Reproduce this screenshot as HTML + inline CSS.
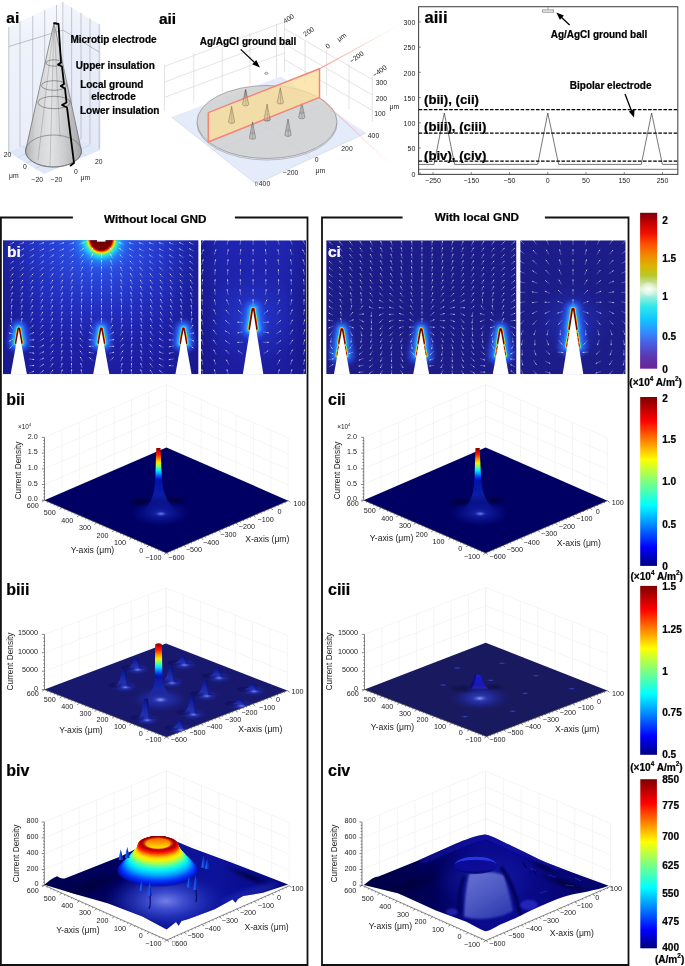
<!DOCTYPE html>
<html><head><meta charset="utf-8"><title>Figure</title>
<style>
html,body{margin:0;padding:0;background:#fff;}
body{width:685px;height:966px;overflow:hidden;font-family:"Liberation Sans",sans-serif;}
svg{display:block;font-family:"Liberation Sans",sans-serif;}
</style></head><body>
<svg width="685" height="966" viewBox="0 0 685 966">
<defs>
<linearGradient id="wallL" x1="0" y1="0" x2="0" y2="1" gradientUnits="objectBoundingBox"><stop offset="0" stop-color="#f7f9fe"/><stop offset="0.25" stop-color="#eef2fb"/><stop offset="1" stop-color="#e9eef9"/></linearGradient>
<linearGradient id="wallR" x1="0" y1="0" x2="0" y2="1" gradientUnits="objectBoundingBox"><stop offset="0" stop-color="#f4f6fd"/><stop offset="0.25" stop-color="#e9eef9"/><stop offset="1" stop-color="#e3e9f6"/></linearGradient>
<linearGradient id="coneg" x1="0" y1="0" x2="1" y2="0" gradientUnits="objectBoundingBox"><stop offset="0" stop-color="#a8a8a8"/><stop offset="0.18" stop-color="#cfcfcf"/><stop offset="0.45" stop-color="#e2e2e2"/><stop offset="0.7" stop-color="#c9c9c9"/><stop offset="1" stop-color="#9c9c9c"/></linearGradient>
<linearGradient id="pinkfade1" x1="319.5" y1="68.7" x2="405" y2="22" gradientUnits="userSpaceOnUse"><stop offset="0" stop-color="#f5897a" stop-opacity="0.85"/><stop offset="0.4" stop-color="#f5897a" stop-opacity="0.4"/><stop offset="0.75" stop-color="#f5897a" stop-opacity="0.1"/><stop offset="1" stop-color="#f5897a" stop-opacity="0"/></linearGradient>
<linearGradient id="pinkfade2" x1="319.5" y1="97.4" x2="392" y2="166" gradientUnits="userSpaceOnUse"><stop offset="0" stop-color="#f5897a" stop-opacity="0.55"/><stop offset="1" stop-color="#f5897a" stop-opacity="0"/></linearGradient>
<linearGradient id="cb1" x1="0" y1="0" x2="0" y2="1" gradientUnits="objectBoundingBox"><stop offset="0" stop-color="#7a0008"/><stop offset="0.06" stop-color="#c00000"/><stop offset="0.13" stop-color="#f01000"/><stop offset="0.2" stop-color="#ff5000"/><stop offset="0.27" stop-color="#f08800"/><stop offset="0.34" stop-color="#dcb400"/><stop offset="0.4" stop-color="#b8c828"/><stop offset="0.445" stop-color="#c4dc8c"/><stop offset="0.49" stop-color="#dcf4d4"/><stop offset="0.53" stop-color="#a8f0dc"/><stop offset="0.6" stop-color="#30e8e8"/><stop offset="0.68" stop-color="#10c8ff"/><stop offset="0.76" stop-color="#3090ff"/><stop offset="0.84" stop-color="#4a5ce0"/><stop offset="0.92" stop-color="#5c38b0"/><stop offset="1" stop-color="#6a2496"/></linearGradient>
<linearGradient id="jet" x1="0" y1="1" x2="0" y2="0" gradientUnits="objectBoundingBox"><stop offset="0" stop-color="#00007f"/><stop offset="0.11" stop-color="#0000ff"/><stop offset="0.36" stop-color="#00ffff"/><stop offset="0.5" stop-color="#7fff7f"/><stop offset="0.63" stop-color="#ffff00"/><stop offset="0.86" stop-color="#ff0000"/><stop offset="1" stop-color="#7f0000"/></linearGradient>
<radialGradient id="cb1g" cx="648.6" cy="289" r="9" gradientUnits="userSpaceOnUse" ><stop offset="0" stop-color="#ffffff" stop-opacity="0.9"/><stop offset="1" stop-color="#ffffff" stop-opacity="0"/></radialGradient>
<filter id="blur2" filterUnits="userSpaceOnUse" x="0" y="0" width="685" height="966"><feGaussianBlur stdDeviation="2.2"/></filter>
<filter id="blur1" filterUnits="userSpaceOnUse" x="0" y="0" width="685" height="966"><feGaussianBlur stdDeviation="0.9"/></filter>
<filter id="blur05" filterUnits="userSpaceOnUse" x="0" y="0" width="685" height="966"><feGaussianBlur stdDeviation="0.45"/></filter>
<clipPath id="cbiL"><rect x="3" y="240.3" width="195.5" height="133.89999999999998"/></clipPath>
<linearGradient id="bibg" x1="0" y1="0" x2="0" y2="1" gradientUnits="objectBoundingBox"><stop offset="0" stop-color="#222cbe"/><stop offset="0.5" stop-color="#2026b2"/><stop offset="1" stop-color="#1c1c9e"/></linearGradient>
<linearGradient id="biside" x1="0" y1="0" x2="1" y2="0" gradientUnits="objectBoundingBox"><stop offset="0" stop-color="#15157c" stop-opacity="0.55"/><stop offset="0.2" stop-color="#15157c" stop-opacity="0"/><stop offset="0.8" stop-color="#15157c" stop-opacity="0"/><stop offset="1" stop-color="#15157c" stop-opacity="0.55"/></linearGradient>
<radialGradient id="bignd2" cx="101.3" cy="240" r="105" gradientUnits="userSpaceOnUse" ><stop offset="0" stop-color="#3070ff" stop-opacity="0.95"/><stop offset="0.35" stop-color="#2e5cf0" stop-opacity="0.6"/><stop offset="0.7" stop-color="#2a48dc" stop-opacity="0.25"/><stop offset="1" stop-color="#2438c8" stop-opacity="0"/></radialGradient>
<radialGradient id="bignd" cx="101.3" cy="239.5" r="40" gradientUnits="userSpaceOnUse" ><stop offset="0" stop-color="#6a0000"/><stop offset="0.255" stop-color="#780000"/><stop offset="0.285" stop-color="#d81000"/><stop offset="0.31" stop-color="#ff8000"/><stop offset="0.335" stop-color="#f0f000"/><stop offset="0.37" stop-color="#60f090"/><stop offset="0.43" stop-color="#20d8f0" stop-opacity="0.95"/><stop offset="0.55" stop-color="#2488f8" stop-opacity="0.8"/><stop offset="0.75" stop-color="#2858e8" stop-opacity="0.4"/><stop offset="1" stop-color="#2838d0" stop-opacity="0"/></radialGradient>
<clipPath id="cbiR"><rect x="201" y="240.3" width="105" height="133.89999999999998"/></clipPath>
<linearGradient id="bibg2" x1="0" y1="0" x2="0" y2="1" gradientUnits="objectBoundingBox"><stop offset="0" stop-color="#1f25b0"/><stop offset="1" stop-color="#1c1c9e"/></linearGradient>
<radialGradient id="birglow" cx="253" cy="318" r="50" gradientUnits="userSpaceOnUse" ><stop offset="0" stop-color="#2c50f0" stop-opacity="0.6"/><stop offset="1" stop-color="#2438c8" stop-opacity="0"/></radialGradient>
<clipPath id="cciL"><rect x="326.2" y="240.3" width="190.3" height="133.89999999999998"/></clipPath>
<clipPath id="cciR"><rect x="520.2" y="240.3" width="105.39999999999998" height="133.89999999999998"/></clipPath>
<radialGradient id="cirglow" cx="573" cy="322" r="38" gradientUnits="userSpaceOnUse" ><stop offset="0" stop-color="#2a40e0" stop-opacity="0.6"/><stop offset="1" stop-color="#2030b0" stop-opacity="0"/></radialGradient>
<linearGradient id="jetcol" x1="0" y1="0" x2="0" y2="1" gradientUnits="objectBoundingBox"><stop offset="0" stop-color="#7f0000"/><stop offset="0.07" stop-color="#c00000"/><stop offset="0.2" stop-color="#ff2000"/><stop offset="0.34" stop-color="#ffa000"/><stop offset="0.45" stop-color="#f0f000"/><stop offset="0.56" stop-color="#70ff80"/><stop offset="0.68" stop-color="#00e8ff"/><stop offset="0.8" stop-color="#0070ff"/><stop offset="0.92" stop-color="#0018d0"/><stop offset="1" stop-color="#0010a8"/></linearGradient>
<radialGradient id="biish" cx="0.5" cy="0.5" r="0.5" gradientUnits="objectBoundingBox" ><stop offset="0" stop-color="#00002c" stop-opacity="0.75"/><stop offset="1" stop-color="#00002c" stop-opacity="0"/></radialGradient>
<radialGradient id="biibg" cx="0.5" cy="0.5" r="0.5" gradientUnits="objectBoundingBox" ><stop offset="0" stop-color="#2030c0" stop-opacity="0.85"/><stop offset="0.5" stop-color="#1020a8" stop-opacity="0.5"/><stop offset="1" stop-color="#0818a0" stop-opacity="0"/></radialGradient>
<linearGradient id="biifl" x1="0" y1="0" x2="0" y2="1" gradientUnits="objectBoundingBox"><stop offset="0" stop-color="#0010a8"/><stop offset="0.5" stop-color="#0c1ca4"/><stop offset="1" stop-color="#1424b0" stop-opacity="0.0"/></linearGradient>
<radialGradient id="biiws" cx="0.5" cy="0.5" r="0.5" gradientUnits="objectBoundingBox" ><stop offset="0" stop-color="#8090e8" stop-opacity="0.9"/><stop offset="1" stop-color="#4050d0" stop-opacity="0"/></radialGradient>
<radialGradient id="ciish" cx="0.5" cy="0.5" r="0.5" gradientUnits="objectBoundingBox" ><stop offset="0" stop-color="#00002c" stop-opacity="0.75"/><stop offset="1" stop-color="#00002c" stop-opacity="0"/></radialGradient>
<radialGradient id="ciibg" cx="0.5" cy="0.5" r="0.5" gradientUnits="objectBoundingBox" ><stop offset="0" stop-color="#2030c0" stop-opacity="0.85"/><stop offset="0.5" stop-color="#1020a8" stop-opacity="0.5"/><stop offset="1" stop-color="#0818a0" stop-opacity="0"/></radialGradient>
<linearGradient id="ciifl" x1="0" y1="0" x2="0" y2="1" gradientUnits="objectBoundingBox"><stop offset="0" stop-color="#0010a8"/><stop offset="0.5" stop-color="#0c1ca4"/><stop offset="1" stop-color="#1424b0" stop-opacity="0.0"/></linearGradient>
<radialGradient id="ciiws" cx="0.5" cy="0.5" r="0.5" gradientUnits="objectBoundingBox" ><stop offset="0" stop-color="#8090e8" stop-opacity="0.9"/><stop offset="1" stop-color="#4050d0" stop-opacity="0"/></radialGradient>
<clipPath id="clipb3"><polygon points="44.5,689.6 44.5,600 287.3,600 287.3,690.6 166.5,737"/></clipPath>
<radialGradient id="b3a0" cx="0.5" cy="0.5" r="0.5" gradientUnits="objectBoundingBox" ><stop offset="0" stop-color="#3444d0" stop-opacity="0.95"/><stop offset="0.45" stop-color="#2232b8" stop-opacity="0.7"/><stop offset="1" stop-color="#1a1a70" stop-opacity="0"/></radialGradient>
<linearGradient id="b3a0b" x1="0" y1="0" x2="0" y2="1" gradientUnits="objectBoundingBox"><stop offset="0" stop-color="#0c1288"/><stop offset="0.5" stop-color="#1826a8"/><stop offset="0.8" stop-color="#2434bc" stop-opacity="0.8"/><stop offset="1" stop-color="#2838c0" stop-opacity="0.0"/></linearGradient>
<radialGradient id="b3a0h" cx="0.5" cy="0.5" r="0.5" gradientUnits="objectBoundingBox" ><stop offset="0" stop-color="#8894e8" stop-opacity="0.85"/><stop offset="1" stop-color="#4050d0" stop-opacity="0"/></radialGradient>
<radialGradient id="b3a1" cx="0.5" cy="0.5" r="0.5" gradientUnits="objectBoundingBox" ><stop offset="0" stop-color="#3444d0" stop-opacity="0.95"/><stop offset="0.45" stop-color="#2232b8" stop-opacity="0.7"/><stop offset="1" stop-color="#1a1a70" stop-opacity="0"/></radialGradient>
<linearGradient id="b3a1b" x1="0" y1="0" x2="0" y2="1" gradientUnits="objectBoundingBox"><stop offset="0" stop-color="#0c1288"/><stop offset="0.5" stop-color="#1826a8"/><stop offset="0.8" stop-color="#2434bc" stop-opacity="0.8"/><stop offset="1" stop-color="#2838c0" stop-opacity="0.0"/></linearGradient>
<radialGradient id="b3a1h" cx="0.5" cy="0.5" r="0.5" gradientUnits="objectBoundingBox" ><stop offset="0" stop-color="#8894e8" stop-opacity="0.85"/><stop offset="1" stop-color="#4050d0" stop-opacity="0"/></radialGradient>
<radialGradient id="b3bg" cx="0.5" cy="0.5" r="0.5" gradientUnits="objectBoundingBox" ><stop offset="0" stop-color="#3040c8" stop-opacity="0.9"/><stop offset="0.5" stop-color="#2030b0" stop-opacity="0.55"/><stop offset="1" stop-color="#1a1a78" stop-opacity="0"/></radialGradient>
<radialGradient id="b3b0" cx="0.5" cy="0.5" r="0.5" gradientUnits="objectBoundingBox" ><stop offset="0" stop-color="#3444d0" stop-opacity="0.95"/><stop offset="0.45" stop-color="#2232b8" stop-opacity="0.7"/><stop offset="1" stop-color="#1a1a70" stop-opacity="0"/></radialGradient>
<linearGradient id="b3b0b" x1="0" y1="0" x2="0" y2="1" gradientUnits="objectBoundingBox"><stop offset="0" stop-color="#0c1288"/><stop offset="0.5" stop-color="#1826a8"/><stop offset="0.8" stop-color="#2434bc" stop-opacity="0.8"/><stop offset="1" stop-color="#2838c0" stop-opacity="0.0"/></linearGradient>
<radialGradient id="b3b0h" cx="0.5" cy="0.5" r="0.5" gradientUnits="objectBoundingBox" ><stop offset="0" stop-color="#8894e8" stop-opacity="0.85"/><stop offset="1" stop-color="#4050d0" stop-opacity="0"/></radialGradient>
<radialGradient id="b3b1" cx="0.5" cy="0.5" r="0.5" gradientUnits="objectBoundingBox" ><stop offset="0" stop-color="#3444d0" stop-opacity="0.95"/><stop offset="0.45" stop-color="#2232b8" stop-opacity="0.7"/><stop offset="1" stop-color="#1a1a70" stop-opacity="0"/></radialGradient>
<linearGradient id="b3b1b" x1="0" y1="0" x2="0" y2="1" gradientUnits="objectBoundingBox"><stop offset="0" stop-color="#0c1288"/><stop offset="0.5" stop-color="#1826a8"/><stop offset="0.8" stop-color="#2434bc" stop-opacity="0.8"/><stop offset="1" stop-color="#2838c0" stop-opacity="0.0"/></linearGradient>
<radialGradient id="b3b1h" cx="0.5" cy="0.5" r="0.5" gradientUnits="objectBoundingBox" ><stop offset="0" stop-color="#8894e8" stop-opacity="0.85"/><stop offset="1" stop-color="#4050d0" stop-opacity="0"/></radialGradient>
<radialGradient id="b3b2" cx="0.5" cy="0.5" r="0.5" gradientUnits="objectBoundingBox" ><stop offset="0" stop-color="#3444d0" stop-opacity="0.95"/><stop offset="0.45" stop-color="#2232b8" stop-opacity="0.7"/><stop offset="1" stop-color="#1a1a70" stop-opacity="0"/></radialGradient>
<linearGradient id="b3b2b" x1="0" y1="0" x2="0" y2="1" gradientUnits="objectBoundingBox"><stop offset="0" stop-color="#0c1288"/><stop offset="0.5" stop-color="#1826a8"/><stop offset="0.8" stop-color="#2434bc" stop-opacity="0.8"/><stop offset="1" stop-color="#2838c0" stop-opacity="0.0"/></linearGradient>
<radialGradient id="b3b2h" cx="0.5" cy="0.5" r="0.5" gradientUnits="objectBoundingBox" ><stop offset="0" stop-color="#8894e8" stop-opacity="0.85"/><stop offset="1" stop-color="#4050d0" stop-opacity="0"/></radialGradient>
<radialGradient id="b3b3" cx="0.5" cy="0.5" r="0.5" gradientUnits="objectBoundingBox" ><stop offset="0" stop-color="#3444d0" stop-opacity="0.95"/><stop offset="0.45" stop-color="#2232b8" stop-opacity="0.7"/><stop offset="1" stop-color="#1a1a70" stop-opacity="0"/></radialGradient>
<linearGradient id="b3b3b" x1="0" y1="0" x2="0" y2="1" gradientUnits="objectBoundingBox"><stop offset="0" stop-color="#0c1288"/><stop offset="0.5" stop-color="#1826a8"/><stop offset="0.8" stop-color="#2434bc" stop-opacity="0.8"/><stop offset="1" stop-color="#2838c0" stop-opacity="0.0"/></linearGradient>
<radialGradient id="b3b3h" cx="0.5" cy="0.5" r="0.5" gradientUnits="objectBoundingBox" ><stop offset="0" stop-color="#8894e8" stop-opacity="0.85"/><stop offset="1" stop-color="#4050d0" stop-opacity="0"/></radialGradient>
<radialGradient id="b3b4" cx="0.5" cy="0.5" r="0.5" gradientUnits="objectBoundingBox" ><stop offset="0" stop-color="#3444d0" stop-opacity="0.95"/><stop offset="0.45" stop-color="#2232b8" stop-opacity="0.7"/><stop offset="1" stop-color="#1a1a70" stop-opacity="0"/></radialGradient>
<linearGradient id="b3b4b" x1="0" y1="0" x2="0" y2="1" gradientUnits="objectBoundingBox"><stop offset="0" stop-color="#0c1288"/><stop offset="0.5" stop-color="#1826a8"/><stop offset="0.8" stop-color="#2434bc" stop-opacity="0.8"/><stop offset="1" stop-color="#2838c0" stop-opacity="0.0"/></linearGradient>
<radialGradient id="b3b4h" cx="0.5" cy="0.5" r="0.5" gradientUnits="objectBoundingBox" ><stop offset="0" stop-color="#8894e8" stop-opacity="0.85"/><stop offset="1" stop-color="#4050d0" stop-opacity="0"/></radialGradient>
<linearGradient id="b3fl" x1="0" y1="0" x2="0" y2="1" gradientUnits="objectBoundingBox"><stop offset="0" stop-color="#0a18a0"/><stop offset="0.6" stop-color="#1828a8"/><stop offset="1" stop-color="#2030b0" stop-opacity="0"/></linearGradient>
<radialGradient id="b3ws" cx="0.5" cy="0.5" r="0.5" gradientUnits="objectBoundingBox" ><stop offset="0" stop-color="#98a4f0" stop-opacity="0.95"/><stop offset="1" stop-color="#4050d0" stop-opacity="0"/></radialGradient>
<radialGradient id="b3c0" cx="0.5" cy="0.5" r="0.5" gradientUnits="objectBoundingBox" ><stop offset="0" stop-color="#3444d0" stop-opacity="0.95"/><stop offset="0.45" stop-color="#2232b8" stop-opacity="0.7"/><stop offset="1" stop-color="#1a1a70" stop-opacity="0"/></radialGradient>
<linearGradient id="b3c0b" x1="0" y1="0" x2="0" y2="1" gradientUnits="objectBoundingBox"><stop offset="0" stop-color="#0c1288"/><stop offset="0.5" stop-color="#1826a8"/><stop offset="0.8" stop-color="#2434bc" stop-opacity="0.8"/><stop offset="1" stop-color="#2838c0" stop-opacity="0.0"/></linearGradient>
<radialGradient id="b3c0h" cx="0.5" cy="0.5" r="0.5" gradientUnits="objectBoundingBox" ><stop offset="0" stop-color="#8894e8" stop-opacity="0.85"/><stop offset="1" stop-color="#4050d0" stop-opacity="0"/></radialGradient>
<radialGradient id="b3c1" cx="0.5" cy="0.5" r="0.5" gradientUnits="objectBoundingBox" ><stop offset="0" stop-color="#3444d0" stop-opacity="0.95"/><stop offset="0.45" stop-color="#2232b8" stop-opacity="0.7"/><stop offset="1" stop-color="#1a1a70" stop-opacity="0"/></radialGradient>
<linearGradient id="b3c1b" x1="0" y1="0" x2="0" y2="1" gradientUnits="objectBoundingBox"><stop offset="0" stop-color="#0c1288"/><stop offset="0.5" stop-color="#1826a8"/><stop offset="0.8" stop-color="#2434bc" stop-opacity="0.8"/><stop offset="1" stop-color="#2838c0" stop-opacity="0.0"/></linearGradient>
<radialGradient id="b3c1h" cx="0.5" cy="0.5" r="0.5" gradientUnits="objectBoundingBox" ><stop offset="0" stop-color="#8894e8" stop-opacity="0.85"/><stop offset="1" stop-color="#4050d0" stop-opacity="0"/></radialGradient>
<radialGradient id="b3c2" cx="0.5" cy="0.5" r="0.5" gradientUnits="objectBoundingBox" ><stop offset="0" stop-color="#3444d0" stop-opacity="0.95"/><stop offset="0.45" stop-color="#2232b8" stop-opacity="0.7"/><stop offset="1" stop-color="#1a1a70" stop-opacity="0"/></radialGradient>
<linearGradient id="b3c2b" x1="0" y1="0" x2="0" y2="1" gradientUnits="objectBoundingBox"><stop offset="0" stop-color="#0c1288"/><stop offset="0.5" stop-color="#1826a8"/><stop offset="0.8" stop-color="#2434bc" stop-opacity="0.8"/><stop offset="1" stop-color="#2838c0" stop-opacity="0.0"/></linearGradient>
<radialGradient id="b3c2h" cx="0.5" cy="0.5" r="0.5" gradientUnits="objectBoundingBox" ><stop offset="0" stop-color="#8894e8" stop-opacity="0.85"/><stop offset="1" stop-color="#4050d0" stop-opacity="0"/></radialGradient>
<radialGradient id="b3c3" cx="0.5" cy="0.5" r="0.5" gradientUnits="objectBoundingBox" ><stop offset="0" stop-color="#3444d0" stop-opacity="0.95"/><stop offset="0.45" stop-color="#2232b8" stop-opacity="0.7"/><stop offset="1" stop-color="#1a1a70" stop-opacity="0"/></radialGradient>
<linearGradient id="b3c3b" x1="0" y1="0" x2="0" y2="1" gradientUnits="objectBoundingBox"><stop offset="0" stop-color="#0c1288"/><stop offset="0.5" stop-color="#1826a8"/><stop offset="0.8" stop-color="#2434bc" stop-opacity="0.8"/><stop offset="1" stop-color="#2838c0" stop-opacity="0.0"/></linearGradient>
<radialGradient id="b3c3h" cx="0.5" cy="0.5" r="0.5" gradientUnits="objectBoundingBox" ><stop offset="0" stop-color="#8894e8" stop-opacity="0.85"/><stop offset="1" stop-color="#4050d0" stop-opacity="0"/></radialGradient>
<radialGradient id="c3bg" cx="0.5" cy="0.5" r="0.5" gradientUnits="objectBoundingBox" ><stop offset="0" stop-color="#3444c8" stop-opacity="0.95"/><stop offset="0.4" stop-color="#2430a8" stop-opacity="0.75"/><stop offset="0.75" stop-color="#1c2080" stop-opacity="0.35"/><stop offset="1" stop-color="#19195f" stop-opacity="0"/></radialGradient>
<radialGradient id="c3sh" cx="0.5" cy="0.5" r="0.5" gradientUnits="objectBoundingBox" ><stop offset="0" stop-color="#0c0c40" stop-opacity="0.7"/><stop offset="1" stop-color="#0c0c40" stop-opacity="0"/></radialGradient>
<linearGradient id="c3bell" x1="0" y1="0" x2="0" y2="1" gradientUnits="objectBoundingBox"><stop offset="0" stop-color="#1c1cf0"/><stop offset="0.25" stop-color="#1818d0"/><stop offset="0.7" stop-color="#1818b4"/><stop offset="1" stop-color="#2024b0"/></linearGradient>
<radialGradient id="c3ws" cx="0.5" cy="0.5" r="0.5" gradientUnits="objectBoundingBox" ><stop offset="0" stop-color="#98a4ee" stop-opacity="0.9"/><stop offset="1" stop-color="#4050d0" stop-opacity="0"/></radialGradient>
<radialGradient id="c3dot" cx="0.5" cy="0.5" r="0.5" gradientUnits="objectBoundingBox" ><stop offset="0" stop-color="#3850e0" stop-opacity="0.85"/><stop offset="1" stop-color="#3040d0" stop-opacity="0"/></radialGradient>
<clipPath id="clipb4"><path d="M44.3 884.8 C48 882 52 878 57 876.3 C60 878 62 879.5 66 878 L121.6 856 L150 842 L166 837 L192 848 L230 862 L288.1 884.5 L262.9 892.8 L243.2 896.1 L238 899 L235.5 902.7 L232.5 899.5 L214.7 909.3 L188.5 919.1 L181.5 921 L178.6 925.7 L176 922 L166.6 929.6 L142.5 916.5 L108.3 903.6 L75 894 Z"/></clipPath>
<linearGradient id="b4s" x1="0" y1="0" x2="1" y2="0" gradientUnits="objectBoundingBox"><stop offset="0" stop-color="#00004e"/><stop offset="0.3" stop-color="#00005e"/><stop offset="0.5" stop-color="#0c1496"/><stop offset="0.72" stop-color="#0c129a"/><stop offset="1" stop-color="#04047c"/></linearGradient>
<radialGradient id="b4lt" cx="0.5" cy="0.5" r="0.5" gradientUnits="objectBoundingBox" ><stop offset="0" stop-color="#7884e8" stop-opacity="0.95"/><stop offset="0.3" stop-color="#4050d4" stop-opacity="0.9"/><stop offset="0.65" stop-color="#2030b8" stop-opacity="0.6"/><stop offset="1" stop-color="#1018a0" stop-opacity="0"/></radialGradient>
<radialGradient id="b4dk" cx="0.5" cy="0.5" r="0.5" gradientUnits="objectBoundingBox" ><stop offset="0" stop-color="#000038" stop-opacity="0.85"/><stop offset="1" stop-color="#000040" stop-opacity="0"/></radialGradient>
<linearGradient id="b4top" x1="0" y1="0" x2="0" y2="1" gradientUnits="objectBoundingBox"><stop offset="0" stop-color="#780000"/><stop offset="0.4" stop-color="#a00000"/><stop offset="0.75" stop-color="#d01000"/><stop offset="1" stop-color="#ee2000"/></linearGradient>
<linearGradient id="b4cr" x1="0" y1="0" x2="0" y2="1" gradientUnits="objectBoundingBox"><stop offset="0" stop-color="#ff6a00"/><stop offset="0.4" stop-color="#ffa000"/><stop offset="0.8" stop-color="#ffd000"/><stop offset="1" stop-color="#ffe000"/></linearGradient>
<clipPath id="clipc4"><path d="M363.8 885 C367 882.5 371 878.5 375.5 877 C378 876.5 379 876.5 381 875.5 L416.9 861 L454.9 844 C465 839.5 476 835.5 485.2 834.4 C495 836.5 503 842 511.8 845.9 C521 850 530 854.5 538.4 859 C550 864.5 561 868 572.5 872.4 L608.6 885.7 C601 888.5 594 890 587.7 891.4 C577 893.5 567 895 557.4 899 C545 904 534 909 523.2 914.2 C515 918.5 508 921.5 500.4 924.4 C495 927 490 931 485.2 931.3 C478 928.5 472 924.5 466.3 921.8 L435.9 910.4 L398 893.3 Z"/></clipPath>
<linearGradient id="c4s" x1="0" y1="0" x2="1" y2="0" gradientUnits="objectBoundingBox"><stop offset="0" stop-color="#000044"/><stop offset="0.28" stop-color="#000058"/><stop offset="0.44" stop-color="#090988"/><stop offset="0.6" stop-color="#0b0b92"/><stop offset="0.8" stop-color="#060678"/><stop offset="1" stop-color="#040466"/></linearGradient>
<radialGradient id="c4lt" cx="0.5" cy="0.5" r="0.5" gradientUnits="objectBoundingBox" ><stop offset="0" stop-color="#1a22b4" stop-opacity="0.75"/><stop offset="1" stop-color="#1018a0" stop-opacity="0"/></radialGradient>
<radialGradient id="c4dk" cx="0.5" cy="0.5" r="0.5" gradientUnits="objectBoundingBox" ><stop offset="0" stop-color="#000038" stop-opacity="0.85"/><stop offset="1" stop-color="#000040" stop-opacity="0"/></radialGradient>
<linearGradient id="c4tr" x1="0.2" y1="0" x2="0.8" y2="1" gradientUnits="objectBoundingBox"><stop offset="0" stop-color="#6470d0"/><stop offset="0.5" stop-color="#4c58c2"/><stop offset="1" stop-color="#2c38ae"/></linearGradient>
</defs>
<rect x="0" y="0" width="685" height="966" fill="#ffffff"/>
<g opacity="0.9999">
<polygon points="8,27 62.5,2 62.5,128 8,152" fill="url(#wallL)"/>
<polygon points="62.5,2 100.5,25 100.5,150 62.5,128" fill="url(#wallR)"/>
<polygon points="8,152 62.5,128 100.5,150 44,174" fill="#dfe8f9"/>
<line x1="8.8" y1="27" x2="8.8" y2="152" stroke="#9a9aa2" stroke-width="0.5"/>
<line x1="20" y1="21.5" x2="20" y2="147" stroke="#9a9aa2" stroke-width="0.5"/>
<line x1="32.7" y1="15.8" x2="32.7" y2="141.5" stroke="#9a9aa2" stroke-width="0.5"/>
<line x1="44.7" y1="10.3" x2="44.7" y2="136" stroke="#9a9aa2" stroke-width="0.5"/>
<line x1="56.5" y1="5" x2="56.5" y2="131" stroke="#9a9aa2" stroke-width="0.5"/>
<line x1="62.8" y1="2" x2="62.8" y2="128" stroke="#9a9aa2" stroke-width="0.5"/>
<line x1="71.6" y1="7.5" x2="71.6" y2="133.5" stroke="#9a9aa2" stroke-width="0.5"/>
<line x1="81" y1="13" x2="81" y2="139" stroke="#9a9aa2" stroke-width="0.5"/>
<line x1="90" y1="18.5" x2="90" y2="144" stroke="#9a9aa2" stroke-width="0.5"/>
<line x1="99.2" y1="24" x2="99.2" y2="149.5" stroke="#9a9aa2" stroke-width="0.5"/>
<path d="M8.8 46.5 L62.8 30 L99.2 52" fill="none" stroke="#8a8a92" stroke-width="0.5"/>
<line x1="21.6" y1="146.0" x2="58.1" y2="168.0" stroke="#b8bcc8" stroke-width="0.4"/>
<line x1="17.0" y1="157.5" x2="72.0" y2="133.5" stroke="#b8bcc8" stroke-width="0.4"/>
<line x1="35.2" y1="140.0" x2="72.2" y2="162.0" stroke="#b8bcc8" stroke-width="0.4"/>
<line x1="26.0" y1="163.0" x2="81.5" y2="139.0" stroke="#b8bcc8" stroke-width="0.4"/>
<line x1="48.9" y1="134.0" x2="86.4" y2="156.0" stroke="#b8bcc8" stroke-width="0.4"/>
<line x1="35.0" y1="168.5" x2="91.0" y2="144.5" stroke="#b8bcc8" stroke-width="0.4"/>
<path d="M54 23 L25.5 151 A28 16 0 0 0 81.5 151 Z" fill="url(#coneg)" fill-opacity="0.88" stroke="#555" stroke-width="0.6"/>
<ellipse cx="53.5" cy="151" rx="28" ry="16" fill="none" stroke="#666" stroke-width="0.6"/>
<path d="M54 23 L38 160 M54 23 L50 166 M54 23 L60 137" fill="none" stroke="#777" stroke-width="0.35"/>
<ellipse cx="54" cy="63" rx="8" ry="3.2" fill="none" stroke="#555" stroke-width="0.55"/>
<ellipse cx="54" cy="85.5" rx="12.6" ry="4.8" fill="none" stroke="#555" stroke-width="0.55"/>
<ellipse cx="54" cy="102.5" rx="16.2" ry="6.2" fill="none" stroke="#555" stroke-width="0.55"/>
<path d="M53.5 23 L58.5 24 L61 62.5 L58 64.5 L62 66.5 L64 84 L60.8 86 L65 88.5 L66.5 102.5 L62 105 L67 107.5 L74 163 L70 166" fill="none" stroke="#000" stroke-width="1.8" stroke-linejoin="round"/>
<text x="12.8" y="22.6" font-size="15.5" text-anchor="middle" font-weight="bold" fill="#000" stroke="#000" stroke-width="0.22">ai</text>
<text x="113.5" y="43.2" font-size="10" text-anchor="middle" font-weight="bold" fill="#000" stroke="#000" stroke-width="0.22">Microtip electrode</text>
<text x="115.3" y="69.2" font-size="10" text-anchor="middle" font-weight="bold" fill="#000" stroke="#000" stroke-width="0.22">Upper insulation</text>
<text x="111.8" y="87.6" font-size="10" text-anchor="middle" font-weight="bold" fill="#000" stroke="#000" stroke-width="0.22">Local ground</text>
<text x="113.5" y="99.6" font-size="10" text-anchor="middle" font-weight="bold" fill="#000" stroke="#000" stroke-width="0.22">electrode</text>
<text x="119.7" y="114.2" font-size="10" text-anchor="middle" font-weight="bold" fill="#000" stroke="#000" stroke-width="0.22">Lower insulation</text>
<text x="7.5" y="156.5" font-size="6.8" text-anchor="middle" font-weight="normal" fill="#222">20</text>
<text x="25" y="169" font-size="6.8" text-anchor="middle" font-weight="normal" fill="#222">0</text>
<text x="13.8" y="177.5" font-size="6.8" text-anchor="middle" font-weight="normal" fill="#222">μm</text>
<text x="37.2" y="182" font-size="6.8" text-anchor="middle" font-weight="normal" fill="#222">−20</text>
<text x="56.5" y="181.7" font-size="6.8" text-anchor="middle" font-weight="normal" fill="#222">−20</text>
<text x="76" y="173.5" font-size="6.8" text-anchor="middle" font-weight="normal" fill="#222">0</text>
<text x="85.4" y="179.6" font-size="6.8" text-anchor="middle" font-weight="normal" fill="#222">μm</text>
<text x="98.7" y="164" font-size="6.8" text-anchor="middle" font-weight="normal" fill="#222">20</text>
<line x1="164.5" y1="64.7" x2="164.5" y2="111" stroke="#d2d2d2" stroke-width="0.6"/>
<line x1="193.7" y1="53.5" x2="193.7" y2="102" stroke="#d2d2d2" stroke-width="0.6"/>
<line x1="222.3" y1="43" x2="222.3" y2="93" stroke="#d2d2d2" stroke-width="0.6"/>
<line x1="250" y1="33" x2="250" y2="85" stroke="#d2d2d2" stroke-width="0.6"/>
<line x1="276.5" y1="24" x2="276.5" y2="78" stroke="#d2d2d2" stroke-width="0.6"/>
<line x1="164.5" y1="66.4" x2="284.5" y2="21.900000000000006" stroke="#d2d2d2" stroke-width="0.6"/>
<line x1="164.5" y1="82" x2="284.5" y2="37.5" stroke="#d2d2d2" stroke-width="0.6"/>
<line x1="164.5" y1="97.4" x2="284.5" y2="52.900000000000006" stroke="#d2d2d2" stroke-width="0.6"/>
<line x1="284.5" y1="22" x2="284.5" y2="72" stroke="#d2d2d2" stroke-width="0.6"/>
<line x1="305" y1="41" x2="305" y2="84" stroke="#d2d2d2" stroke-width="0.6"/>
<line x1="326.6" y1="50" x2="326.6" y2="96" stroke="#d2d2d2" stroke-width="0.6"/>
<line x1="349" y1="63.4" x2="349" y2="109" stroke="#d2d2d2" stroke-width="0.6"/>
<line x1="372.4" y1="76.6" x2="372.4" y2="122" stroke="#d2d2d2" stroke-width="0.6"/>
<line x1="284.5" y1="28.6" x2="372.4" y2="79.6" stroke="#d2d2d2" stroke-width="0.6"/>
<line x1="284.5" y1="44" x2="372.4" y2="95" stroke="#d2d2d2" stroke-width="0.6"/>
<line x1="284.5" y1="59.5" x2="372.4" y2="110.5" stroke="#d2d2d2" stroke-width="0.6"/>
<polygon points="171.5,117 281,76.5 366,133 256,184" fill="#e4ebfa"/>
<path d="M171.5 117 L256 184 L366 133" fill="none" stroke="#c5cad6" stroke-width="0.5"/>
<path d="M213.7 150.5 L323.5 104.7 M226 96.7 L311 158.5" fill="none" stroke="#c8cfdf" stroke-width="0.5"/>
<ellipse cx="267" cy="122" rx="70" ry="36.5" fill="#cfcfcf" fill-opacity="0.82" stroke="#8c8c8c" stroke-width="0.7"/>
<path d="M197 123.5 A70 36.5 0 0 0 337 123.5" fill="none" stroke="#9a9a9a" stroke-width="0.6"/>
<line x1="319.5" y1="68.7" x2="405" y2="22" stroke="url(#pinkfade1)" stroke-width="1.2"/>
<line x1="319.5" y1="97.4" x2="392" y2="166" stroke="url(#pinkfade2)" stroke-width="1.2"/>
<path d="M245.6 89.6 L242.5 104.5 A3.1 1.4 0 0 0 248.7 104.5 Z" fill="#bdbdbd" fill-opacity="0.9" stroke="#555" stroke-width="0.45"/>
<line x1="245.6" y1="89.6" x2="245.9" y2="105.5" stroke="#666" stroke-width="0.3"/>
<ellipse cx="245.6" cy="100.0" rx="1.9840000000000002" ry="0.9" fill="none" stroke="#666" stroke-width="0.3"/>
<path d="M280.3 87.8 L277.2 102.6 A3.1 1.4 0 0 0 283.40000000000003 102.6 Z" fill="#bdbdbd" fill-opacity="0.9" stroke="#555" stroke-width="0.45"/>
<line x1="280.3" y1="87.8" x2="280.6" y2="103.6" stroke="#666" stroke-width="0.3"/>
<ellipse cx="280.3" cy="98.1" rx="1.9840000000000002" ry="0.9" fill="none" stroke="#666" stroke-width="0.3"/>
<path d="M231.6 106.5 L228.5 122 A3.1 1.4 0 0 0 234.7 122 Z" fill="#bdbdbd" fill-opacity="0.9" stroke="#555" stroke-width="0.45"/>
<line x1="231.6" y1="106.5" x2="231.9" y2="123" stroke="#666" stroke-width="0.3"/>
<ellipse cx="231.6" cy="117.5" rx="1.9840000000000002" ry="0.9" fill="none" stroke="#666" stroke-width="0.3"/>
<path d="M267.1 104.2 L264.0 119.6 A3.1 1.4 0 0 0 270.20000000000005 119.6 Z" fill="#bdbdbd" fill-opacity="0.9" stroke="#555" stroke-width="0.45"/>
<line x1="267.1" y1="104.2" x2="267.40000000000003" y2="120.6" stroke="#666" stroke-width="0.3"/>
<ellipse cx="267.1" cy="115.1" rx="1.9840000000000002" ry="0.9" fill="none" stroke="#666" stroke-width="0.3"/>
<path d="M301.8 102.6 L298.7 117.4 A3.1 1.4 0 0 0 304.90000000000003 117.4 Z" fill="#bdbdbd" fill-opacity="0.9" stroke="#555" stroke-width="0.45"/>
<line x1="301.8" y1="102.6" x2="302.1" y2="118.4" stroke="#666" stroke-width="0.3"/>
<ellipse cx="301.8" cy="112.9" rx="1.9840000000000002" ry="0.9" fill="none" stroke="#666" stroke-width="0.3"/>
<polygon points="208.3,112.6 319.5,68.7 319.5,97.4 208.3,142" fill="#fbdf9c" fill-opacity="0.78" stroke="#f28577" stroke-width="1.5" stroke-linejoin="round"/>
<path d="M245.6 89.6 L242.5 104.5 A3.1 1.4 0 0 0 248.7 104.5 Z" fill="#c8b890" fill-opacity="0.35" stroke="#5a5040" stroke-width="0.45" stroke-opacity="0.7"/>
<line x1="245.6" y1="89.6" x2="245.9" y2="105.5" stroke="#5a5040" stroke-width="0.3" stroke-opacity="0.7"/>
<path d="M280.3 87.8 L277.2 102.6 A3.1 1.4 0 0 0 283.40000000000003 102.6 Z" fill="#c8b890" fill-opacity="0.35" stroke="#5a5040" stroke-width="0.45" stroke-opacity="0.7"/>
<line x1="280.3" y1="87.8" x2="280.6" y2="103.6" stroke="#5a5040" stroke-width="0.3" stroke-opacity="0.7"/>
<path d="M231.6 106.5 L228.5 122 A3.1 1.4 0 0 0 234.7 122 Z" fill="#c8b890" fill-opacity="0.35" stroke="#5a5040" stroke-width="0.45" stroke-opacity="0.7"/>
<line x1="231.6" y1="106.5" x2="231.9" y2="123" stroke="#5a5040" stroke-width="0.3" stroke-opacity="0.7"/>
<path d="M267.1 104.2 L264.0 119.6 A3.1 1.4 0 0 0 270.20000000000005 119.6 Z" fill="#c8b890" fill-opacity="0.35" stroke="#5a5040" stroke-width="0.45" stroke-opacity="0.7"/>
<line x1="267.1" y1="104.2" x2="267.40000000000003" y2="120.6" stroke="#5a5040" stroke-width="0.3" stroke-opacity="0.7"/>
<path d="M252.5 121.9 L249.4 137.8 A3.1 1.4 0 0 0 255.6 137.8 Z" fill="#bdbdbd" fill-opacity="0.9" stroke="#555" stroke-width="0.45"/>
<line x1="252.5" y1="121.9" x2="252.8" y2="138.8" stroke="#666" stroke-width="0.3"/>
<ellipse cx="252.5" cy="133.3" rx="1.9840000000000002" ry="0.9" fill="none" stroke="#666" stroke-width="0.3"/>
<path d="M288 119 L284.9 135 A3.1 1.4 0 0 0 291.1 135 Z" fill="#bdbdbd" fill-opacity="0.9" stroke="#555" stroke-width="0.45"/>
<line x1="288" y1="119" x2="288.3" y2="136" stroke="#666" stroke-width="0.3"/>
<ellipse cx="288" cy="130.5" rx="1.9840000000000002" ry="0.9" fill="none" stroke="#666" stroke-width="0.3"/>
<ellipse cx="266.3" cy="73.3" rx="1.7" ry="1.1" fill="#ddd" stroke="#666" stroke-width="0.5"/>
<line x1="240.7" y1="49.4" x2="256.5" y2="64.3" stroke="#000" stroke-width="1.3"/>
<polygon points="259.9,67.6 252.2,64.3 256.3,60.1" fill="#000"/>
<text x="167.5" y="23.5" font-size="15.5" text-anchor="middle" font-weight="bold" fill="#000" stroke="#000" stroke-width="0.22">aii</text>
<text x="248" y="44.7" font-size="10" text-anchor="middle" font-weight="bold" fill="#000" stroke="#000" stroke-width="0.22">Ag/AgCl ground ball</text>
<text x="290" y="20.5" font-size="6.8" text-anchor="middle" font-weight="normal" fill="#222" transform="rotate(-35 290 20.5)">400</text>
<text x="310" y="33.5" font-size="6.8" text-anchor="middle" font-weight="normal" fill="#222" transform="rotate(-35 310 33.5)">200</text>
<text x="329" y="48" font-size="6.8" text-anchor="middle" font-weight="normal" fill="#222" transform="rotate(-35 329 48)">0</text>
<text x="343" y="39" font-size="6.8" text-anchor="middle" font-weight="normal" fill="#222" transform="rotate(-35 343 39)">μm</text>
<text x="358" y="59" font-size="6.8" text-anchor="middle" font-weight="normal" fill="#222" transform="rotate(-35 358 59)">−200</text>
<text x="381" y="73" font-size="6.8" text-anchor="middle" font-weight="normal" fill="#222" transform="rotate(-35 381 73)">−400</text>
<text x="381.4" y="85.2" font-size="6.8" text-anchor="middle" font-weight="normal" fill="#222">300</text>
<text x="381.4" y="100.8" font-size="6.8" text-anchor="middle" font-weight="normal" fill="#222">200</text>
<text x="379.8" y="115.5" font-size="6.8" text-anchor="middle" font-weight="normal" fill="#222">100</text>
<text x="394.4" y="108.7" font-size="6.8" text-anchor="middle" font-weight="normal" fill="#222">μm</text>
<text x="373.5" y="138.2" font-size="6.8" text-anchor="middle" font-weight="normal" fill="#222">400</text>
<text x="347" y="151" font-size="6.8" text-anchor="middle" font-weight="normal" fill="#222">200</text>
<text x="316.7" y="161.5" font-size="6.8" text-anchor="middle" font-weight="normal" fill="#222">0</text>
<text x="320.3" y="173.4" font-size="6.8" text-anchor="middle" font-weight="normal" fill="#222">μm</text>
<text x="290.7" y="174.5" font-size="6.8" text-anchor="middle" font-weight="normal" fill="#222">−200</text>
<text x="264.5" y="186.4" font-size="6.8" text-anchor="middle" font-weight="normal" fill="#222">400</text>
<rect x="255.2" y="182" width="2.6" height="3.6" fill="none" stroke="#444" stroke-width="0.4"/>
<rect x="418.6" y="6.7" width="259.2" height="167.7" fill="#fff" stroke="#4a4a4a" stroke-width="1.1"/>
<line x1="418.6" y1="173.2" x2="421" y2="173.2" stroke="#444" stroke-width="0.6"/>
<text x="415.3" y="176.9" font-size="7.0" text-anchor="end" font-weight="normal" fill="#222">0</text>
<line x1="418.6" y1="148.0" x2="421" y2="148.0" stroke="#444" stroke-width="0.6"/>
<text x="415.3" y="151.285" font-size="7.0" text-anchor="end" font-weight="normal" fill="#222">50</text>
<line x1="418.6" y1="122.8" x2="421" y2="122.8" stroke="#444" stroke-width="0.6"/>
<text x="415.3" y="126.06999999999998" font-size="7.0" text-anchor="end" font-weight="normal" fill="#222">100</text>
<line x1="418.6" y1="97.6" x2="421" y2="97.6" stroke="#444" stroke-width="0.6"/>
<text x="415.3" y="100.85499999999999" font-size="7.0" text-anchor="end" font-weight="normal" fill="#222">150</text>
<line x1="418.6" y1="72.3" x2="421" y2="72.3" stroke="#444" stroke-width="0.6"/>
<text x="415.3" y="75.63999999999999" font-size="7.0" text-anchor="end" font-weight="normal" fill="#222">200</text>
<line x1="418.6" y1="47.1" x2="421" y2="47.1" stroke="#444" stroke-width="0.6"/>
<text x="415.3" y="50.425" font-size="7.0" text-anchor="end" font-weight="normal" fill="#222">250</text>
<line x1="418.6" y1="21.9" x2="421" y2="21.9" stroke="#444" stroke-width="0.6"/>
<text x="415.3" y="25.209999999999997" font-size="7.0" text-anchor="end" font-weight="normal" fill="#222">300</text>
<line x1="433" y1="174.4" x2="433" y2="172" stroke="#444" stroke-width="0.6"/>
<text x="433" y="183.1" font-size="7.0" text-anchor="middle" font-weight="normal" fill="#222">−250</text>
<line x1="471.3" y1="174.4" x2="471.3" y2="172" stroke="#444" stroke-width="0.6"/>
<text x="471.3" y="183.1" font-size="7.0" text-anchor="middle" font-weight="normal" fill="#222">−150</text>
<line x1="509.5" y1="174.4" x2="509.5" y2="172" stroke="#444" stroke-width="0.6"/>
<text x="509.5" y="183.1" font-size="7.0" text-anchor="middle" font-weight="normal" fill="#222">−50</text>
<line x1="547.8" y1="174.4" x2="547.8" y2="172" stroke="#444" stroke-width="0.6"/>
<text x="547.8" y="183.1" font-size="7.0" text-anchor="middle" font-weight="normal" fill="#222">0</text>
<line x1="586" y1="174.4" x2="586" y2="172" stroke="#444" stroke-width="0.6"/>
<text x="586" y="183.1" font-size="7.0" text-anchor="middle" font-weight="normal" fill="#222">50</text>
<line x1="624.3" y1="174.4" x2="624.3" y2="172" stroke="#444" stroke-width="0.6"/>
<text x="624.3" y="183.1" font-size="7.0" text-anchor="middle" font-weight="normal" fill="#222">150</text>
<line x1="662.5" y1="174.4" x2="662.5" y2="172" stroke="#444" stroke-width="0.6"/>
<text x="662.5" y="183.1" font-size="7.0" text-anchor="middle" font-weight="normal" fill="#222">250</text>
<path d="M418.6 164.4 H434 L444.3 113 L454.6 164.4 H537.7 L547.8 113 L558.6 164.4 H641.3 L651.6 113 L662.4 164.4 H677.8" fill="none" stroke="#3c3c3c" stroke-width="0.7"/>
<line x1="418.6" y1="169.3" x2="677.8" y2="169.3" stroke="#3c3c3c" stroke-width="0.7"/>
<line x1="418.6" y1="109.7" x2="677.8" y2="109.7" stroke="#000" stroke-width="1.3" stroke-dasharray="3.6 1.5"/>
<line x1="418.6" y1="133.1" x2="677.8" y2="133.1" stroke="#000" stroke-width="1.3" stroke-dasharray="3.6 1.5"/>
<line x1="418.6" y1="161.2" x2="677.8" y2="161.2" stroke="#000" stroke-width="1.3" stroke-dasharray="3.6 1.5"/>
<text x="436" y="23.3" font-size="16.5" text-anchor="middle" font-weight="bold" fill="#000" stroke="#000" stroke-width="0.22">aiii</text>
<text x="424" y="104.2" font-size="13.2" text-anchor="start" font-weight="bold" fill="#000" stroke="#000" stroke-width="0.22">(bii), (cii)</text>
<text x="424" y="131.2" font-size="13.2" text-anchor="start" font-weight="bold" fill="#000" stroke="#000" stroke-width="0.22">(biii), (ciii)</text>
<text x="424" y="159.6" font-size="13.2" text-anchor="start" font-weight="bold" fill="#000" stroke="#000" stroke-width="0.22">(biv), (civ)</text>
<rect x="542.7" y="9.9" width="11" height="2.3" fill="#e8e8e8" stroke="#707070" stroke-width="0.6"/>
<line x1="548" y1="6.7" x2="548" y2="9.9" stroke="#707070" stroke-width="0.6"/>
<line x1="569.6" y1="25" x2="559.5" y2="15.5" stroke="#000" stroke-width="1.3"/>
<polygon points="556.3,12.5 563.9,15.5 559.9,19.8" fill="#000"/>
<text x="599" y="37.8" font-size="10" text-anchor="middle" font-weight="bold" fill="#000" stroke="#000" stroke-width="0.22">Ag/AgCl ground ball</text>
<text x="610.7" y="88.9" font-size="10" text-anchor="middle" font-weight="bold" fill="#000" stroke="#000" stroke-width="0.22">Bipolar electrode</text>
<line x1="625" y1="94" x2="632.3" y2="113" stroke="#000" stroke-width="1.3"/>
<polygon points="634,117.5 628.8,111.5 634.6,109.3" fill="#000"/>
<path d="M72.9 217.5 H0.9 V965 H307.5 V217.5 H234.9" fill="none" stroke="#111111" stroke-width="1.8"/>
<path d="M402.6 217.5 H322 V965 H628.5 V217.5 H544.9" fill="none" stroke="#111111" stroke-width="1.8"/>
<text x="155.2" y="223.3" font-size="11.7" text-anchor="middle" font-weight="bold" fill="#000" stroke="#000" stroke-width="0.22">Without local GND</text>
<text x="476.9" y="220.9" font-size="11.7" text-anchor="middle" font-weight="bold" fill="#000" stroke="#000" stroke-width="0.22">With local GND</text>
<rect x="640.1" y="212.8" width="17.1" height="155.9" fill="url(#cb1)"/>
<ellipse cx="648.6" cy="289" rx="9" ry="7" fill="url(#cb1g)"/>
<rect x="640.2" y="397" width="16.8" height="168.9" fill="url(#jet)"/>
<rect x="640.2" y="585.9" width="16.8" height="168.9" fill="url(#jet)"/>
<rect x="640.3" y="779.2" width="16.6" height="169.1" fill="url(#jet)"/>
<text x="662.2" y="223.7" font-size="10.1" text-anchor="start" font-weight="bold" fill="#000" stroke="#000" stroke-width="0.22">2</text>
<text x="662.2" y="262.20000000000005" font-size="10.1" text-anchor="start" font-weight="bold" fill="#000" stroke="#000" stroke-width="0.22">1.5</text>
<text x="662.2" y="300.3" font-size="10.1" text-anchor="start" font-weight="bold" fill="#000" stroke="#000" stroke-width="0.22">1</text>
<text x="662.2" y="339.6" font-size="10.1" text-anchor="start" font-weight="bold" fill="#000" stroke="#000" stroke-width="0.22">0.5</text>
<text x="662.2" y="372.8" font-size="10.1" text-anchor="start" font-weight="bold" fill="#000" stroke="#000" stroke-width="0.22">0</text>
<text x="662.2" y="402.1" font-size="10.1" text-anchor="start" font-weight="bold" fill="#000" stroke="#000" stroke-width="0.22">2</text>
<text x="662.2" y="443.40000000000003" font-size="10.1" text-anchor="start" font-weight="bold" fill="#000" stroke="#000" stroke-width="0.22">1.5</text>
<text x="662.2" y="485.3" font-size="10.1" text-anchor="start" font-weight="bold" fill="#000" stroke="#000" stroke-width="0.22">1.0</text>
<text x="662.2" y="527.7" font-size="10.1" text-anchor="start" font-weight="bold" fill="#000" stroke="#000" stroke-width="0.22">0.5</text>
<text x="662.2" y="569.9" font-size="10.1" text-anchor="start" font-weight="bold" fill="#000" stroke="#000" stroke-width="0.22">0</text>
<text x="662.2" y="589.9" font-size="10.1" text-anchor="start" font-weight="bold" fill="#000" stroke="#000" stroke-width="0.22">1.5</text>
<text x="662.2" y="632.7" font-size="10.1" text-anchor="start" font-weight="bold" fill="#000" stroke="#000" stroke-width="0.22">1.25</text>
<text x="662.2" y="674.7" font-size="10.1" text-anchor="start" font-weight="bold" fill="#000" stroke="#000" stroke-width="0.22">1</text>
<text x="662.2" y="716.4" font-size="10.1" text-anchor="start" font-weight="bold" fill="#000" stroke="#000" stroke-width="0.22">0.75</text>
<text x="662.2" y="757.9" font-size="10.1" text-anchor="start" font-weight="bold" fill="#000" stroke="#000" stroke-width="0.22">0.5</text>
<text x="662.2" y="783.4" font-size="10.1" text-anchor="start" font-weight="bold" fill="#000" stroke="#000" stroke-width="0.22">850</text>
<text x="662.2" y="809.4" font-size="10.1" text-anchor="start" font-weight="bold" fill="#000" stroke="#000" stroke-width="0.22">775</text>
<text x="662.2" y="840.4" font-size="10.1" text-anchor="start" font-weight="bold" fill="#000" stroke="#000" stroke-width="0.22">700</text>
<text x="662.2" y="868.7" font-size="10.1" text-anchor="start" font-weight="bold" fill="#000" stroke="#000" stroke-width="0.22">625</text>
<text x="662.2" y="896.9" font-size="10.1" text-anchor="start" font-weight="bold" fill="#000" stroke="#000" stroke-width="0.22">550</text>
<text x="662.2" y="924.6" font-size="10.1" text-anchor="start" font-weight="bold" fill="#000" stroke="#000" stroke-width="0.22">475</text>
<text x="662.2" y="951.2" font-size="10.1" text-anchor="start" font-weight="bold" fill="#000" stroke="#000" stroke-width="0.22">400</text>
<text x="655.6" y="385.8" font-size="10.1" text-anchor="middle" font-weight="bold" fill="#000" stroke="#000" stroke-width="0.22">(×10<tspan dy="-4.7" font-size="6.4">4</tspan><tspan dy="4.7"> A/m</tspan><tspan dy="-4.7" font-size="6.4">2</tspan><tspan dy="4.7">)</tspan></text>
<text x="656.7" y="579.6" font-size="10.1" text-anchor="middle" font-weight="bold" fill="#000" stroke="#000" stroke-width="0.22">(×10<tspan dy="-4.7" font-size="6.4">4</tspan><tspan dy="4.7"> A/m</tspan><tspan dy="-4.7" font-size="6.4">2</tspan><tspan dy="4.7">)</tspan></text>
<text x="656.5" y="771.0" font-size="10.1" text-anchor="middle" font-weight="bold" fill="#000" stroke="#000" stroke-width="0.22">(×10<tspan dy="-4.7" font-size="6.4">4</tspan><tspan dy="4.7"> A/m</tspan><tspan dy="-4.7" font-size="6.4">2</tspan><tspan dy="4.7">)</tspan></text>
<text x="669.6" y="962.6" font-size="10.1" text-anchor="middle" font-weight="bold" fill="#000" stroke="#000" stroke-width="0.22">(A/m<tspan dy="-4.7" font-size="6.4">2</tspan><tspan dy="4.7">)</tspan></text>
<g clip-path="url(#cbiL)">
<rect x="3" y="240.3" width="195.5" height="133.89999999999998" fill="url(#bibg)"/>
<rect x="3" y="240.3" width="195.5" height="133.89999999999998" fill="url(#biside)"/>
<circle cx="101.3" cy="240" r="105" fill="url(#bignd2)"/>
<ellipse cx="101.3" cy="239.5" rx="43" ry="37" fill="url(#bignd)"/>
<path d="M16.41 342.80 L18.8 329.00 L21.19 342.80 " fill="none" stroke-linecap="round" stroke-linejoin="round" stroke="#2c60f8" stroke-width="16.0" stroke-opacity="0.95" filter="url(#blur2)"/>
<path d="M16.41 342.80 L18.8 329.00 L21.19 342.80" fill="none" stroke-linecap="round" stroke-linejoin="round" stroke="#28b0ff" stroke-width="8.6" stroke-opacity="0.95" filter="url(#blur1)"/>
<path d="M16.41 342.80 L18.8 329.00 L21.19 342.80" fill="none" stroke-linecap="round" stroke-linejoin="round" stroke="#40f0d0" stroke-width="4.9" filter="url(#blur05)"/>
<path d="M16.41 342.80 L18.8 329.00 L21.19 342.80" fill="none" stroke-linecap="round" stroke-linejoin="round" stroke="#f0e800" stroke-width="4.0"/>
<path d="M16.41 342.80 L18.8 329.00 L21.19 342.80" fill="none" stroke-linecap="round" stroke-linejoin="round" stroke="#e83000" stroke-width="3.3"/>
<path d="M16.41 342.80 L18.8 329.00 L21.19 342.80" fill="none" stroke-linecap="round" stroke-linejoin="round" stroke="#6a0000" stroke-width="2.4"/>
<path d="M98.91 342.80 L101.3 329.00 L103.69 342.80 " fill="none" stroke-linecap="round" stroke-linejoin="round" stroke="#2c60f8" stroke-width="16.0" stroke-opacity="0.95" filter="url(#blur2)"/>
<path d="M98.91 342.80 L101.3 329.00 L103.69 342.80" fill="none" stroke-linecap="round" stroke-linejoin="round" stroke="#28b0ff" stroke-width="8.6" stroke-opacity="0.95" filter="url(#blur1)"/>
<path d="M98.91 342.80 L101.3 329.00 L103.69 342.80" fill="none" stroke-linecap="round" stroke-linejoin="round" stroke="#40f0d0" stroke-width="4.9" filter="url(#blur05)"/>
<path d="M98.91 342.80 L101.3 329.00 L103.69 342.80" fill="none" stroke-linecap="round" stroke-linejoin="round" stroke="#f0e800" stroke-width="4.0"/>
<path d="M98.91 342.80 L101.3 329.00 L103.69 342.80" fill="none" stroke-linecap="round" stroke-linejoin="round" stroke="#e83000" stroke-width="3.3"/>
<path d="M98.91 342.80 L101.3 329.00 L103.69 342.80" fill="none" stroke-linecap="round" stroke-linejoin="round" stroke="#6a0000" stroke-width="2.4"/>
<path d="M181.11 342.80 L183.5 329.00 L185.89 342.80 " fill="none" stroke-linecap="round" stroke-linejoin="round" stroke="#2c60f8" stroke-width="16.0" stroke-opacity="0.95" filter="url(#blur2)"/>
<path d="M181.11 342.80 L183.5 329.00 L185.89 342.80" fill="none" stroke-linecap="round" stroke-linejoin="round" stroke="#28b0ff" stroke-width="8.6" stroke-opacity="0.95" filter="url(#blur1)"/>
<path d="M181.11 342.80 L183.5 329.00 L185.89 342.80" fill="none" stroke-linecap="round" stroke-linejoin="round" stroke="#40f0d0" stroke-width="4.9" filter="url(#blur05)"/>
<path d="M181.11 342.80 L183.5 329.00 L185.89 342.80" fill="none" stroke-linecap="round" stroke-linejoin="round" stroke="#f0e800" stroke-width="4.0"/>
<path d="M181.11 342.80 L183.5 329.00 L185.89 342.80" fill="none" stroke-linecap="round" stroke-linejoin="round" stroke="#e83000" stroke-width="3.3"/>
<path d="M181.11 342.80 L183.5 329.00 L185.89 342.80" fill="none" stroke-linecap="round" stroke-linejoin="round" stroke="#6a0000" stroke-width="2.4"/>
<path d="M9.4 244.5L13.6 242.5M19.4 244.4L23.6 242.6M29.4 244.4L33.6 242.6M39.3 244.3L43.7 242.7M49.3 244.2L53.7 242.8M59.3 244.2L63.7 242.8M69.3 244.2L73.7 242.8M79.3 244.3L83.7 242.7M123.7 244.3L119.3 242.7M133.7 244.2L129.3 242.8M143.7 244.2L139.3 242.8M153.7 244.2L149.3 242.8M163.7 244.3L159.3 242.7M173.6 244.4L169.4 242.6M183.6 244.4L179.4 242.6M193.6 244.5L189.4 242.5M9.5 251.1L13.5 248.8M19.5 251.1L23.5 248.8M29.5 251.0L33.5 248.9M39.4 251.0L43.6 248.9M49.4 251.0L53.6 248.9M59.5 251.0L63.5 248.9M69.5 251.1L73.5 248.8M79.6 251.3L83.4 248.6M90.1 251.8L92.9 248.1M112.9 251.7L110.1 248.1M123.4 251.3L119.6 248.6M133.5 251.1L129.5 248.8M143.5 251.0L139.5 248.9M153.6 251.0L149.4 248.9M163.6 251.0L159.4 248.9M173.5 251.0L169.5 248.9M183.5 251.1L179.5 248.8M193.5 251.1L189.5 248.8M9.6 257.7L13.4 255.0M19.6 257.7L23.4 255.0M29.6 257.6L33.4 255.1M39.6 257.6L43.4 255.1M49.6 257.6L53.4 255.1M59.6 257.7L63.4 255.0M69.7 257.8L73.3 254.9M80.0 258.1L83.0 254.6M90.5 258.4L92.5 254.3M101.5 258.7L101.5 254.1M112.5 258.4L110.5 254.3M123.0 258.1L120.0 254.7M133.3 257.8L129.7 254.9M143.4 257.7L139.6 255.0M153.4 257.6L149.6 255.1M163.4 257.6L159.6 255.1M173.4 257.6L169.6 255.1M183.4 257.7L179.6 255.0M193.4 257.7L189.6 255.0M9.8 264.3L13.2 261.3M19.7 264.3L23.3 261.3M29.7 264.3L33.3 261.3M39.7 264.3L43.3 261.3M49.8 264.3L53.2 261.3M59.8 264.4L63.2 261.2M70.0 264.5L73.0 261.1M80.3 264.7L82.7 260.9M90.8 265.0L92.2 260.6M101.5 265.1L101.5 260.5M112.3 265.0L110.7 260.6M122.8 264.7L120.2 260.9M133.0 264.5L130.0 261.1M143.2 264.4L139.8 261.2M153.3 264.3L149.7 261.3M163.3 264.3L159.7 261.3M173.3 264.3L169.7 261.3M183.3 264.3L179.7 261.3M193.2 264.3L189.8 261.3M9.9 270.9L13.1 267.5M19.9 270.9L23.1 267.6M29.9 270.8L33.1 267.6M39.9 270.8L43.1 267.6M49.9 270.9L53.1 267.6M60.0 271.0L63.0 267.5M70.2 271.1L72.8 267.3M80.5 271.3L82.5 267.2M90.9 271.4L92.1 267.0M101.5 271.5L101.5 266.9M112.1 271.4L110.9 267.0M122.5 271.3L120.5 267.2M132.8 271.1L130.2 267.3M143.0 271.0L140.0 267.5M153.1 270.9L149.9 267.6M163.1 270.8L159.9 267.6M173.1 270.8L169.9 267.6M183.1 270.9L179.9 267.6M193.1 270.9L189.9 267.5M10.1 277.5L12.9 273.8M20.0 277.4L23.0 273.9M30.0 277.4L33.0 273.9M40.0 277.4L43.0 273.9M50.1 277.5L52.9 273.8M60.2 277.5L62.8 273.8M70.4 277.7L72.6 273.6M80.7 277.8L82.3 273.5M91.0 277.9L92.0 273.4M101.5 277.9L101.5 273.4M112.0 277.9L111.0 273.4M122.4 277.8L120.6 273.5M132.6 277.7L130.4 273.6M142.8 277.5L140.2 273.8M152.9 277.5L150.1 273.8M163.0 277.4L160.0 273.9M173.0 277.4L170.0 273.9M183.0 277.4L180.0 273.9M192.9 277.5L190.1 273.8M10.3 284.0L12.7 280.1M20.2 284.0L22.8 280.2M30.2 284.0L32.8 280.2M40.2 284.0L42.8 280.2M50.2 284.0L52.8 280.2M60.4 284.1L62.6 280.1M70.6 284.2L72.4 280.0M80.8 284.3L82.2 279.9M91.1 284.4L91.9 279.8M101.5 284.4L101.5 279.8M111.9 284.3L111.1 279.8M122.2 284.3L120.8 279.9M132.5 284.2L130.5 280.0M142.6 284.1L140.4 280.1M152.8 284.0L150.2 280.2M162.8 284.0L160.2 280.2M172.8 284.0L170.2 280.2M182.8 284.0L180.2 280.2M192.7 284.0L190.3 280.1M10.4 290.6L12.6 286.5M20.4 290.5L22.6 286.5M30.3 290.5L32.7 286.5M40.3 290.5L42.7 286.6M50.4 290.5L52.6 286.5M60.5 290.6L62.5 286.4M70.7 290.7L72.3 286.4M80.9 290.7L82.1 286.3M91.2 290.8L91.8 286.2M101.5 290.8L101.5 286.2M111.8 290.8L111.2 286.2M122.1 290.7L120.9 286.3M132.3 290.7L130.7 286.4M142.5 290.6L140.5 286.4M152.6 290.5L150.4 286.5M162.7 290.5L160.3 286.5M172.7 290.5L170.3 286.5M182.6 290.5L180.4 286.5M192.6 290.6L190.4 286.5M10.6 297.1L12.4 292.8M20.5 297.0L22.5 292.9M30.4 297.0L32.6 292.9M40.4 297.0L42.6 292.9M50.5 297.0L52.5 292.9M60.6 297.1L62.4 292.8M70.8 297.1L72.2 292.7M81.1 297.2L81.9 292.7M91.3 297.2L91.7 292.6M101.5 297.2L101.5 292.6M111.7 297.2L111.3 292.6M121.9 297.2L121.1 292.7M132.2 297.1L130.8 292.7M142.4 297.1L140.6 292.8M152.5 297.0L150.5 292.9M162.6 297.0L160.4 292.9M172.6 297.0L170.4 292.9M182.5 297.0L180.5 292.9M192.3 297.1L190.7 292.8M10.9 303.6L12.1 299.2M20.7 303.5L22.3 299.2M30.5 303.4L32.5 299.3M40.5 303.4L42.5 299.3M50.6 303.5L52.4 299.3M60.7 303.5L62.3 299.2M71.0 303.6L72.0 299.1M81.2 303.7L81.8 299.1M91.4 303.7L91.6 299.1M101.5 303.7L101.5 299.1M111.6 303.7L111.4 299.1M121.8 303.7L121.2 299.1M132.0 303.6L131.0 299.1M142.3 303.5L140.7 299.2M152.5 303.5L150.5 299.3M162.5 303.4L160.5 299.3M172.5 303.4L170.5 299.3M182.3 303.5L180.7 299.2M192.1 303.6L190.9 299.2M11.1 310.1L11.9 305.5M20.8 310.0L22.2 305.6M30.5 309.9L32.5 305.7M40.5 309.9L42.5 305.7M50.6 309.9L52.4 305.7M60.8 310.0L62.2 305.6M71.1 310.1L71.9 305.5M81.4 310.1L81.6 305.5M91.5 310.1L91.5 305.5M101.5 310.1L101.5 305.5M111.5 310.1L111.5 305.5M121.6 310.1L121.4 305.5M131.9 310.1L131.1 305.5M142.2 310.0L140.8 305.6M152.4 309.9L150.6 305.7M162.5 309.9L160.5 305.7M172.5 309.9L170.5 305.7M182.2 310.0L180.8 305.6M191.9 310.1L191.1 305.5M11.5 316.5L11.5 311.9M20.9 316.4L22.1 312.0M30.5 316.3L32.5 312.2M40.4 316.3L42.6 312.2M50.6 316.3L52.4 312.1M60.9 316.5L62.1 312.0M71.3 316.5L71.7 311.9M81.6 316.5L81.4 311.9M91.7 316.5L91.3 311.9M101.5 316.5L101.5 311.9M111.3 316.5L111.7 311.9M121.4 316.5L121.6 311.9M131.7 316.5L131.3 311.9M142.1 316.4L140.9 312.0M152.4 316.3L150.6 312.1M162.6 316.3L160.4 312.2M172.5 316.3L170.5 312.2M182.1 316.5L180.9 312.0M191.5 316.5L191.5 311.9M11.9 322.9L11.1 318.4M20.9 322.9L22.1 318.4M30.3 322.6L32.7 318.7M40.3 322.6L42.7 318.7M50.5 322.8L52.5 318.6M61.0 322.9L62.0 318.4M71.4 323.0L71.6 318.4M81.9 322.9L81.1 318.4M92.0 322.9L91.0 318.4M101.5 323.0L101.5 318.4M111.0 322.9L112.0 318.4M121.1 322.9L121.9 318.4M131.6 323.0L131.4 318.4M142.1 322.9L140.9 318.4M152.5 322.7L150.5 318.6M162.7 322.6L160.3 318.7M172.7 322.6L170.3 318.7M182.0 322.9L181.0 318.4M191.0 322.9L192.0 318.4M12.8 329.0L10.2 325.2M29.8 328.7L33.2 325.5M40.0 328.9L43.0 325.3M50.5 329.1L52.5 325.0M61.0 329.3L62.0 324.8M71.6 329.4L71.4 324.8M82.3 329.3L80.7 324.9M92.7 329.1L90.3 325.1M110.3 329.1L112.7 325.1M120.8 329.3L122.2 324.9M131.4 329.4L131.6 324.8M142.0 329.3L141.0 324.9M152.6 329.1L150.4 325.1M163.0 328.9L160.0 325.3M173.1 328.7L169.9 325.5M190.2 329.0L192.8 325.2M13.8 334.0L9.2 333.1M29.4 334.4L33.6 332.6M39.8 335.1L43.2 332.0M50.3 335.5L52.7 331.5M61.0 335.8L62.0 331.3M71.8 335.8L71.2 331.2M82.7 335.5L80.3 331.5M93.5 334.7L89.5 332.3M109.5 334.7L113.5 332.3M120.4 335.5L122.6 331.5M131.2 335.8L131.8 331.2M142.0 335.8L141.0 331.3M152.7 335.5L150.3 331.6M163.2 335.0L159.8 332.0M173.6 334.4L169.4 332.7M189.3 334.0L193.7 333.0M13.5 338.8L9.5 341.1M29.2 340.1L33.8 339.8M39.6 341.2L43.4 338.7M50.2 341.9L52.8 338.0M61.0 342.2L62.0 337.7M71.9 342.2L71.1 337.7M83.0 341.7L80.0 338.2M93.8 340.2L89.2 339.7M109.2 340.3L113.8 339.6M120.1 341.8L122.9 338.1M131.1 342.2L131.9 337.7M142.0 342.2L141.0 337.7M152.8 341.8L150.2 338.1M163.5 341.2L159.5 338.7M173.8 340.0L169.2 339.9M189.4 338.9L193.6 341.0M13.0 344.6L10.0 348.2M29.2 346.1L33.8 346.7M39.5 347.5L43.5 345.3M50.1 348.2L52.9 344.5M61.0 348.6L62.0 344.1M71.9 348.6L71.1 344.1M83.0 348.1L80.0 344.7M93.8 346.3L89.2 346.4M109.2 346.4L113.8 346.3M120.0 348.1L123.0 344.6M131.1 348.6L131.9 344.1M142.1 348.6L140.9 344.2M152.9 348.2L150.1 344.6M163.6 347.4L159.4 345.4M173.8 346.0L169.2 346.8M189.9 344.7L193.1 348.0M29.2 352.4L33.8 353.2M39.4 353.8L43.6 351.8M50.1 354.6L52.9 351.0M60.9 355.0L62.1 350.6M71.9 355.1L71.1 350.5M82.9 354.6L80.1 351.0M93.8 353.2L89.2 352.4M109.3 353.3L113.7 352.3M120.2 354.7L122.8 350.9M131.2 355.1L131.8 350.5M142.1 355.0L140.9 350.6M152.9 354.6L150.1 351.0M163.6 353.7L159.4 351.9M173.7 352.3L169.3 353.3M29.2 359.0L33.8 359.5M39.5 360.3L43.5 358.2M50.1 361.1L52.9 357.4M60.9 361.5L62.1 357.0M71.7 361.5L71.3 356.9M82.6 361.3L80.4 357.2M93.3 360.7L89.7 357.8M109.8 360.7L113.2 357.7M120.5 361.3L122.5 357.2M131.3 361.5L131.7 356.9M142.2 361.4L140.8 357.0M152.9 361.0L150.1 357.4M163.6 360.2L159.4 358.2M173.8 358.9L169.2 359.6M29.2 365.8L33.8 365.5M39.6 366.9L43.4 364.4M50.2 367.5L52.8 363.8M60.8 367.9L62.2 363.5M71.5 368.0L71.5 363.4M82.2 367.9L80.8 363.5M120.9 367.9L122.1 363.5M131.5 368.0L131.5 363.4M142.2 367.9L140.8 363.5M152.9 367.5L150.1 363.8M163.5 366.9L159.5 364.5M173.8 365.8L169.2 365.6M29.3 372.9L33.7 371.3M39.7 373.6L43.3 370.6M50.3 374.0L52.7 370.2M60.8 374.3L62.2 369.9M71.4 374.4L71.6 369.8M81.8 374.4L81.2 369.8M121.2 374.4L121.8 369.8M131.7 374.4L131.3 369.8M142.2 374.3L140.8 369.9M152.8 374.0L150.2 370.2M163.3 373.5L159.7 370.7" stroke="#e8ecff" stroke-width="0.5" stroke-opacity="0.68" fill="none"/>
<path d="M12.8 242.9L13.6 242.5M22.8 242.9L23.6 242.6M32.8 243.0L33.6 242.6M42.8 243.0L43.7 242.7M52.8 243.0L53.7 242.8M62.8 243.1L63.7 242.8M72.8 243.1L73.7 242.8M82.8 243.0L83.7 242.7M120.2 243.0L119.3 242.7M130.2 243.1L129.3 242.8M140.2 243.1L139.3 242.8M150.2 243.0L149.3 242.8M160.2 243.0L159.3 242.7M170.2 243.0L169.4 242.6M180.2 242.9L179.4 242.6M190.2 242.9L189.4 242.5M12.7 249.2L13.5 248.8M22.7 249.2L23.5 248.8M32.7 249.3L33.5 248.9M42.7 249.3L43.6 248.9M52.8 249.3L53.6 248.9M62.7 249.3L63.5 248.9M72.7 249.2L73.5 248.8M82.6 249.1L83.4 248.6M92.3 248.8L92.9 248.1M110.6 248.8L110.1 248.1M120.4 249.1L119.6 248.6M130.3 249.2L129.5 248.8M140.3 249.3L139.5 248.9M150.2 249.3L149.4 248.9M160.3 249.3L159.4 248.9M170.3 249.3L169.5 248.9M180.3 249.2L179.5 248.8M190.3 249.2L189.5 248.8M12.6 255.5L13.4 255.0M22.6 255.6L23.4 255.0M32.7 255.6L33.4 255.1M42.7 255.6L43.4 255.1M52.7 255.6L53.4 255.1M62.6 255.5L63.4 255.0M72.6 255.5L73.3 254.9M82.4 255.3L83.0 254.6M92.1 255.1L92.5 254.3M101.5 255.0L101.5 254.1M110.9 255.1L110.5 254.3M120.6 255.3L120.0 254.7M130.4 255.5L129.7 254.9M140.4 255.5L139.6 255.0M150.3 255.6L149.6 255.1M160.3 255.6L159.6 255.1M170.3 255.6L169.6 255.1M180.4 255.6L179.6 255.0M190.4 255.5L189.6 255.0M12.6 261.9L13.2 261.3M22.6 261.9L23.3 261.3M32.6 261.9L33.3 261.3M42.6 261.9L43.3 261.3M52.6 261.9L53.2 261.3M62.5 261.8L63.2 261.2M72.4 261.7L73.0 261.1M82.3 261.6L82.7 260.9M91.9 261.5L92.2 260.6M101.5 261.4L101.5 260.5M111.0 261.5L110.7 260.6M120.7 261.6L120.2 260.9M130.6 261.7L130.0 261.1M140.5 261.8L139.8 261.2M150.4 261.9L149.7 261.3M160.4 261.9L159.7 261.3M170.4 261.9L169.7 261.3M180.4 261.9L179.7 261.3M190.4 261.9L189.8 261.3M12.5 268.2L13.1 267.5M22.5 268.2L23.1 267.6M32.5 268.2L33.1 267.6M42.5 268.2L43.1 267.6M52.5 268.2L53.1 267.6M62.4 268.2L63.0 267.5M72.3 268.1L72.8 267.3M82.1 268.0L82.5 267.2M91.8 267.9L92.1 267.0M101.5 267.8L101.5 266.9M111.1 267.9L110.9 267.0M120.9 268.0L120.5 267.2M130.7 268.1L130.2 267.3M140.6 268.2L140.0 267.5M150.5 268.2L149.9 267.6M160.5 268.2L159.9 267.6M170.5 268.2L169.9 267.6M180.5 268.2L179.9 267.6M190.5 268.2L189.9 267.5M12.4 274.5L12.9 273.8M22.4 274.6L23.0 273.9M32.4 274.6L33.0 273.9M42.4 274.6L43.0 273.9M52.4 274.5L52.9 273.8M62.3 274.5L62.8 273.8M72.2 274.4L72.6 273.6M82.0 274.3L82.3 273.5M91.8 274.3L92.0 273.4M101.5 274.3L101.5 273.4M111.2 274.3L111.0 273.4M121.0 274.3L120.6 273.5M130.8 274.4L130.4 273.6M140.7 274.5L140.2 273.8M150.6 274.5L150.1 273.8M160.6 274.6L160.0 273.9M170.6 274.6L170.0 273.9M180.6 274.6L180.0 273.9M190.6 274.5L190.1 273.8M12.3 280.9L12.7 280.1M22.3 280.9L22.8 280.2M32.3 280.9L32.8 280.2M42.3 280.9L42.8 280.2M52.3 280.9L52.8 280.2M62.2 280.9L62.6 280.1M72.1 280.8L72.4 280.0M81.9 280.7L82.2 279.9M91.7 280.7L91.9 279.8M101.5 280.7L101.5 279.8M111.3 280.7L111.1 279.8M121.1 280.7L120.8 279.9M130.9 280.8L130.5 280.0M140.8 280.9L140.4 280.1M150.7 280.9L150.2 280.2M160.7 280.9L160.2 280.2M170.7 280.9L170.2 280.2M180.7 280.9L180.2 280.2M190.7 280.9L190.3 280.1M12.1 287.3L12.6 286.5M22.2 287.3L22.6 286.5M32.2 287.3L32.7 286.5M42.2 287.3L42.7 286.6M52.2 287.3L52.6 286.5M62.1 287.2L62.5 286.4M72.0 287.2L72.3 286.4M81.8 287.2L82.1 286.3M91.7 287.1L91.8 286.2M101.5 287.1L101.5 286.2M111.3 287.1L111.2 286.2M121.2 287.2L120.9 286.3M131.0 287.2L130.7 286.4M140.9 287.3L140.5 286.4M150.8 287.3L150.4 286.5M160.8 287.3L160.3 286.5M170.8 287.3L170.3 286.5M180.8 287.3L180.4 286.5M190.9 287.3L190.4 286.5M12.0 293.6L12.4 292.8M22.1 293.7L22.5 292.9M32.2 293.7L32.6 292.9M42.2 293.7L42.6 292.9M52.1 293.7L52.5 292.9M62.0 293.6L62.4 292.8M71.9 293.6L72.2 292.7M81.8 293.6L81.9 292.7M91.6 293.5L91.7 292.6M101.5 293.5L101.5 292.6M111.4 293.5L111.3 292.6M121.2 293.6L121.1 292.7M131.1 293.6L130.8 292.7M141.0 293.6L140.6 292.8M150.9 293.7L150.5 292.9M160.8 293.7L160.4 292.9M170.8 293.7L170.4 292.9M180.9 293.7L180.5 292.9M191.0 293.6L190.7 292.8M11.9 300.0L12.1 299.2M22.0 300.1L22.3 299.2M32.1 300.1L32.5 299.3M42.1 300.1L42.5 299.3M52.1 300.1L52.4 299.3M62.0 300.0L62.3 299.2M71.8 300.0L72.0 299.1M81.7 300.0L81.8 299.1M91.6 300.0L91.6 299.1M101.5 300.0L101.5 299.1M111.4 300.0L111.4 299.1M121.3 300.0L121.2 299.1M131.2 300.0L131.0 299.1M141.0 300.1L140.7 299.2M150.9 300.1L150.5 299.3M160.9 300.1L160.5 299.3M170.9 300.1L170.5 299.3M181.0 300.1L180.7 299.2M191.1 300.0L190.9 299.2M11.7 306.4L11.9 305.5M21.9 306.5L22.2 305.6M32.1 306.5L32.5 305.7M42.1 306.5L42.5 305.7M52.1 306.5L52.4 305.7M61.9 306.5L62.2 305.6M71.7 306.4L71.9 305.5M81.6 306.4L81.6 305.5M91.5 306.4L91.5 305.5M101.5 306.4L101.5 305.5M111.5 306.4L111.5 305.5M121.4 306.4L121.4 305.5M131.3 306.4L131.1 305.5M141.1 306.5L140.8 305.6M150.9 306.5L150.6 305.7M160.9 306.5L160.5 305.7M170.9 306.5L170.5 305.7M181.1 306.5L180.8 305.6M191.3 306.4L191.1 305.5M11.5 312.8L11.5 311.9M21.9 312.9L22.1 312.0M32.1 313.0L32.5 312.2M42.2 313.0L42.6 312.2M52.1 312.9L52.4 312.1M61.9 312.9L62.1 312.0M71.6 312.8L71.7 311.9M81.4 312.8L81.4 311.9M91.4 312.8L91.3 311.9M101.5 312.8L101.5 311.9M111.6 312.8L111.7 311.9M121.5 312.8L121.6 311.9M131.3 312.8L131.3 311.9M141.1 312.9L140.9 312.0M150.9 312.9L150.6 312.1M160.8 313.0L160.4 312.2M170.9 313.0L170.5 312.2M181.1 312.9L180.9 312.0M191.5 312.8L191.5 311.9M11.2 319.3L11.1 318.4M21.9 319.3L22.1 318.4M32.3 319.5L32.7 318.7M42.2 319.5L42.7 318.7M52.1 319.4L52.5 318.6M61.8 319.3L62.0 318.4M71.5 319.3L71.6 318.4M81.3 319.3L81.1 318.4M91.2 319.3L91.0 318.4M101.5 319.3L101.5 318.4M111.8 319.3L112.0 318.4M121.7 319.3L121.9 318.4M131.5 319.3L131.4 318.4M141.2 319.3L140.9 318.4M150.9 319.4L150.5 318.6M160.7 319.5L160.3 318.7M170.8 319.5L170.3 318.7M181.2 319.3L181.0 318.4M191.8 319.3L192.0 318.4M10.7 325.9L10.2 325.2M32.5 326.1L33.2 325.5M42.4 326.0L43.0 325.3M52.1 325.8L52.5 325.0M61.8 325.7L62.0 324.8M71.4 325.7L71.4 324.8M81.0 325.8L80.7 324.9M90.8 325.9L90.3 325.1M112.2 325.9L112.7 325.1M122.0 325.8L122.2 324.9M131.6 325.7L131.6 324.8M141.2 325.7L141.0 324.9M150.9 325.8L150.4 325.1M160.6 326.0L160.0 325.3M170.5 326.1L169.9 325.5M192.3 325.9L192.8 325.2M10.1 333.3L9.2 333.1M32.8 333.0L33.6 332.6M42.5 332.6L43.2 332.0M52.2 332.3L52.7 331.5M61.8 332.2L62.0 331.3M71.3 332.1L71.2 331.2M80.8 332.3L80.3 331.5M90.3 332.8L89.5 332.3M112.7 332.8L113.5 332.3M122.2 332.3L122.6 331.5M131.7 332.1L131.8 331.2M141.2 332.2L141.0 331.3M150.8 332.3L150.3 331.6M160.4 332.6L159.8 332.0M170.2 333.0L169.4 332.7M192.9 333.2L193.7 333.0M10.3 340.7L9.5 341.1M32.9 339.9L33.8 339.8M42.7 339.2L43.4 338.7M52.3 338.8L52.8 338.0M61.8 338.6L62.0 337.7M71.2 338.6L71.1 337.7M80.6 338.9L80.0 338.2M90.1 339.8L89.2 339.7M112.9 339.8L113.8 339.6M122.4 338.8L122.9 338.1M131.7 338.6L131.9 337.7M141.2 338.6L141.0 337.7M150.7 338.8L150.2 338.1M160.3 339.2L159.5 338.7M170.1 339.9L169.2 339.9M192.8 340.6L193.6 341.0M10.6 347.5L10.0 348.2M32.9 346.6L33.8 346.7M42.7 345.7L43.5 345.3M52.3 345.2L52.9 344.5M61.8 345.0L62.0 344.1M71.2 345.0L71.1 344.1M80.6 345.3L80.0 344.7M90.1 346.4L89.2 346.4M112.9 346.3L113.8 346.3M122.4 345.3L123.0 344.6M131.7 345.0L131.9 344.1M141.2 345.0L140.9 344.2M150.7 345.3L150.1 344.6M160.2 345.8L159.4 345.4M170.1 346.6L169.2 346.8M192.5 347.4L193.1 348.0M32.9 353.0L33.8 353.2M42.8 352.2L43.6 351.8M52.3 351.7L52.9 351.0M61.8 351.5L62.1 350.6M71.3 351.4L71.1 350.5M80.7 351.7L80.1 351.0M90.1 352.5L89.2 352.4M112.9 352.5L113.7 352.3M122.3 351.7L122.8 350.9M131.7 351.4L131.8 350.5M141.1 351.5L140.9 350.6M150.6 351.7L150.1 351.0M160.2 352.2L159.4 351.9M170.1 353.1L169.3 353.3M32.9 359.4L33.8 359.5M42.7 358.6L43.5 358.2M52.3 358.1L52.9 357.4M61.9 357.9L62.1 357.0M71.4 357.8L71.3 356.9M80.9 358.0L80.4 357.2M90.4 358.3L89.7 357.8M112.6 358.3L113.2 357.7M122.1 358.0L122.5 357.2M131.6 357.8L131.7 356.9M141.1 357.9L140.8 357.0M150.6 358.1L150.1 357.4M160.2 358.6L159.4 358.2M170.1 359.4L169.2 359.6M32.9 365.6L33.8 365.5M42.7 364.9L43.4 364.4M52.3 364.5L52.8 363.8M61.9 364.3L62.2 363.5M71.5 364.3L71.5 363.4M81.1 364.3L80.8 363.5M121.9 364.3L122.1 363.5M131.5 364.3L131.5 363.4M141.1 364.3L140.8 363.5M150.7 364.5L150.1 363.8M160.3 365.0L159.5 364.5M170.1 365.6L169.2 365.6M32.8 371.6L33.7 371.3M42.6 371.2L43.3 370.6M52.3 370.9L52.7 370.2M61.9 370.8L62.2 369.9M71.6 370.7L71.6 369.8M81.3 370.7L81.2 369.8M121.7 370.7L121.8 369.8M131.4 370.7L131.3 369.8M141.1 370.8L140.8 369.9M150.7 370.9L150.2 370.2M160.4 371.2L159.7 370.7" stroke="#ffffff" stroke-width="1.0" stroke-opacity="0.68" stroke-linecap="round" fill="none"/>
<path d="M18.8 329.6 L26.950000000000003 374.59999999999997 L10.65 374.59999999999997 Z" fill="#ffffff"/>
<path d="M101.3 329.6 L109.45 374.59999999999997 L93.14999999999999 374.59999999999997 Z" fill="#ffffff"/>
<path d="M183.5 329.6 L191.65 374.59999999999997 L175.35 374.59999999999997 Z" fill="#ffffff"/>
</g>
<rect x="97" y="239" width="8.5" height="2.6" fill="#fff"/>
<g clip-path="url(#cbiR)">
<rect x="201" y="240.3" width="105" height="133.89999999999998" fill="url(#bibg2)"/>
<circle cx="253" cy="318" r="50" fill="url(#birglow)"/>
<rect x="201" y="240.3" width="105" height="133.89999999999998" fill="url(#biside)"/>
<path d="M250.10 328.70 L253.1 309.40 L256.10 328.70 " fill="none" stroke-linecap="round" stroke-linejoin="round" stroke="#2c60f8" stroke-width="17.3" stroke-opacity="0.95" filter="url(#blur2)"/>
<path d="M250.10 328.70 L253.1 309.40 L256.10 328.70" fill="none" stroke-linecap="round" stroke-linejoin="round" stroke="#28b0ff" stroke-width="9.3" stroke-opacity="0.95" filter="url(#blur1)"/>
<path d="M250.10 328.70 L253.1 309.40 L256.10 328.70" fill="none" stroke-linecap="round" stroke-linejoin="round" stroke="#40f0d0" stroke-width="5.3" filter="url(#blur05)"/>
<path d="M250.10 328.70 L253.1 309.40 L256.10 328.70" fill="none" stroke-linecap="round" stroke-linejoin="round" stroke="#f0e800" stroke-width="4.3"/>
<path d="M250.10 328.70 L253.1 309.40 L256.10 328.70" fill="none" stroke-linecap="round" stroke-linejoin="round" stroke="#e83000" stroke-width="3.6"/>
<path d="M250.10 328.70 L253.1 309.40 L256.10 328.70" fill="none" stroke-linecap="round" stroke-linejoin="round" stroke="#6a0000" stroke-width="2.6"/>
<path d="M201.0 244.6L203.6 240.0M214.0 244.7L216.0 239.9M227.0 244.8L228.4 239.8M240.0 244.9L240.8 239.7M253.1 244.9L253.1 239.7M266.2 244.9L265.4 239.7M279.2 244.8L277.8 239.8M292.2 244.7L290.2 239.9M305.2 244.6L302.6 240.0M201.2 254.7L203.4 249.9M214.2 254.8L215.8 249.8M227.2 254.8L228.2 249.8M240.1 254.9L240.7 249.7M253.1 254.9L253.1 249.7M266.1 254.9L265.5 249.7M279.0 254.8L278.0 249.8M292.0 254.8L290.4 249.8M305.0 254.7L302.8 249.9M201.5 264.8L203.1 259.8M214.4 264.8L215.6 259.8M227.3 264.9L228.1 259.7M240.2 264.9L240.6 259.7M253.1 264.9L253.1 259.7M266.0 264.9L265.6 259.7M278.9 264.9L278.1 259.7M291.8 264.8L290.6 259.8M304.7 264.8L303.1 259.8M201.7 274.8L202.9 269.8M214.7 274.9L215.3 269.7M227.5 274.9L227.9 269.7M240.4 274.9L240.4 269.7M253.1 274.9L253.1 269.7M265.8 274.9L265.8 269.7M278.6 274.9L278.4 269.7M291.5 274.9L290.9 269.7M304.5 274.8L303.3 269.8M202.0 284.9L202.6 279.7M214.9 284.9L215.1 279.7M227.8 284.9L227.6 279.7M240.5 284.9L240.3 279.7M253.1 284.9L253.1 279.7M265.7 284.9L265.9 279.7M278.4 284.9L278.6 279.7M291.3 284.9L291.1 279.7M304.2 284.9L303.6 279.7M202.3 294.9L202.3 289.7M215.3 294.9L214.7 289.7M228.2 294.9L227.2 289.7M240.8 294.9L240.0 289.7M253.1 294.9L253.1 289.7M265.4 294.9L266.2 289.7M278.0 294.9L279.0 289.7M290.9 294.9L291.5 289.7M303.9 294.9L303.9 289.7M202.6 304.9L202.0 299.7M215.6 304.8L214.4 299.8M228.7 304.7L226.7 299.9M241.4 304.7L239.4 299.9M253.1 304.9L253.1 299.7M264.8 304.7L266.8 299.9M277.5 304.7L279.5 299.9M290.6 304.8L291.8 299.8M303.7 304.9L304.1 299.7M202.8 314.8L201.8 309.8M216.0 314.7L214.0 309.9M229.3 314.4L226.1 310.2M242.4 314.0L238.4 310.6M263.8 314.0L267.8 310.6M277.0 314.4L280.0 310.2M290.2 314.7L292.2 309.9M303.4 314.9L304.4 309.7M203.0 324.8L201.6 319.8M216.3 324.5L213.7 320.1M229.7 323.9L225.7 320.7M243.0 322.4L237.8 322.2M263.2 322.5L268.4 322.1M276.5 323.9L280.5 320.7M289.9 324.5L292.5 320.1M303.2 324.8L304.6 319.8M203.1 334.8L201.5 329.8M216.5 334.5L213.5 330.1M229.9 333.7L225.5 330.9M242.9 331.8L237.9 332.8M263.2 331.8L268.4 332.8M276.3 333.7L280.7 330.9M289.8 334.5L292.6 330.1M303.1 334.8L304.7 329.8M203.1 344.8L201.5 339.8M216.4 344.5L213.6 340.1M229.8 343.8L225.6 340.8M243.0 342.2L237.8 342.4M263.2 342.3L268.4 342.3M276.4 343.9L280.6 340.7M289.8 344.5L292.6 340.1M303.1 344.8L304.7 339.8M203.0 354.8L201.6 349.8M216.2 354.6L213.8 350.0M229.4 354.2L226.0 350.4M242.6 353.8L238.2 350.8M263.7 353.8L267.9 350.8M276.8 354.3L280.2 350.3M290.0 354.6L292.4 350.0M303.2 354.8L304.6 349.8M202.9 364.8L201.7 359.8M215.9 364.7L214.1 359.9M228.9 364.6L226.5 360.0M277.3 364.6L279.7 360.0M290.3 364.7L292.1 359.9M303.3 364.8L304.5 359.8M202.7 374.9L201.9 369.7M215.6 374.8L214.4 369.8M228.4 374.8L227.0 369.8M277.7 374.8L279.3 369.8M290.6 374.8L291.8 369.8M303.5 374.9L304.3 369.7" stroke="#e8ecff" stroke-width="0.5" stroke-opacity="0.68" fill="none"/>
<path d="M203.1 240.8L203.6 240.0M215.7 240.7L216.0 239.9M228.2 240.7L228.4 239.8M240.7 240.6L240.8 239.7M253.1 240.6L253.1 239.7M265.6 240.6L265.4 239.7M278.0 240.7L277.8 239.8M290.5 240.7L290.2 239.9M303.1 240.8L302.6 240.0M203.0 250.7L203.4 249.9M215.5 250.7L215.8 249.8M228.1 250.6L228.2 249.8M240.6 250.6L240.7 249.7M253.1 250.6L253.1 249.7M265.6 250.6L265.5 249.7M278.1 250.6L278.0 249.8M290.7 250.7L290.4 249.8M303.2 250.7L302.8 249.9M202.8 260.7L203.1 259.8M215.4 260.6L215.6 259.8M227.9 260.6L228.1 259.7M240.5 260.6L240.6 259.7M253.1 260.6L253.1 259.7M265.7 260.6L265.6 259.7M278.3 260.6L278.1 259.7M290.8 260.6L290.6 259.8M303.4 260.7L303.1 259.8M202.7 270.6L202.9 269.8M215.2 270.6L215.3 269.7M227.8 270.6L227.9 269.7M240.4 270.6L240.4 269.7M253.1 270.6L253.1 269.7M265.8 270.6L265.8 269.7M278.4 270.6L278.4 269.7M291.0 270.6L290.9 269.7M303.5 270.6L303.3 269.8M202.5 280.6L202.6 279.7M215.0 280.6L215.1 279.7M227.6 280.6L227.6 279.7M240.3 280.6L240.3 279.7M253.1 280.6L253.1 279.7M265.9 280.6L265.9 279.7M278.6 280.6L278.6 279.7M291.2 280.6L291.1 279.7M303.7 280.6L303.6 279.7M202.3 290.6L202.3 289.7M214.8 290.6L214.7 289.7M227.4 290.6L227.2 289.7M240.1 290.6L240.0 289.7M253.1 290.6L253.1 289.7M266.1 290.6L266.2 289.7M278.8 290.6L279.0 289.7M291.4 290.6L291.5 289.7M303.9 290.6L303.9 289.7M202.1 300.6L202.0 299.7M214.6 300.7L214.4 299.8M227.1 300.7L226.7 299.9M239.8 300.7L239.4 299.9M253.1 300.6L253.1 299.7M266.4 300.7L266.8 299.9M279.1 300.7L279.5 299.9M291.6 300.7L291.8 299.8M304.1 300.6L304.1 299.7M202.0 310.6L201.8 309.8M214.3 310.7L214.0 309.9M226.7 310.9L226.1 310.2M239.1 311.2L238.4 310.6M267.1 311.2L267.8 310.6M279.5 310.9L280.0 310.2M291.9 310.7L292.2 309.9M304.2 310.6L304.4 309.7M201.8 320.7L201.6 319.8M214.1 320.8L213.7 320.1M226.4 321.2L225.7 320.7M238.7 322.2L237.8 322.2M267.5 322.2L268.4 322.1M279.8 321.2L280.5 320.7M292.1 320.8L292.5 320.1M304.4 320.7L304.6 319.8M201.8 330.7L201.5 329.8M214.0 330.9L213.5 330.1M226.3 331.4L225.5 330.9M238.7 332.7L237.9 332.8M267.5 332.6L268.4 332.8M279.9 331.4L280.7 330.9M292.1 330.9L292.6 330.1M304.4 330.7L304.7 329.8M201.8 340.7L201.5 339.8M214.1 340.9L213.6 340.1M226.3 341.3L225.6 340.8M238.7 342.3L237.8 342.4M267.5 342.3L268.4 342.3M279.9 341.3L280.6 340.7M292.1 340.9L292.6 340.1M304.4 340.7L304.7 339.8M201.8 350.7L201.6 349.8M214.2 350.8L213.8 350.0M226.6 351.0L226.0 350.4M239.0 351.3L238.2 350.8M267.2 351.3L267.9 350.8M279.6 351.0L280.2 350.3M292.0 350.8L292.4 350.0M304.4 350.7L304.6 349.8M201.9 360.6L201.7 359.8M214.4 360.7L214.1 359.9M226.9 360.8L226.5 360.0M279.3 360.8L279.7 360.0M291.8 360.7L292.1 359.9M304.3 360.6L304.5 359.8M202.0 370.6L201.9 369.7M214.6 370.7L214.4 369.8M227.2 370.7L227.0 369.8M279.0 370.7L279.3 369.8M291.6 370.7L291.8 369.8M304.2 370.6L304.3 369.7" stroke="#ffffff" stroke-width="1.0" stroke-opacity="0.68" stroke-linecap="round" fill="none"/>
<path d="M253.1 310 L263.4 374.59999999999997 L242.79999999999998 374.59999999999997 Z" fill="#ffffff"/>
</g>
<g clip-path="url(#cciL)">
<rect x="326.2" y="240.3" width="190.3" height="133.89999999999998" fill="#1d1d8a"/>
<path d="M339.58 343.00 L341.9 329.60 L344.22 343.00 M338.86 347.00 L337.32 355.50 M344.94 347.00 L346.48 355.50" fill="none" stroke-linecap="round" stroke-linejoin="round" stroke="#2c60f8" stroke-width="16.0" stroke-opacity="0.8075" filter="url(#blur2)"/>
<path d="M339.58 343.00 L341.9 329.60 L344.22 343.00" fill="none" stroke-linecap="round" stroke-linejoin="round" stroke="#28b0ff" stroke-width="8.6" stroke-opacity="0.8075" filter="url(#blur1)"/>
<path d="M338.86 347.00 L337.32 355.50 M344.94 347.00 L346.48 355.50" fill="none" stroke-linecap="round" stroke-linejoin="round" stroke="#28b0ff" stroke-width="6.6" stroke-opacity="0.765" filter="url(#blur1)"/>
<path d="M339.58 343.00 L341.9 329.60 L344.22 343.00" fill="none" stroke-linecap="round" stroke-linejoin="round" stroke="#40f0d0" stroke-width="4.9" filter="url(#blur05)"/>
<path d="M338.86 347.00 L337.32 355.50 M344.94 347.00 L346.48 355.50" fill="none" stroke-linecap="round" stroke-linejoin="round" stroke="#40f0d0" stroke-width="3.9" filter="url(#blur05)"/>
<path d="M339.58 343.00 L341.9 329.60 L344.22 343.00" fill="none" stroke-linecap="round" stroke-linejoin="round" stroke="#f0e800" stroke-width="4.0"/>
<path d="M339.58 343.00 L341.9 329.60 L344.22 343.00" fill="none" stroke-linecap="round" stroke-linejoin="round" stroke="#e83000" stroke-width="3.3"/>
<path d="M339.58 343.00 L341.9 329.60 L344.22 343.00" fill="none" stroke-linecap="round" stroke-linejoin="round" stroke="#6a0000" stroke-width="2.4"/>
<path d="M338.86 347.00 L337.32 355.50 M344.94 347.00 L346.48 355.50" fill="none" stroke-linecap="round" stroke-linejoin="round" stroke="#c8e820" stroke-width="3.0"/>
<path d="M338.86 347.00 L337.32 355.50 M344.94 347.00 L346.48 355.50" fill="none" stroke-linecap="round" stroke-linejoin="round" stroke="#f07000" stroke-width="2.2" stroke-dasharray="3.5 1.8"/>
<path d="M338.86 347.00 L337.32 355.50 M344.94 347.00 L346.48 355.50" fill="none" stroke-linecap="round" stroke-linejoin="round" stroke="#900800" stroke-width="1.5" stroke-dasharray="2.2 3.1"/>
<path d="M418.88 343.00 L421.2 329.60 L423.52 343.00 M418.16 347.00 L416.62 355.50 M424.24 347.00 L425.78 355.50" fill="none" stroke-linecap="round" stroke-linejoin="round" stroke="#2c60f8" stroke-width="16.0" stroke-opacity="0.8075" filter="url(#blur2)"/>
<path d="M418.88 343.00 L421.2 329.60 L423.52 343.00" fill="none" stroke-linecap="round" stroke-linejoin="round" stroke="#28b0ff" stroke-width="8.6" stroke-opacity="0.8075" filter="url(#blur1)"/>
<path d="M418.16 347.00 L416.62 355.50 M424.24 347.00 L425.78 355.50" fill="none" stroke-linecap="round" stroke-linejoin="round" stroke="#28b0ff" stroke-width="6.6" stroke-opacity="0.765" filter="url(#blur1)"/>
<path d="M418.88 343.00 L421.2 329.60 L423.52 343.00" fill="none" stroke-linecap="round" stroke-linejoin="round" stroke="#40f0d0" stroke-width="4.9" filter="url(#blur05)"/>
<path d="M418.16 347.00 L416.62 355.50 M424.24 347.00 L425.78 355.50" fill="none" stroke-linecap="round" stroke-linejoin="round" stroke="#40f0d0" stroke-width="3.9" filter="url(#blur05)"/>
<path d="M418.88 343.00 L421.2 329.60 L423.52 343.00" fill="none" stroke-linecap="round" stroke-linejoin="round" stroke="#f0e800" stroke-width="4.0"/>
<path d="M418.88 343.00 L421.2 329.60 L423.52 343.00" fill="none" stroke-linecap="round" stroke-linejoin="round" stroke="#e83000" stroke-width="3.3"/>
<path d="M418.88 343.00 L421.2 329.60 L423.52 343.00" fill="none" stroke-linecap="round" stroke-linejoin="round" stroke="#6a0000" stroke-width="2.4"/>
<path d="M418.16 347.00 L416.62 355.50 M424.24 347.00 L425.78 355.50" fill="none" stroke-linecap="round" stroke-linejoin="round" stroke="#c8e820" stroke-width="3.0"/>
<path d="M418.16 347.00 L416.62 355.50 M424.24 347.00 L425.78 355.50" fill="none" stroke-linecap="round" stroke-linejoin="round" stroke="#f07000" stroke-width="2.2" stroke-dasharray="3.5 1.8"/>
<path d="M418.16 347.00 L416.62 355.50 M424.24 347.00 L425.78 355.50" fill="none" stroke-linecap="round" stroke-linejoin="round" stroke="#900800" stroke-width="1.5" stroke-dasharray="2.2 3.1"/>
<path d="M498.38 343.00 L500.7 329.60 L503.02 343.00 M497.66 347.00 L496.12 355.50 M503.74 347.00 L505.28 355.50" fill="none" stroke-linecap="round" stroke-linejoin="round" stroke="#2c60f8" stroke-width="16.0" stroke-opacity="0.8075" filter="url(#blur2)"/>
<path d="M498.38 343.00 L500.7 329.60 L503.02 343.00" fill="none" stroke-linecap="round" stroke-linejoin="round" stroke="#28b0ff" stroke-width="8.6" stroke-opacity="0.8075" filter="url(#blur1)"/>
<path d="M497.66 347.00 L496.12 355.50 M503.74 347.00 L505.28 355.50" fill="none" stroke-linecap="round" stroke-linejoin="round" stroke="#28b0ff" stroke-width="6.6" stroke-opacity="0.765" filter="url(#blur1)"/>
<path d="M498.38 343.00 L500.7 329.60 L503.02 343.00" fill="none" stroke-linecap="round" stroke-linejoin="round" stroke="#40f0d0" stroke-width="4.9" filter="url(#blur05)"/>
<path d="M497.66 347.00 L496.12 355.50 M503.74 347.00 L505.28 355.50" fill="none" stroke-linecap="round" stroke-linejoin="round" stroke="#40f0d0" stroke-width="3.9" filter="url(#blur05)"/>
<path d="M498.38 343.00 L500.7 329.60 L503.02 343.00" fill="none" stroke-linecap="round" stroke-linejoin="round" stroke="#f0e800" stroke-width="4.0"/>
<path d="M498.38 343.00 L500.7 329.60 L503.02 343.00" fill="none" stroke-linecap="round" stroke-linejoin="round" stroke="#e83000" stroke-width="3.3"/>
<path d="M498.38 343.00 L500.7 329.60 L503.02 343.00" fill="none" stroke-linecap="round" stroke-linejoin="round" stroke="#6a0000" stroke-width="2.4"/>
<path d="M497.66 347.00 L496.12 355.50 M503.74 347.00 L505.28 355.50" fill="none" stroke-linecap="round" stroke-linejoin="round" stroke="#c8e820" stroke-width="3.0"/>
<path d="M497.66 347.00 L496.12 355.50 M503.74 347.00 L505.28 355.50" fill="none" stroke-linecap="round" stroke-linejoin="round" stroke="#f07000" stroke-width="2.2" stroke-dasharray="3.5 1.8"/>
<path d="M497.66 347.00 L496.12 355.50 M503.74 347.00 L505.28 355.50" fill="none" stroke-linecap="round" stroke-linejoin="round" stroke="#900800" stroke-width="1.5" stroke-dasharray="2.2 3.1"/>
<path d="M332.6 245.1L329.4 241.9M342.6 245.3L339.6 241.7M352.5 245.4L349.9 241.6M362.5 245.5L360.1 241.5M372.4 245.6L370.4 241.4M382.3 245.6L380.7 241.4M392.3 245.7L390.9 241.3M402.1 245.8L401.3 241.2M412.0 245.8L411.6 241.2M421.9 245.8L421.9 241.2M431.7 245.8L432.3 241.2M441.6 245.8L442.6 241.2M451.5 245.7L452.9 241.3M461.4 245.6L463.2 241.4M471.4 245.6L473.4 241.4M481.3 245.5L483.7 241.5M491.3 245.4L493.9 241.6M501.2 245.2L504.2 241.8M511.1 245.1L514.5 241.9M332.7 251.5L329.3 248.3M342.6 251.7L339.6 248.2M352.5 251.8L349.9 248.1M362.5 251.9L360.1 248.0M372.4 252.0L370.4 247.9M382.4 252.1L380.6 247.8M392.3 252.1L390.9 247.7M402.2 252.2L401.2 247.7M412.0 252.2L411.6 247.6M421.9 252.2L421.9 247.6M431.7 252.2L432.3 247.6M441.6 252.2L442.6 247.7M451.5 252.1L452.9 247.7M461.4 252.0L463.2 247.8M471.3 252.0L473.5 247.9M481.3 251.9L483.7 248.0M491.2 251.8L494.0 248.1M501.2 251.6L504.2 248.2M511.1 251.5L514.5 248.4M332.7 257.9L329.3 254.8M342.6 258.1L339.6 254.6M352.6 258.2L349.8 254.5M362.5 258.3L360.1 254.4M372.5 258.4L370.3 254.3M382.4 258.5L380.6 254.2M392.3 258.5L390.9 254.2M402.2 258.6L401.2 254.1M412.1 258.6L411.5 254.1M421.9 258.7L421.9 254.1M431.7 258.6L432.3 254.1M441.5 258.6L442.7 254.1M451.4 258.5L453.0 254.2M461.4 258.5L463.2 254.3M471.3 258.4L473.5 254.3M481.3 258.3L483.7 254.4M491.2 258.2L494.0 254.5M501.2 258.1L504.2 254.7M511.1 257.9L514.5 254.8M332.7 264.3L329.3 261.3M342.6 264.5L339.6 261.1M352.6 264.6L349.8 260.9M362.5 264.7L360.1 260.8M372.5 264.8L370.3 260.8M382.5 264.9L380.5 260.7M392.4 264.9L390.8 260.6M402.3 265.0L401.1 260.6M412.1 265.1L411.5 260.5M421.9 265.1L421.9 260.5M431.7 265.1L432.3 260.5M441.5 265.0L442.7 260.6M451.4 264.9L453.0 260.6M461.3 264.9L463.3 260.7M471.3 264.8L473.5 260.8M481.3 264.7L483.7 260.8M491.2 264.6L494.0 261.0M501.1 264.5L504.3 261.1M511.1 264.3L514.5 261.3M332.7 270.7L329.3 267.7M342.6 270.9L339.6 267.5M352.5 271.1L349.9 267.4M362.5 271.2L360.1 267.3M372.5 271.2L370.3 267.2M382.5 271.3L380.5 267.2M392.5 271.3L390.7 267.1M402.3 271.4L401.1 267.0M412.1 271.5L411.5 266.9M421.9 271.5L421.9 266.9M431.6 271.5L432.4 267.0M441.4 271.4L442.8 267.0M451.3 271.3L453.1 267.1M461.3 271.3L463.3 267.2M471.3 271.2L473.5 267.2M481.3 271.2L483.7 267.3M491.2 271.1L494.0 267.4M501.1 270.9L504.3 267.5M511.0 270.7L514.6 267.7M332.8 277.1L329.2 274.2M342.6 277.4L339.6 273.9M352.5 277.5L349.9 273.8M362.5 277.6L360.1 273.7M372.6 277.6L370.2 273.7M382.6 277.7L380.4 273.6M392.6 277.7L390.6 273.6M402.4 277.8L401.0 273.5M412.2 277.9L411.4 273.4M421.9 277.9L421.9 273.4M431.6 277.9L432.4 273.4M441.3 277.8L442.9 273.5M451.2 277.7L453.2 273.6M461.2 277.7L463.4 273.6M471.2 277.6L473.6 273.7M481.3 277.6L483.7 273.7M491.3 277.5L493.9 273.8M501.2 277.4L504.2 273.9M511.0 277.1L514.6 274.2M332.8 283.6L329.2 280.6M342.6 283.8L339.6 280.3M352.4 284.0L350.0 280.1M362.4 284.1L360.2 280.1M372.6 284.1L370.2 280.1M382.7 284.0L380.3 280.1M392.7 284.1L390.5 280.1M402.6 284.2L400.8 280.0M412.3 284.3L411.3 279.8M421.9 284.4L421.9 279.8M431.5 284.3L432.5 279.8M441.2 284.2L443.0 280.0M451.0 284.1L453.4 280.1M461.1 284.0L463.5 280.1M471.2 284.1L473.6 280.1M481.4 284.1L483.6 280.1M491.4 284.0L493.8 280.1M501.2 283.8L504.2 280.3M511.0 283.5L514.6 280.6M332.8 290.0L329.2 287.0M342.5 290.3L339.7 286.7M352.3 290.6L350.1 286.5M362.3 290.6L360.3 286.4M372.6 290.5L370.2 286.6M382.9 290.3L380.1 286.7M393.0 290.4L390.2 286.6M402.8 290.5L400.6 286.5M412.4 290.7L411.2 286.3M421.9 290.8L421.9 286.2M431.3 290.7L432.7 286.3M441.0 290.5L443.2 286.5M450.8 290.4L453.6 286.7M460.9 290.3L463.7 286.7M471.2 290.5L473.6 286.5M481.5 290.6L483.5 286.4M491.5 290.5L493.7 286.5M501.3 290.3L504.1 286.7M511.0 289.9L514.6 287.1M332.8 296.4L329.2 293.5M342.4 296.9L339.8 293.0M352.0 297.1L350.4 292.8M362.0 297.1L360.6 292.8M372.7 296.9L370.1 293.0M383.2 296.5L379.8 293.4M393.2 296.6L390.0 293.3M403.0 296.8L400.4 293.0M412.5 297.1L411.1 292.8M421.8 297.2L422.0 292.6M431.2 297.1L432.8 292.8M440.7 296.8L443.5 293.1M450.5 296.5L453.9 293.3M460.6 296.5L464.0 293.3M471.2 296.9L473.6 293.0M481.8 297.1L483.2 292.7M491.8 297.1L493.4 292.8M501.4 296.8L504.0 293.1M511.0 296.3L514.6 293.5M332.8 302.8L329.2 300.0M342.2 303.4L340.0 299.3M351.5 303.7L350.9 299.1M361.4 303.7L361.2 299.1M372.8 303.2L370.0 299.6M383.5 302.5L379.5 300.3M393.5 302.6L389.7 300.1M403.3 303.0L400.1 299.7M412.7 303.5L410.9 299.3M421.8 303.7L422.0 299.1M431.0 303.4L433.0 299.3M440.4 303.0L443.8 299.8M450.2 302.6L454.2 300.2M460.3 302.5L464.3 300.3M471.2 303.3L473.6 299.4M482.5 303.7L482.5 299.1M492.3 303.6L492.9 299.1M501.5 303.3L503.9 299.4M510.9 302.7L514.7 300.0M332.9 309.1L329.1 306.5M341.9 309.9L340.3 305.7M350.7 310.0L351.7 305.6M360.0 309.7L362.6 305.9M373.5 308.7L369.3 306.9M383.8 308.0L379.2 307.6M393.8 308.4L389.4 307.2M403.6 309.1L399.8 306.5M413.0 309.8L410.6 305.8M421.8 310.1L422.0 305.5M430.7 309.7L433.3 305.9M440.1 309.0L444.1 306.6M450.0 308.4L454.4 307.2M460.0 307.9L464.6 307.7M470.8 309.4L474.0 306.2M483.7 309.7L481.3 305.9M493.0 310.1L492.2 305.5M501.7 309.9L503.7 305.7M510.8 309.0L514.8 306.6M333.0 315.3L329.0 313.2M341.7 316.4L340.5 312.0M349.8 316.1L352.6 312.4M359.0 314.5L363.6 313.9M371.6 311.9L371.2 316.5M383.6 313.3L379.4 315.2M393.9 314.2L389.3 314.3M403.9 315.0L399.5 313.5M413.3 316.0L410.3 312.5M421.8 316.5L422.0 311.9M430.3 315.8L433.7 312.6M439.9 314.9L444.3 313.6M449.9 314.0L454.5 314.4M460.3 313.1L464.3 315.3M472.8 312.0L472.0 316.5M484.7 314.8L480.3 313.7M493.8 316.2L491.4 312.3M501.8 316.4L503.6 312.1M510.7 315.1L514.9 313.3M333.3 321.1L328.7 320.2M341.6 322.9L340.6 318.4M349.1 321.5L353.3 319.8M359.3 319.6L363.3 321.7M371.3 318.4L371.5 323.0M383.1 319.0L379.9 322.3M393.8 319.9L389.4 321.4M404.0 320.7L399.4 320.6M413.8 321.8L409.8 319.5M421.7 322.9L422.1 318.4M429.9 321.6L434.1 319.7M439.8 320.6L444.4 320.7M450.1 319.8L454.3 321.5M460.8 318.9L463.8 322.4M472.8 318.4L472.0 322.9M484.6 319.8L480.4 321.5M494.6 321.8L490.6 319.5M501.7 322.8L503.7 318.6M510.5 320.9L515.1 320.4M333.2 326.3L328.8 327.9M349.0 326.3L353.4 327.9M360.0 325.2L362.6 329.0M371.5 324.8L371.3 329.4M382.8 325.2L380.2 329.0M393.5 325.7L389.7 328.4M403.9 326.3L399.5 327.9M414.1 327.0L409.5 327.2M429.7 326.9L434.3 327.3M440.0 326.2L444.2 328.0M450.4 325.7L454.0 328.5M461.1 325.1L463.5 329.1M472.5 324.8L472.3 329.4M484.0 325.3L481.0 328.9M494.8 326.5L490.4 327.7M510.7 326.2L514.9 328.0M332.3 331.6L329.7 335.4M350.2 331.5L352.2 335.6M360.8 331.3L361.8 335.8M371.8 331.2L371.0 335.8M382.6 331.5L380.4 335.6M393.1 331.8L390.1 335.3M403.4 332.0L400.0 335.1M413.7 332.2L409.9 334.9M430.2 332.1L433.8 334.9M440.4 331.9L443.8 335.1M450.8 331.7L453.6 335.3M461.3 331.4L463.3 335.6M472.1 331.2L472.7 335.8M483.1 331.3L481.9 335.7M493.6 331.5L491.6 335.6M511.5 331.6L514.1 335.4M331.2 337.7L330.8 342.2M351.4 337.7L351.0 342.2M361.7 337.7L360.9 342.2M372.1 337.8L370.7 342.1M382.5 337.9L380.5 342.0M392.7 337.9L390.5 342.0M402.7 337.9L400.7 342.0M412.7 337.9L410.9 342.0M431.1 337.9L432.9 342.0M441.1 337.9L443.1 342.0M451.1 337.9L453.3 342.0M461.4 337.8L463.2 342.1M471.7 337.7L473.1 342.2M482.2 337.7L482.8 342.2M492.5 337.7L492.7 342.2M512.6 337.7L513.0 342.2M329.9 344.3L332.1 348.4M352.4 344.4L350.0 348.3M362.5 344.4L360.1 348.4M372.4 344.3L370.4 348.4M382.4 344.3L380.6 348.5M392.3 344.2L390.9 348.6M401.9 344.1L401.5 348.7M411.4 344.1L412.2 348.6M432.3 344.1L431.7 348.7M441.8 344.1L442.4 348.7M451.5 344.2L452.9 348.6M461.4 344.3L463.2 348.5M471.4 344.3L473.4 348.4M481.3 344.4L483.7 348.4M491.4 344.4L493.8 348.3M513.8 344.3L511.8 348.4M328.9 351.8L333.1 353.8M353.4 352.0L349.0 353.6M363.1 351.3L359.5 354.3M372.7 350.9L370.1 354.7M382.4 350.7L380.6 354.9M391.9 350.5L391.3 355.1M401.1 350.6L402.3 355.0M410.0 351.3L413.6 354.3M433.6 351.2L430.4 354.5M442.5 350.6L441.7 355.1M451.8 350.5L452.6 355.1M461.3 350.7L463.3 354.9M471.0 351.0L473.8 354.6M480.7 351.4L484.3 354.2M514.8 351.7L510.8 353.9M328.7 359.6L333.3 358.9M363.4 358.3L359.2 360.2M373.0 357.6L369.8 360.9M382.4 357.1L380.6 361.3M391.7 356.9L391.5 361.5M400.6 357.2L402.8 361.3M434.2 358.5L429.8 360.0M443.0 357.1L441.2 361.3M452.0 357.0L452.4 361.5M461.3 357.2L463.3 361.3M470.7 357.6L474.1 360.8M480.3 358.5L484.7 360.0M515.1 359.4L510.5 359.1M329.0 366.9L333.0 364.5M363.6 365.2L359.0 366.1M373.2 364.2L369.6 367.1M382.5 363.6L380.5 367.7M391.6 363.4L391.6 368.0M400.4 363.8L403.0 367.6M434.3 365.3L429.7 366.0M443.2 363.7L441.0 367.7M452.0 363.4L452.4 368.0M461.2 363.7L463.4 367.7M470.6 364.3L474.2 367.0M480.2 365.4L484.8 366.0M514.9 366.7L510.7 364.7M363.6 371.9L359.0 372.3M373.3 370.8L369.5 373.4M382.6 370.1L380.4 374.1M391.7 369.8L391.5 374.4M400.5 370.2L402.9 374.0M443.1 370.1L441.1 374.1M452.0 369.8L452.4 374.4M461.1 370.2L463.5 374.0M470.4 370.9L474.4 373.3M480.2 372.1L484.8 372.1M514.6 373.6L511.0 370.6" stroke="#e0e4ff" stroke-width="0.5" stroke-opacity="0.62" fill="none"/>
<path d="M330.0 242.5L329.4 241.9M340.2 242.4L339.6 241.7M350.4 242.4L349.9 241.6M360.6 242.3L360.1 241.5M370.8 242.2L370.4 241.4M381.0 242.2L380.7 241.4M391.2 242.2L390.9 241.3M401.4 242.1L401.3 241.2M411.7 242.1L411.6 241.2M421.9 242.1L421.9 241.2M432.2 242.1L432.3 241.2M442.4 242.1L442.6 241.2M452.6 242.2L452.9 241.3M462.8 242.2L463.2 241.4M473.0 242.2L473.4 241.4M483.2 242.3L483.7 241.5M493.4 242.4L493.9 241.6M503.6 242.4L504.2 241.8M513.8 242.5L514.5 241.9M330.0 249.0L329.3 248.3M340.2 248.9L339.6 248.2M350.4 248.8L349.9 248.1M360.6 248.7L360.1 248.0M370.8 248.7L370.4 247.9M381.0 248.6L380.6 247.8M391.2 248.6L390.9 247.7M401.4 248.6L401.2 247.7M411.7 248.5L411.6 247.6M421.9 248.5L421.9 247.6M432.2 248.5L432.3 247.6M442.4 248.6L442.6 247.7M452.6 248.6L452.9 247.7M462.8 248.6L463.2 247.8M473.0 248.7L473.5 247.9M483.2 248.7L483.7 248.0M493.4 248.8L494.0 248.1M503.6 248.9L504.2 248.2M513.8 249.0L514.5 248.4M330.0 255.4L329.3 254.8M340.2 255.3L339.6 254.6M350.4 255.2L349.8 254.5M360.6 255.2L360.1 254.4M370.8 255.1L370.3 254.3M380.9 255.1L380.6 254.2M391.2 255.0L390.9 254.2M401.4 255.0L401.2 254.1M411.6 255.0L411.5 254.1M421.9 255.0L421.9 254.1M432.2 255.0L432.3 254.1M442.4 255.0L442.7 254.1M452.7 255.0L453.0 254.2M462.9 255.1L463.2 254.3M473.1 255.1L473.5 254.3M483.2 255.2L483.7 254.4M493.4 255.2L494.0 254.5M503.6 255.3L504.2 254.7M513.8 255.4L514.5 254.8M330.0 261.9L329.3 261.3M340.2 261.7L339.6 261.1M350.4 261.7L349.8 260.9M360.6 261.6L360.1 260.8M370.7 261.6L370.3 260.8M380.9 261.5L380.5 260.7M391.1 261.5L390.8 260.6M401.4 261.4L401.1 260.6M411.6 261.4L411.5 260.5M421.9 261.4L421.9 260.5M432.2 261.4L432.3 260.5M442.5 261.4L442.7 260.6M452.7 261.5L453.0 260.6M462.9 261.5L463.3 260.7M473.1 261.6L473.5 260.8M483.3 261.6L483.7 260.8M493.4 261.7L494.0 261.0M503.6 261.8L504.3 261.1M513.9 261.9L514.5 261.3M329.9 268.3L329.3 267.7M340.2 268.2L339.6 267.5M350.4 268.1L349.9 267.4M360.6 268.0L360.1 267.3M370.7 268.0L370.3 267.2M380.9 268.0L380.5 267.2M391.1 267.9L390.7 267.1M401.3 267.9L401.1 267.0M411.6 267.8L411.5 266.9M421.9 267.8L421.9 266.9M432.2 267.8L432.4 267.0M442.5 267.9L442.8 267.0M452.7 267.9L453.1 267.1M462.9 268.0L463.3 267.2M473.1 268.0L473.5 267.2M483.2 268.0L483.7 267.3M493.4 268.1L494.0 267.4M503.6 268.2L504.3 267.5M513.9 268.3L514.6 267.7M329.9 274.7L329.2 274.2M340.2 274.6L339.6 273.9M350.4 274.5L349.9 273.8M360.6 274.5L360.1 273.7M370.7 274.4L370.2 273.7M380.8 274.4L380.4 273.6M391.0 274.4L390.6 273.6M401.2 274.3L401.0 273.5M411.6 274.3L411.4 273.4M421.9 274.3L421.9 273.4M432.3 274.3L432.4 273.4M442.6 274.3L442.9 273.5M452.8 274.4L453.2 273.6M463.0 274.4L463.4 273.6M473.1 274.4L473.6 273.7M483.2 274.5L483.7 273.7M493.4 274.5L493.9 273.8M503.6 274.6L504.2 273.9M513.9 274.8L514.6 274.2M329.9 281.2L329.2 280.6M340.2 281.0L339.6 280.3M350.5 280.9L350.0 280.1M360.6 280.9L360.2 280.1M370.7 280.9L370.2 280.1M380.7 280.9L380.3 280.1M390.9 280.9L390.5 280.1M401.2 280.8L400.8 280.0M411.5 280.7L411.3 279.8M421.9 280.7L421.9 279.8M432.3 280.7L432.5 279.8M442.7 280.8L443.0 280.0M452.9 280.9L453.4 280.1M463.1 280.9L463.5 280.1M473.1 280.9L473.6 280.1M483.2 280.9L483.6 280.1M493.4 280.9L493.8 280.1M503.6 281.0L504.2 280.3M513.9 281.2L514.6 280.6M329.9 287.6L329.2 287.0M340.3 287.4L339.7 286.7M350.6 287.3L350.1 286.5M360.7 287.2L360.3 286.4M370.7 287.3L370.2 286.6M380.6 287.4L380.1 286.7M390.8 287.4L390.2 286.6M401.1 287.3L400.6 286.5M411.5 287.2L411.2 286.3M421.9 287.1L421.9 286.2M432.4 287.2L432.7 286.3M442.8 287.3L443.2 286.5M453.0 287.4L453.6 286.7M463.2 287.4L463.7 286.7M473.1 287.3L473.6 286.5M483.1 287.2L483.5 286.4M493.3 287.3L493.7 286.5M503.6 287.4L504.1 286.7M513.9 287.6L514.6 287.1M329.9 294.1L329.2 293.5M340.3 293.8L339.8 293.0M350.7 293.6L350.4 292.8M360.9 293.6L360.6 292.8M370.6 293.8L370.1 293.0M380.5 294.0L379.8 293.4M390.6 294.0L390.0 293.3M400.9 293.8L400.4 293.0M411.4 293.6L411.1 292.8M421.9 293.5L422.0 292.6M432.5 293.6L432.8 292.8M442.9 293.8L443.5 293.1M453.2 294.0L453.9 293.3M463.3 294.0L464.0 293.3M473.1 293.7L473.6 293.0M482.9 293.6L483.2 292.7M493.1 293.6L493.4 292.8M503.5 293.8L504.0 293.1M513.9 294.1L514.6 293.5M329.9 300.5L329.2 300.0M340.4 300.1L340.0 299.3M351.0 300.0L350.9 299.1M361.3 300.0L361.2 299.1M370.5 300.3L370.0 299.6M380.3 300.7L379.5 300.3M390.4 300.6L389.7 300.1M400.7 300.4L400.1 299.7M411.2 300.1L410.9 299.3M421.9 300.0L422.0 299.1M432.6 300.1L433.0 299.3M443.1 300.4L443.8 299.8M453.4 300.7L454.2 300.2M463.5 300.7L464.3 300.3M473.1 300.2L473.6 299.4M482.5 300.0L482.5 299.1M492.8 300.0L492.9 299.1M503.4 300.2L503.9 299.4M513.9 300.6L514.7 300.0M329.9 307.0L329.1 306.5M340.6 306.5L340.3 305.7M351.5 306.4L351.7 305.6M362.1 306.6L362.6 305.9M370.1 307.3L369.3 306.9M380.1 307.7L379.2 307.6M390.3 307.4L389.4 307.2M400.5 307.0L399.8 306.5M411.1 306.6L410.6 305.8M422.0 306.4L422.0 305.5M432.8 306.6L433.3 305.9M443.3 307.1L444.1 306.6M453.6 307.5L454.4 307.2M463.7 307.7L464.6 307.7M473.4 306.8L474.0 306.2M481.7 306.6L481.3 305.9M492.4 306.4L492.2 305.5M503.3 306.5L503.7 305.7M514.0 307.1L514.8 306.6M329.8 313.6L329.0 313.2M340.7 312.9L340.5 312.0M352.0 313.1L352.6 312.4M362.7 314.1L363.6 313.9M371.3 315.6L371.2 316.5M380.2 314.8L379.4 315.2M390.2 314.3L389.3 314.3M400.4 313.8L399.5 313.5M410.9 313.2L410.3 312.5M422.0 312.8L422.0 311.9M433.0 313.3L433.7 312.6M443.4 313.8L444.3 313.6M453.6 314.3L454.5 314.4M463.5 314.9L464.3 315.3M472.1 315.6L472.0 316.5M481.1 313.9L480.3 313.7M491.9 313.0L491.4 312.3M503.2 312.9L503.6 312.1M514.1 313.7L514.9 313.3M329.6 320.4L328.7 320.2M340.8 319.3L340.6 318.4M352.5 320.1L353.3 319.8M362.5 321.3L363.3 321.7M371.4 322.1L371.5 323.0M380.5 321.6L379.9 322.3M390.3 321.1L389.4 321.4M400.3 320.6L399.4 320.6M410.6 320.0L409.8 319.5M422.0 319.3L422.1 318.4M433.3 320.1L434.1 319.7M443.5 320.7L444.4 320.7M453.5 321.2L454.3 321.5M463.2 321.7L463.8 322.4M472.2 322.0L472.0 322.9M481.2 321.2L480.4 321.5M491.4 320.0L490.6 319.5M503.3 319.4L503.7 318.6M514.2 320.5L515.1 320.4M329.7 327.6L328.8 327.9M352.5 327.6L353.4 327.9M362.1 328.2L362.6 329.0M371.3 328.5L371.3 329.4M380.7 328.3L380.2 329.0M390.5 327.9L389.7 328.4M400.4 327.6L399.5 327.9M410.4 327.1L409.5 327.2M433.4 327.2L434.3 327.3M443.4 327.6L444.2 328.0M453.3 328.0L454.0 328.5M463.0 328.3L463.5 329.1M472.3 328.5L472.3 329.4M481.6 328.2L481.0 328.9M491.3 327.5L490.4 327.7M514.1 327.6L514.9 328.0M330.2 334.7L329.7 335.4M351.8 334.8L352.2 335.6M361.6 334.9L361.8 335.8M371.2 334.9L371.0 335.8M380.8 334.8L380.4 335.6M390.7 334.6L390.1 335.3M400.7 334.5L400.0 335.1M410.7 334.3L409.9 334.9M433.1 334.4L433.8 334.9M443.1 334.5L443.8 335.1M453.1 334.6L453.6 335.3M462.9 334.8L463.3 335.6M472.6 334.9L472.7 335.8M482.2 334.9L481.9 335.7M492.0 334.8L491.6 335.6M513.6 334.7L514.1 335.4M330.9 341.3L330.8 342.2M351.1 341.3L351.0 342.2M361.1 341.3L360.9 342.2M371.0 341.3L370.7 342.1M380.9 341.2L380.5 342.0M391.0 341.2L390.5 342.0M401.1 341.2L400.7 342.0M411.2 341.2L410.9 342.0M432.6 341.2L432.9 342.0M442.7 341.2L443.1 342.0M452.8 341.2L453.3 342.0M462.9 341.2L463.2 342.1M472.8 341.3L473.1 342.2M482.7 341.3L482.8 342.2M492.7 341.3L492.7 342.2M512.9 341.3L513.0 342.2M331.6 347.6L332.1 348.4M350.4 347.6L350.0 348.3M360.6 347.6L360.1 348.4M370.8 347.6L370.4 348.4M381.0 347.7L380.6 348.5M391.2 347.7L390.9 348.6M401.6 347.8L401.5 348.7M412.0 347.8L412.2 348.6M431.8 347.8L431.7 348.7M442.3 347.8L442.4 348.7M452.6 347.7L452.9 348.6M462.9 347.7L463.2 348.5M473.0 347.6L473.4 348.4M483.2 347.6L483.7 348.4M493.3 347.6L493.8 348.3M512.2 347.6L511.8 348.4M332.3 353.4L333.1 353.8M349.9 353.3L349.0 353.6M360.2 353.7L359.5 354.3M370.6 354.0L370.1 354.7M381.0 354.1L380.6 354.9M391.4 354.2L391.3 355.1M402.1 354.2L402.3 355.0M412.9 353.7L413.6 354.3M431.0 353.8L430.4 354.5M441.8 354.2L441.7 355.1M452.4 354.2L452.6 355.1M462.9 354.1L463.3 354.9M473.2 353.9L473.8 354.6M483.6 353.7L484.3 354.2M511.6 353.5L510.8 353.9M332.4 359.0L333.3 358.9M360.0 359.8L359.2 360.2M370.4 360.3L369.8 360.9M380.9 360.5L380.6 361.3M391.5 360.6L391.5 361.5M402.4 360.5L402.8 361.3M430.7 359.7L429.8 360.0M441.5 360.5L441.2 361.3M452.3 360.6L452.4 361.5M462.9 360.5L463.3 361.3M473.4 360.2L474.1 360.8M483.8 359.7L484.7 360.0M511.4 359.1L510.5 359.1M332.2 364.9L333.0 364.5M359.9 365.9L359.0 366.1M370.3 366.6L369.6 367.1M380.9 366.9L380.5 367.7M391.6 367.1L391.6 368.0M402.5 366.8L403.0 367.6M430.6 365.9L429.7 366.0M441.4 366.9L441.0 367.7M452.3 367.1L452.4 368.0M463.0 366.9L463.4 367.7M473.5 366.5L474.2 367.0M483.9 365.8L484.8 366.0M511.5 365.1L510.7 364.7M359.9 372.2L359.0 372.3M370.2 372.9L369.5 373.4M380.8 373.3L380.4 374.1M391.6 373.5L391.5 374.4M402.4 373.3L402.9 374.0M441.5 373.3L441.1 374.1M452.3 373.5L452.4 374.4M463.1 373.3L463.5 374.0M473.6 372.8L474.4 373.3M483.9 372.1L484.8 372.1M511.7 371.2L511.0 370.6" stroke="#ffffff" stroke-width="1.0" stroke-opacity="0.62" stroke-linecap="round" fill="none"/>
<path d="M341.9 330.2 L349.9 374.59999999999997 L333.9 374.59999999999997 Z" fill="#ffffff"/>
<path d="M421.2 330.2 L429.2 374.59999999999997 L413.2 374.59999999999997 Z" fill="#ffffff"/>
<path d="M500.7 330.2 L508.7 374.59999999999997 L492.7 374.59999999999997 Z" fill="#ffffff"/>
</g>
<g clip-path="url(#cciR)">
<rect x="520.2" y="240.3" width="105.6" height="133.89999999999998" fill="#1d1d8a"/>
<circle cx="573" cy="322" r="38" fill="url(#cirglow)"/>
<path d="M569.99 328.70 L573 309.40 L576.01 328.70 M569.21 333.50 L567.12 346.50 M576.79 333.50 L578.88 346.50" fill="none" stroke-linecap="round" stroke-linejoin="round" stroke="#2c60f8" stroke-width="17.3" stroke-opacity="0.8075" filter="url(#blur2)"/>
<path d="M569.99 328.70 L573 309.40 L576.01 328.70" fill="none" stroke-linecap="round" stroke-linejoin="round" stroke="#28b0ff" stroke-width="9.3" stroke-opacity="0.8075" filter="url(#blur1)"/>
<path d="M569.21 333.50 L567.12 346.50 M576.79 333.50 L578.88 346.50" fill="none" stroke-linecap="round" stroke-linejoin="round" stroke="#28b0ff" stroke-width="7.1" stroke-opacity="0.765" filter="url(#blur1)"/>
<path d="M569.99 328.70 L573 309.40 L576.01 328.70" fill="none" stroke-linecap="round" stroke-linejoin="round" stroke="#40f0d0" stroke-width="5.3" filter="url(#blur05)"/>
<path d="M569.21 333.50 L567.12 346.50 M576.79 333.50 L578.88 346.50" fill="none" stroke-linecap="round" stroke-linejoin="round" stroke="#40f0d0" stroke-width="4.2" filter="url(#blur05)"/>
<path d="M569.99 328.70 L573 309.40 L576.01 328.70" fill="none" stroke-linecap="round" stroke-linejoin="round" stroke="#f0e800" stroke-width="4.3"/>
<path d="M569.99 328.70 L573 309.40 L576.01 328.70" fill="none" stroke-linecap="round" stroke-linejoin="round" stroke="#e83000" stroke-width="3.6"/>
<path d="M569.99 328.70 L573 309.40 L576.01 328.70" fill="none" stroke-linecap="round" stroke-linejoin="round" stroke="#6a0000" stroke-width="2.6"/>
<path d="M569.21 333.50 L567.12 346.50 M576.79 333.50 L578.88 346.50" fill="none" stroke-linecap="round" stroke-linejoin="round" stroke="#c8e820" stroke-width="3.2"/>
<path d="M569.21 333.50 L567.12 346.50 M576.79 333.50 L578.88 346.50" fill="none" stroke-linecap="round" stroke-linejoin="round" stroke="#f07000" stroke-width="2.4" stroke-dasharray="3.5 1.8"/>
<path d="M569.21 333.50 L567.12 346.50 M576.79 333.50 L578.88 346.50" fill="none" stroke-linecap="round" stroke-linejoin="round" stroke="#900800" stroke-width="1.6" stroke-dasharray="2.2 3.1"/>
<path d="M524.0 244.1L520.4 240.5M536.4 244.4L533.4 240.2M548.7 244.7L546.5 239.9M560.9 244.8L559.7 239.8M573.0 244.9L573.0 239.7M585.1 244.8L586.3 239.8M597.3 244.7L599.5 239.9M609.6 244.4L612.6 240.2M622.0 244.1L625.6 240.5M524.2 253.9L520.2 250.7M536.6 254.3L533.2 250.3M548.9 254.6L546.3 250.0M561.0 254.8L559.6 249.8M573.0 254.9L573.0 249.7M585.0 254.8L586.4 249.8M597.1 254.6L599.7 250.0M609.4 254.3L612.8 250.3M621.8 253.9L625.8 250.7M524.4 263.7L520.0 260.9M536.8 264.1L533.0 260.5M549.1 264.4L546.1 260.2M561.1 264.8L559.5 259.8M573.0 264.9L573.0 259.7M584.9 264.8L586.5 259.8M596.9 264.4L599.9 260.2M609.2 264.1L613.0 260.5M621.6 263.7L626.0 260.9M524.6 273.4L519.8 271.2M537.1 273.8L532.7 270.8M549.3 274.2L545.9 270.4M561.3 274.7L559.3 269.9M573.0 274.9L573.0 269.7M584.7 274.7L586.7 269.9M596.7 274.2L600.1 270.4M608.9 273.8L613.3 270.8M621.4 273.4L626.2 271.2M524.7 282.9L519.7 281.7M537.3 283.3L532.5 281.3M549.6 283.9L545.6 280.7M561.6 284.6L559.0 280.0M573.0 284.9L573.0 279.7M584.4 284.6L587.0 280.0M596.4 283.9L600.4 280.7M608.7 283.3L613.5 281.3M621.3 282.9L626.3 281.7M524.8 292.4L519.6 292.2M537.5 292.7L532.3 291.9M550.0 293.3L545.2 291.3M562.1 294.2L558.5 290.4M573.0 294.9L573.0 289.7M583.9 294.2L587.5 290.4M596.0 293.3L600.8 291.3M608.5 292.7L613.7 291.9M621.2 292.4L626.4 292.2M524.7 301.7L519.7 302.9M537.5 302.0L532.3 302.6M550.2 302.4L545.0 302.2M562.7 303.2L557.9 301.4M573.0 304.9L573.0 299.7M583.3 303.2L588.1 301.4M595.8 302.4L601.0 302.2M608.5 302.0L613.7 302.6M621.3 301.7L626.3 302.9M524.5 311.1L519.9 313.5M537.2 311.1L532.6 313.5M550.0 311.3L545.2 313.3M562.8 311.5L557.8 313.1M583.2 311.5L588.2 313.1M596.0 311.3L600.8 313.3M608.8 311.1L613.4 313.5M621.5 311.1L626.1 313.5M524.0 320.5L520.4 324.1M536.6 320.4L533.2 324.2M549.2 320.3L546.0 324.3M561.9 320.3L558.7 324.3M584.1 320.3L587.3 324.3M596.8 320.3L600.0 324.3M609.4 320.4L612.8 324.2M622.0 320.5L625.6 324.1M523.4 330.0L521.0 334.6M535.8 329.9L534.0 334.7M548.1 329.7L547.1 334.9M560.4 329.7L560.2 334.9M585.6 329.7L585.8 334.9M597.9 329.7L598.9 334.9M610.2 329.9L612.0 334.7M622.6 330.0L625.0 334.6M522.8 339.8L521.6 344.8M534.9 339.7L534.9 344.9M546.7 339.8L548.5 344.8M558.6 340.3L562.0 344.3M587.4 340.3L584.0 344.3M599.3 339.8L597.5 344.8M611.1 339.7L611.1 344.9M623.2 339.8L624.4 344.8M522.2 349.7L522.2 354.9M534.0 349.8L535.8 354.8M545.7 350.5L549.5 354.1M557.7 352.1L562.9 352.5M588.3 352.1L583.1 352.5M600.3 350.5L596.5 354.1M612.0 349.8L610.2 354.8M623.8 349.7L623.8 354.9M521.7 359.7L522.7 364.9M533.5 360.1L536.3 364.5M545.3 361.2L549.9 363.4M600.7 361.2L596.1 363.4M612.5 360.1L609.7 364.5M624.3 359.7L623.3 364.9M521.4 369.8L523.0 374.8M533.2 370.3L536.6 374.3M545.1 371.5L550.1 373.1M600.9 371.5L595.9 373.1M612.8 370.3L609.4 374.3M624.6 369.8L623.0 374.8" stroke="#e0e4ff" stroke-width="0.5" stroke-opacity="0.62" fill="none"/>
<path d="M521.0 241.1L520.4 240.5M533.9 240.9L533.4 240.2M546.9 240.8L546.5 239.9M559.9 240.6L559.7 239.8M573.0 240.6L573.0 239.7M586.1 240.6L586.3 239.8M599.1 240.8L599.5 239.9M612.1 240.9L612.6 240.2M625.0 241.1L625.6 240.5M520.9 251.2L520.2 250.7M533.8 251.0L533.2 250.3M546.8 250.8L546.3 250.0M559.9 250.7L559.6 249.8M573.0 250.6L573.0 249.7M586.1 250.7L586.4 249.8M599.2 250.8L599.7 250.0M612.2 251.0L612.8 250.3M625.1 251.2L625.8 250.7M520.8 261.4L520.0 260.9M533.6 261.2L533.0 260.5M546.6 260.9L546.1 260.2M559.8 260.7L559.5 259.8M573.0 260.6L573.0 259.7M586.2 260.7L586.5 259.8M599.4 260.9L599.9 260.2M612.4 261.2L613.0 260.5M625.2 261.4L626.0 260.9M520.6 271.6L519.8 271.2M533.5 271.3L532.7 270.8M546.5 271.0L545.9 270.4M559.6 270.7L559.3 269.9M573.0 270.6L573.0 269.7M586.4 270.7L586.7 269.9M599.5 271.0L600.1 270.4M612.5 271.3L613.3 270.8M625.4 271.6L626.2 271.2M520.5 281.9L519.7 281.7M533.3 281.6L532.5 281.3M546.3 281.3L545.6 280.7M559.5 280.8L559.0 280.0M573.0 280.6L573.0 279.7M586.5 280.8L587.0 280.0M599.7 281.3L600.4 280.7M612.7 281.6L613.5 281.3M625.5 281.9L626.3 281.7M520.5 292.3L519.6 292.2M533.2 292.0L532.3 291.9M546.0 291.6L545.2 291.3M559.1 291.1L558.5 290.4M573.0 290.6L573.0 289.7M586.9 291.1L587.5 290.4M600.0 291.6L600.8 291.3M612.8 292.0L613.7 291.9M625.5 292.3L626.4 292.2M520.5 302.7L519.7 302.9M533.2 302.5L532.3 302.6M545.9 302.2L545.0 302.2M558.7 301.7L557.9 301.4M573.0 300.6L573.0 299.7M587.3 301.7L588.1 301.4M600.1 302.2L601.0 302.2M612.8 302.5L613.7 302.6M625.5 302.7L626.3 302.9M520.7 313.1L519.9 313.5M533.4 313.1L532.6 313.5M546.0 313.0L545.2 313.3M558.7 312.8L557.8 313.1M587.3 312.8L588.2 313.1M600.0 313.0L600.8 313.3M612.6 313.1L613.4 313.5M625.3 313.1L626.1 313.5M521.0 323.5L520.4 324.1M533.8 323.6L533.2 324.2M546.5 323.6L546.0 324.3M559.2 323.6L558.7 324.3M586.8 323.6L587.3 324.3M599.5 323.6L600.0 324.3M612.2 323.6L612.8 324.2M625.0 323.5L625.6 324.1M521.4 333.8L521.0 334.6M534.3 333.9L534.0 334.7M547.3 334.0L547.1 334.9M560.2 334.0L560.2 334.9M585.8 334.0L585.8 334.9M598.7 334.0L598.9 334.9M611.7 333.9L612.0 334.7M624.6 333.8L625.0 334.6M521.8 344.0L521.6 344.8M534.9 344.0L534.9 344.9M548.2 343.9L548.5 344.8M561.4 343.6L562.0 344.3M584.6 343.6L584.0 344.3M597.8 343.9L597.5 344.8M611.1 344.0L611.1 344.9M624.2 344.0L624.4 344.8M522.2 354.0L522.2 354.9M535.5 353.9L535.8 354.8M548.8 353.5L549.5 354.1M562.0 352.4L562.9 352.5M584.0 352.4L583.1 352.5M597.2 353.5L596.5 354.1M610.5 353.9L610.2 354.8M623.8 354.0L623.8 354.9M522.5 364.0L522.7 364.9M535.8 363.7L536.3 364.5M549.1 363.0L549.9 363.4M596.9 363.0L596.1 363.4M610.2 363.7L609.7 364.5M623.5 364.0L623.3 364.9M522.7 373.9L523.0 374.8M536.0 373.6L536.6 374.3M549.2 372.8L550.1 373.1M596.8 372.8L595.9 373.1M610.0 373.6L609.4 374.3M623.3 373.9L623.0 374.8" stroke="#ffffff" stroke-width="1.0" stroke-opacity="0.62" stroke-linecap="round" fill="none"/>
<path d="M573 310 L583.35 374.59999999999997 L562.65 374.59999999999997 Z" fill="#ffffff"/>
</g>
<text x="7" y="256.5" font-size="15.5" text-anchor="start" font-weight="bold" fill="#fff" stroke="#fff" stroke-width="0.22">bi</text>
<text x="328" y="257" font-size="15.5" text-anchor="start" font-weight="bold" fill="#fff" stroke="#fff" stroke-width="0.22">ci</text>
<path d="M44.5 500.2V437.4M166.4 447.4V384.6M61.9 492.7V429.9M183.8 455.0V392.2M79.3 485.1V422.3M201.2 462.6V399.8M96.7 477.6V414.8M218.6 470.2V407.4M114.2 470.0V407.2M236.0 477.9V415.1M131.6 462.5V399.7M253.4 485.5V422.7M149.0 454.9V392.1M270.8 493.1V430.3M166.4 447.4V384.6M288.2 500.7V437.9M44.5 500.2L166.4 447.4L288.2 500.7M44.5 484.5L166.4 431.7L288.2 485.0M44.5 468.8L166.4 416.0L288.2 469.3M44.5 453.1L166.4 400.3L288.2 453.6M44.5 437.4L166.4 384.6L288.2 437.9" fill="none" stroke="#ececec" stroke-width="0.55"/>
<polygon points="44.5,500.2 166.4,447.4 288.2,500.7 166.4,552.9" fill="#000064"/>
<ellipse cx="141.4" cy="502" rx="15" ry="5.5" fill="url(#biish)"/>
<ellipse cx="174.4" cy="500.5" rx="13" ry="5" fill="url(#biish)"/>
<ellipse cx="160.4" cy="513" rx="30" ry="13" fill="url(#biibg)"/>
<path d="M155.20000000000002 478 C154.8 492 152.4 503 142.4 511 L177.4 511 C166.4 503 162.6 492 162.0 478 Z" fill="url(#biifl)"/>
<ellipse cx="161.0" cy="513.8" rx="6" ry="2.6" fill="url(#biiws)"/>
<path d="M156.3 448 H160.5 L162.0 481.5 H155.20000000000002 Z" fill="url(#jetcol)"/>
<path d="M44.5 437.4V500.2L166.4 552.9L288.2 500.7M44.5 500.2h-2.6M44.5 497.1h-1.3M44.5 493.9h-1.3M44.5 490.8h-1.3M44.5 487.6h-1.3M44.5 484.5h-2.6M44.5 481.4h-1.3M44.5 478.2h-1.3M44.5 475.1h-1.3M44.5 471.9h-1.3M44.5 468.8h-2.6M44.5 465.7h-1.3M44.5 462.5h-1.3M44.5 459.4h-1.3M44.5 456.2h-1.3M44.5 453.1h-2.6M44.5 450.0h-1.3M44.5 446.8h-1.3M44.5 443.7h-1.3M44.5 440.5h-1.3M44.5 437.4h-2.6M44.5 500.2l-2.25 1.65M48.0 501.7l-1.12 0.83M51.5 503.2l-1.12 0.83M54.9 504.7l-1.12 0.83M58.4 506.2l-1.12 0.83M61.9 507.7l-2.25 1.65M65.4 509.2l-1.12 0.83M68.9 510.7l-1.12 0.83M72.4 512.2l-1.12 0.83M75.8 513.8l-1.12 0.83M79.3 515.3l-2.25 1.65M82.8 516.8l-1.12 0.83M86.3 518.3l-1.12 0.83M89.8 519.8l-1.12 0.83M93.3 521.3l-1.12 0.83M96.7 522.8l-2.25 1.65M100.2 524.3l-1.12 0.83M103.7 525.8l-1.12 0.83M107.2 527.3l-1.12 0.83M110.7 528.8l-1.12 0.83M114.2 530.3l-2.25 1.65M117.6 531.8l-1.12 0.83M121.1 533.3l-1.12 0.83M124.6 534.8l-1.12 0.83M128.1 536.3l-1.12 0.83M131.6 537.8l-2.25 1.65M135.1 539.3l-1.12 0.83M138.5 540.9l-1.12 0.83M142.0 542.4l-1.12 0.83M145.5 543.9l-1.12 0.83M149.0 545.4l-2.25 1.65M152.5 546.9l-1.12 0.83M156.0 548.4l-1.12 0.83M159.4 549.9l-1.12 0.83M162.9 551.4l-1.12 0.83M166.4 552.9l-2.25 1.65M166.4 552.9l2.25 1.65M169.9 551.4l1.12 0.83M173.4 549.9l1.12 0.83M176.8 548.4l1.12 0.83M180.3 546.9l1.12 0.83M183.8 545.4l2.25 1.65M187.3 544.0l1.12 0.83M190.8 542.5l1.12 0.83M194.2 541.0l1.12 0.83M197.7 539.5l1.12 0.83M201.2 538.0l2.25 1.65M204.7 536.5l1.12 0.83M208.2 535.0l1.12 0.83M211.6 533.5l1.12 0.83M215.1 532.0l1.12 0.83M218.6 530.5l2.25 1.65M222.1 529.0l1.12 0.83M225.6 527.5l1.12 0.83M229.0 526.1l1.12 0.83M232.5 524.6l1.12 0.83M236.0 523.1l2.25 1.65M239.5 521.6l1.12 0.83M243.0 520.1l1.12 0.83M246.4 518.6l1.12 0.83M249.9 517.1l1.12 0.83M253.4 515.6l2.25 1.65M256.9 514.1l1.12 0.83M260.4 512.6l1.12 0.83M263.8 511.1l1.12 0.83M267.3 509.6l1.12 0.83M270.8 508.2l2.25 1.65M274.3 506.7l1.12 0.83M277.8 505.2l1.12 0.83M281.2 503.7l1.12 0.83M284.7 502.2l1.12 0.83M288.2 500.7l2.25 1.65" fill="none" stroke="#3a3a3a" stroke-width="0.6"/>
<text x="37.8" y="501.29999999999995" font-size="7.2" text-anchor="end" font-weight="normal" fill="#222">0.0</text>
<text x="37.8" y="485.59999999999997" font-size="7.2" text-anchor="end" font-weight="normal" fill="#222">0.5</text>
<text x="37.8" y="469.9" font-size="7.2" text-anchor="end" font-weight="normal" fill="#222">1.0</text>
<text x="37.8" y="454.2" font-size="7.2" text-anchor="end" font-weight="normal" fill="#222">1.5</text>
<text x="37.8" y="438.49999999999994" font-size="7.2" text-anchor="end" font-weight="normal" fill="#222">2.0</text>
<text x="32.7" y="507.59999999999997" font-size="7.2" text-anchor="middle" font-weight="normal" fill="#222">600</text>
<text x="49.7" y="514.6" font-size="7.2" text-anchor="middle" font-weight="normal" fill="#222">500</text>
<text x="67.3" y="522.6999999999999" font-size="7.2" text-anchor="middle" font-weight="normal" fill="#222">400</text>
<text x="85" y="530.1999999999999" font-size="7.2" text-anchor="middle" font-weight="normal" fill="#222">300</text>
<text x="102.5" y="537.6999999999999" font-size="7.2" text-anchor="middle" font-weight="normal" fill="#222">200</text>
<text x="120.1" y="545.3" font-size="7.2" text-anchor="middle" font-weight="normal" fill="#222">100</text>
<text x="141.2" y="552.8" font-size="7.2" text-anchor="middle" font-weight="normal" fill="#222">0</text>
<text x="153.3" y="560.4" font-size="7.2" text-anchor="middle" font-weight="normal" fill="#222">−100</text>
<text x="299.5" y="505.59999999999997" font-size="7.2" text-anchor="middle" font-weight="normal" fill="#222">100</text>
<text x="279.4" y="513.9" font-size="7.2" text-anchor="middle" font-weight="normal" fill="#222">0</text>
<text x="265.6" y="521.9" font-size="7.2" text-anchor="middle" font-weight="normal" fill="#222">−100</text>
<text x="246.8" y="529.4" font-size="7.2" text-anchor="middle" font-weight="normal" fill="#222">−200</text>
<text x="228.4" y="537.1999999999999" font-size="7.2" text-anchor="middle" font-weight="normal" fill="#222">−300</text>
<text x="211.1" y="544.8" font-size="7.2" text-anchor="middle" font-weight="normal" fill="#222">−400</text>
<text x="194" y="552.3" font-size="7.2" text-anchor="middle" font-weight="normal" fill="#222">−500</text>
<text x="176.4" y="559.6" font-size="7.2" text-anchor="middle" font-weight="normal" fill="#222">−600</text>
<text x="92.5" y="552.8" font-size="8.65" text-anchor="middle" font-weight="normal" fill="#222">Y-axis (μm)</text>
<text x="267.3" y="541.9" font-size="8.65" text-anchor="middle" font-weight="normal" fill="#222">X-axis (μm)</text>
<text x="20.8" y="470.5" font-size="8.35" text-anchor="middle" font-weight="normal" fill="#222" transform="rotate(-90 20.8 470.5)">Current Density</text>
<text x="18" y="428.5" font-size="6.4" fill="#222">×10<tspan dy="-2.2" font-size="4.2">4</tspan></text>
<path d="M363.7 500.2V437.4M485.6 447.4V384.6M381.1 492.7V429.9M503.0 455.0V392.2M398.5 485.1V422.3M520.4 462.6V399.8M415.9 477.6V414.8M537.8 470.2V407.4M433.4 470.0V407.2M555.2 477.9V415.1M450.8 462.5V399.7M572.6 485.5V422.7M468.2 454.9V392.1M590.0 493.1V430.3M485.6 447.4V384.6M607.4 500.7V437.9M363.7 500.2L485.6 447.4L607.4 500.7M363.7 484.5L485.6 431.7L607.4 485.0M363.7 468.8L485.6 416.0L607.4 469.3M363.7 453.1L485.6 400.3L607.4 453.6M363.7 437.4L485.6 384.6L607.4 437.9" fill="none" stroke="#ececec" stroke-width="0.55"/>
<polygon points="363.7,500.2 485.6,447.4 607.4,500.7 485.6,552.9" fill="#000064"/>
<ellipse cx="460.6" cy="502" rx="15" ry="5.5" fill="url(#ciish)"/>
<ellipse cx="493.6" cy="500.5" rx="13" ry="5" fill="url(#ciish)"/>
<ellipse cx="479.6" cy="513" rx="30" ry="13" fill="url(#ciibg)"/>
<path d="M474.40000000000003 478 C474.0 492 471.6 503 461.6 511 L496.6 511 C485.6 503 481.8 492 481.20000000000005 478 Z" fill="url(#ciifl)"/>
<ellipse cx="480.20000000000005" cy="513.8" rx="6" ry="2.6" fill="url(#ciiws)"/>
<path d="M475.5 448 H479.70000000000005 L481.20000000000005 481.5 H474.40000000000003 Z" fill="url(#jetcol)"/>
<path d="M363.7 437.4V500.2L485.6 552.9L607.4 500.7M363.7 500.2h-2.6M363.7 497.1h-1.3M363.7 493.9h-1.3M363.7 490.8h-1.3M363.7 487.6h-1.3M363.7 484.5h-2.6M363.7 481.4h-1.3M363.7 478.2h-1.3M363.7 475.1h-1.3M363.7 471.9h-1.3M363.7 468.8h-2.6M363.7 465.7h-1.3M363.7 462.5h-1.3M363.7 459.4h-1.3M363.7 456.2h-1.3M363.7 453.1h-2.6M363.7 450.0h-1.3M363.7 446.8h-1.3M363.7 443.7h-1.3M363.7 440.5h-1.3M363.7 437.4h-2.6M363.7 500.2l-2.25 1.65M367.2 501.7l-1.12 0.83M370.7 503.2l-1.12 0.83M374.1 504.7l-1.12 0.83M377.6 506.2l-1.12 0.83M381.1 507.7l-2.25 1.65M384.6 509.2l-1.12 0.83M388.1 510.7l-1.12 0.83M391.6 512.2l-1.12 0.83M395.0 513.8l-1.12 0.83M398.5 515.3l-2.25 1.65M402.0 516.8l-1.12 0.83M405.5 518.3l-1.12 0.83M409.0 519.8l-1.12 0.83M412.5 521.3l-1.12 0.83M415.9 522.8l-2.25 1.65M419.4 524.3l-1.12 0.83M422.9 525.8l-1.12 0.83M426.4 527.3l-1.12 0.83M429.9 528.8l-1.12 0.83M433.4 530.3l-2.25 1.65M436.8 531.8l-1.12 0.83M440.3 533.3l-1.12 0.83M443.8 534.8l-1.12 0.83M447.3 536.3l-1.12 0.83M450.8 537.8l-2.25 1.65M454.3 539.3l-1.12 0.83M457.7 540.9l-1.12 0.83M461.2 542.4l-1.12 0.83M464.7 543.9l-1.12 0.83M468.2 545.4l-2.25 1.65M471.7 546.9l-1.12 0.83M475.2 548.4l-1.12 0.83M478.6 549.9l-1.12 0.83M482.1 551.4l-1.12 0.83M485.6 552.9l-2.25 1.65M485.6 552.9l2.25 1.65M489.1 551.4l1.12 0.83M492.6 549.9l1.12 0.83M496.0 548.4l1.12 0.83M499.5 546.9l1.12 0.83M503.0 545.4l2.25 1.65M506.5 544.0l1.12 0.83M510.0 542.5l1.12 0.83M513.4 541.0l1.12 0.83M516.9 539.5l1.12 0.83M520.4 538.0l2.25 1.65M523.9 536.5l1.12 0.83M527.4 535.0l1.12 0.83M530.8 533.5l1.12 0.83M534.3 532.0l1.12 0.83M537.8 530.5l2.25 1.65M541.3 529.0l1.12 0.83M544.8 527.5l1.12 0.83M548.2 526.1l1.12 0.83M551.7 524.6l1.12 0.83M555.2 523.1l2.25 1.65M558.7 521.6l1.12 0.83M562.2 520.1l1.12 0.83M565.6 518.6l1.12 0.83M569.1 517.1l1.12 0.83M572.6 515.6l2.25 1.65M576.1 514.1l1.12 0.83M579.6 512.6l1.12 0.83M583.0 511.1l1.12 0.83M586.5 509.6l1.12 0.83M590.0 508.2l2.25 1.65M593.5 506.7l1.12 0.83M597.0 505.2l1.12 0.83M600.4 503.7l1.12 0.83M603.9 502.2l1.12 0.83M607.4 500.7l2.25 1.65" fill="none" stroke="#3a3a3a" stroke-width="0.6"/>
<text x="357.0" y="501.29999999999995" font-size="7.2" text-anchor="end" font-weight="normal" fill="#222">0.0</text>
<text x="357.0" y="485.59999999999997" font-size="7.2" text-anchor="end" font-weight="normal" fill="#222">0.5</text>
<text x="357.0" y="469.9" font-size="7.2" text-anchor="end" font-weight="normal" fill="#222">1.0</text>
<text x="357.0" y="454.2" font-size="7.2" text-anchor="end" font-weight="normal" fill="#222">1.5</text>
<text x="357.0" y="438.49999999999994" font-size="7.2" text-anchor="end" font-weight="normal" fill="#222">2.0</text>
<text x="352.7" y="505.79999999999995" font-size="7.2" text-anchor="middle" font-weight="normal" fill="#222">600</text>
<text x="369.7" y="513.1" font-size="7.2" text-anchor="middle" font-weight="normal" fill="#222">500</text>
<text x="387.3" y="520.6" font-size="7.2" text-anchor="middle" font-weight="normal" fill="#222">400</text>
<text x="405" y="528.1999999999999" font-size="7.2" text-anchor="middle" font-weight="normal" fill="#222">300</text>
<text x="421.8" y="536.5" font-size="7.2" text-anchor="middle" font-weight="normal" fill="#222">200</text>
<text x="438.6" y="544.0" font-size="7.2" text-anchor="middle" font-weight="normal" fill="#222">100</text>
<text x="460.2" y="551.0" font-size="7.2" text-anchor="middle" font-weight="normal" fill="#222">0</text>
<text x="472" y="558.6" font-size="7.2" text-anchor="middle" font-weight="normal" fill="#222">−100</text>
<text x="617.8" y="505.09999999999997" font-size="7.2" text-anchor="middle" font-weight="normal" fill="#222">100</text>
<text x="597.7" y="513.9" font-size="7.2" text-anchor="middle" font-weight="normal" fill="#222">0</text>
<text x="584.4" y="520.9" font-size="7.2" text-anchor="middle" font-weight="normal" fill="#222">−100</text>
<text x="566.8" y="528.9" font-size="7.2" text-anchor="middle" font-weight="normal" fill="#222">−200</text>
<text x="549.2" y="536.0" font-size="7.2" text-anchor="middle" font-weight="normal" fill="#222">−300</text>
<text x="531.6" y="544.5" font-size="7.2" text-anchor="middle" font-weight="normal" fill="#222">−400</text>
<text x="514.8" y="551.5" font-size="7.2" text-anchor="middle" font-weight="normal" fill="#222">−500</text>
<text x="497.7" y="559.1" font-size="7.2" text-anchor="middle" font-weight="normal" fill="#222">−600</text>
<text x="391.6" y="541.0999999999999" font-size="8.65" text-anchor="middle" font-weight="normal" fill="#222">Y-axis (μm)</text>
<text x="578.8" y="546.1999999999999" font-size="8.65" text-anchor="middle" font-weight="normal" fill="#222">X-axis (μm)</text>
<text x="340.0" y="470.5" font-size="8.35" text-anchor="middle" font-weight="normal" fill="#222" transform="rotate(-90 340.0 470.5)">Current Density</text>
<text x="337.2" y="428.5" font-size="6.4" fill="#222">×10<tspan dy="-2.2" font-size="4.2">4</tspan></text>
<text x="6.3" y="404.6" font-size="16" text-anchor="start" font-weight="bold" fill="#000" stroke="#000" stroke-width="0.22">bii</text>
<text x="328" y="404.6" font-size="16" text-anchor="start" font-weight="bold" fill="#000" stroke="#000" stroke-width="0.22">cii</text>
<path d="M44.5 689.6V634.3M166.0 643.4V588.1M61.9 683.0V627.7M183.3 650.1V594.8M79.2 676.4V621.1M200.7 656.9V601.6M96.6 669.8V614.5M218.0 663.6V608.3M113.9 663.2V607.9M235.3 670.4V615.1M131.3 656.6V601.3M252.6 677.1V621.8M148.6 650.0V594.7M270.0 683.9V628.6M166.0 643.4V588.1M287.3 690.6V635.3M44.5 689.6L166.0 643.4L287.3 690.6M44.5 671.2L166.0 625.0L287.3 672.2M44.5 652.7L166.0 606.5L287.3 653.7M44.5 634.3L166.0 588.1L287.3 635.3" fill="none" stroke="#ececec" stroke-width="0.55"/>
<polygon points="44.5,689.6 166.0,643.4 287.3,690.6 166.5,737.0" fill="#18186e"/>
<g clip-path="url(#clipb3)">
<ellipse cx="137.39999999999998" cy="669.2" rx="13.4" ry="6.1" fill="url(#b3a0)"/>
<ellipse cx="127.9" cy="667.5" rx="7.0" ry="2.6" fill="#0a0a50" fill-opacity="0.35"/>
<path d="M133.9 659.4 Q133.9 657.8 136.2 657.8 Q138.5 657.8 138.5 659.4 C139.3 663.9 141.3 666.8 145.8 668.6 L126.6 668.6 C131.1 666.8 133.1 663.9 133.9 659.4 Z" fill="url(#b3a0b)"/>
<path d="M136.7 658.2 Q138.5 657.8 138.5 659.4 C139.3 663.9 141.3 666.8 145.8 668.6 L139.4 668.6 C138.3 665.0 137.4 662.9 136.7 658.2 Z" fill="#0a0e6c" fill-opacity="0.55"/>
<ellipse cx="137.7" cy="669.8" rx="4.8" ry="1.9" fill="url(#b3a0h)"/>
<ellipse cx="184.1" cy="664.5" rx="13.4" ry="6.1" fill="url(#b3a1)"/>
<ellipse cx="174.6" cy="662.8" rx="7.0" ry="2.6" fill="#0a0a50" fill-opacity="0.35"/>
<path d="M180.6 657.2 Q180.6 655.6 182.9 655.6 Q185.2 655.6 185.2 657.2 C186.0 660.2 188.0 662.1 192.5 663.9 L173.3 663.9 C177.8 662.1 179.8 660.2 180.6 657.2 Z" fill="url(#b3a1b)"/>
<path d="M183.4 656.0 Q185.2 655.6 185.2 657.2 C186.0 660.2 188.0 662.1 192.5 663.9 L186.1 663.9 C185.0 660.3 184.1 659.5 183.4 656.0 Z" fill="#0a0e6c" fill-opacity="0.55"/>
<ellipse cx="184.4" cy="665.1" rx="4.8" ry="1.9" fill="url(#b3a1h)"/>
<ellipse cx="160.0" cy="699.5" rx="31" ry="13" fill="url(#b3bg)"/>
<ellipse cx="125.0" cy="686.8000000000001" rx="13.4" ry="6.1" fill="url(#b3b0)"/>
<ellipse cx="115.5" cy="685.1" rx="7.0" ry="2.6" fill="#0a0a50" fill-opacity="0.35"/>
<path d="M121.5 670.5 Q121.5 668.9 123.8 668.9 Q126.1 668.9 126.1 670.5 C126.9 678.9 128.9 684.4 133.4 686.2 L114.2 686.2 C118.7 684.4 120.7 678.9 121.5 670.5 Z" fill="url(#b3b0b)"/>
<path d="M124.3 669.3 Q126.1 668.9 126.1 670.5 C126.9 678.9 128.9 684.4 133.4 686.2 L127.0 686.2 C125.9 682.6 125.0 677.2 124.3 669.3 Z" fill="#0a0e6c" fill-opacity="0.55"/>
<ellipse cx="125.3" cy="687.4" rx="4.8" ry="1.9" fill="url(#b3b0h)"/>
<ellipse cx="171.79999999999998" cy="682.5" rx="13.4" ry="6.1" fill="url(#b3b1)"/>
<ellipse cx="162.3" cy="680.8" rx="7.0" ry="2.6" fill="#0a0a50" fill-opacity="0.35"/>
<path d="M168.3 667.4 Q168.3 665.8 170.6 665.8 Q172.9 665.8 172.9 667.4 C173.7 675.1 175.7 680.1 180.2 681.9 L161.0 681.9 C165.5 680.1 167.5 675.1 168.3 667.4 Z" fill="url(#b3b1b)"/>
<path d="M171.1 666.2 Q172.9 665.8 172.9 667.4 C173.7 675.1 175.7 680.1 180.2 681.9 L173.8 681.9 C172.7 678.3 171.8 673.5 171.1 666.2 Z" fill="#0a0e6c" fill-opacity="0.55"/>
<ellipse cx="172.1" cy="683.1" rx="4.8" ry="1.9" fill="url(#b3b1h)"/>
<ellipse cx="218.79999999999998" cy="677.5" rx="13.4" ry="6.1" fill="url(#b3b2)"/>
<ellipse cx="209.3" cy="675.8" rx="7.0" ry="2.6" fill="#0a0a50" fill-opacity="0.35"/>
<path d="M215.3 669.6 Q215.3 668.0 217.6 668.0 Q219.9 668.0 219.9 669.6 C220.7 673.0 222.7 675.1 227.2 676.9 L208.0 676.9 C212.5 675.1 214.5 673.0 215.3 669.6 Z" fill="url(#b3b2b)"/>
<path d="M218.1 668.4 Q219.9 668.0 219.9 669.6 C220.7 673.0 222.7 675.1 227.2 676.9 L220.8 676.9 C219.7 673.3 218.8 672.1 218.1 668.4 Z" fill="#0a0e6c" fill-opacity="0.55"/>
<ellipse cx="219.1" cy="678.1" rx="4.8" ry="1.9" fill="url(#b3b2h)"/>
<ellipse cx="206.39999999999998" cy="695.5" rx="13.4" ry="6.1" fill="url(#b3b3)"/>
<ellipse cx="196.9" cy="693.8" rx="7.0" ry="2.6" fill="#0a0a50" fill-opacity="0.35"/>
<path d="M202.9 681.0 Q202.9 679.4 205.2 679.4 Q207.5 679.4 207.5 681.0 C208.3 688.3 210.3 693.1 214.8 694.9 L195.6 694.9 C200.1 693.1 202.1 688.3 202.9 681.0 Z" fill="url(#b3b3b)"/>
<path d="M205.7 679.8 Q207.5 679.4 207.5 681.0 C208.3 688.3 210.3 693.1 214.8 694.9 L208.4 694.9 C207.3 691.3 206.4 686.8 205.7 679.8 Z" fill="#0a0e6c" fill-opacity="0.55"/>
<ellipse cx="206.7" cy="696.1" rx="4.8" ry="1.9" fill="url(#b3b3h)"/>
<ellipse cx="253.79999999999998" cy="690.8000000000001" rx="13.4" ry="6.1" fill="url(#b3b4)"/>
<ellipse cx="244.3" cy="689.1" rx="7.0" ry="2.6" fill="#0a0a50" fill-opacity="0.35"/>
<path d="M250.3 685.0 Q250.3 683.4 252.6 683.4 Q254.9 683.4 254.9 685.0 C255.7 687.1 257.7 688.4 262.2 690.2 L243.0 690.2 C247.5 688.4 249.5 687.1 250.3 685.0 Z" fill="url(#b3b4b)"/>
<path d="M253.1 683.8 Q254.9 683.4 254.9 685.0 C255.7 687.1 257.7 688.4 262.2 690.2 L255.8 690.2 C254.7 686.6 253.8 686.5 253.1 683.8 Z" fill="#0a0e6c" fill-opacity="0.55"/>
<ellipse cx="254.1" cy="691.4" rx="4.8" ry="1.9" fill="url(#b3b4h)"/>
<path d="M154.9 676 C154.5 686 152.5 692 145.5 698 L173.5 698 C165.5 692 163.0 686 162.3 676 Z" fill="url(#b3fl)"/>
<ellipse cx="160.5" cy="699.8" rx="7.5" ry="3.2" fill="url(#b3ws)"/>
<path d="M155.2 645 Q155.2 643.2 158.5 643.2 Q161.9 643.2 161.9 645 L162.4 678 H154.8 Z" fill="url(#jetcol)"/>
<ellipse cx="147.0" cy="719.6" rx="13.4" ry="6.1" fill="url(#b3c0)"/>
<ellipse cx="137.5" cy="717.9" rx="7.0" ry="2.6" fill="#0a0a50" fill-opacity="0.35"/>
<path d="M143.5 699.9 Q143.5 698.3 145.8 698.3 Q148.1 698.3 148.1 699.9 C148.9 710.4 150.9 717.2 155.4 719.0 L136.2 719.0 C140.7 717.2 142.7 710.4 143.5 699.9 Z" fill="url(#b3c0b)"/>
<path d="M146.3 698.7 Q148.1 698.3 148.1 699.9 C148.9 710.4 150.9 717.2 155.4 719.0 L149.0 719.0 C147.9 715.4 147.0 708.3 146.3 698.7 Z" fill="#0a0e6c" fill-opacity="0.55"/>
<ellipse cx="147.3" cy="720.2" rx="4.8" ry="1.9" fill="url(#b3c0h)"/>
<ellipse cx="193.1" cy="714.1" rx="13.4" ry="6.1" fill="url(#b3c1)"/>
<ellipse cx="183.6" cy="712.4" rx="7.0" ry="2.6" fill="#0a0a50" fill-opacity="0.35"/>
<path d="M189.6 697.4 Q189.6 695.8 191.9 695.8 Q194.2 695.8 194.2 697.4 C195.0 706.1 197.0 711.7 201.5 713.5 L182.3 713.5 C186.8 711.7 188.8 706.1 189.6 697.4 Z" fill="url(#b3c1b)"/>
<path d="M192.4 696.2 Q194.2 695.8 194.2 697.4 C195.0 706.1 197.0 711.7 201.5 713.5 L195.1 713.5 C194.0 709.9 193.1 704.3 192.4 696.2 Z" fill="#0a0e6c" fill-opacity="0.55"/>
<ellipse cx="193.4" cy="714.7" rx="4.8" ry="1.9" fill="url(#b3c1h)"/>
<ellipse cx="241.39999999999998" cy="705.4000000000001" rx="13.4" ry="6.1" fill="url(#b3c2)"/>
<ellipse cx="231.9" cy="703.7" rx="7.0" ry="2.6" fill="#0a0a50" fill-opacity="0.35"/>
<path d="M237.9 700.5 Q237.9 698.9 240.2 698.9 Q242.5 698.9 242.5 700.5 C243.3 702.1 245.3 703.0 249.8 704.8 L230.6 704.8 C235.1 703.0 237.1 702.1 237.9 700.5 Z" fill="url(#b3c2b)"/>
<path d="M240.7 699.3 Q242.5 698.9 242.5 700.5 C243.3 702.1 245.3 703.0 249.8 704.8 L243.4 704.8 C242.3 701.2 241.4 701.5 240.7 699.3 Z" fill="#0a0e6c" fill-opacity="0.55"/>
<ellipse cx="241.7" cy="706.0" rx="4.8" ry="1.9" fill="url(#b3c2h)"/>
<ellipse cx="181.1" cy="729.5" rx="13.4" ry="6.1" fill="url(#b3c3)"/>
<ellipse cx="171.6" cy="727.8" rx="7.0" ry="2.6" fill="#0a0a50" fill-opacity="0.35"/>
<path d="M177.6 721.3 Q177.6 719.7 179.9 719.7 Q182.2 719.7 182.2 721.3 C183.0 724.9 185.0 727.1 189.5 728.9 L170.3 728.9 C174.8 727.1 176.8 724.9 177.6 721.3 Z" fill="url(#b3c3b)"/>
<path d="M180.4 720.1 Q182.2 719.7 182.2 721.3 C183.0 724.9 185.0 727.1 189.5 728.9 L183.1 728.9 C182.0 725.3 181.1 724.0 180.4 720.1 Z" fill="#0a0e6c" fill-opacity="0.55"/>
<ellipse cx="181.4" cy="730.1" rx="4.8" ry="1.9" fill="url(#b3c3h)"/>
</g>
<path d="M44.5 634.3V689.6L166.5 737.0L287.3 690.6M44.5 689.6h-2.6M44.5 685.9h-1.3M44.5 682.2h-1.3M44.5 678.5h-1.3M44.5 674.9h-1.3M44.5 671.2h-2.6M44.5 667.5h-1.3M44.5 663.8h-1.3M44.5 660.1h-1.3M44.5 656.4h-1.3M44.5 652.7h-2.6M44.5 649.0h-1.3M44.5 645.4h-1.3M44.5 641.7h-1.3M44.5 638.0h-1.3M44.5 634.3h-2.6M44.5 689.6l-2.25 1.65M48.0 691.0l-1.12 0.83M51.5 692.3l-1.12 0.83M55.0 693.7l-1.12 0.83M58.4 695.0l-1.12 0.83M61.9 696.4l-2.25 1.65M65.4 697.7l-1.12 0.83M68.9 699.1l-1.12 0.83M72.4 700.4l-1.12 0.83M75.9 701.8l-1.12 0.83M79.4 703.1l-2.25 1.65M82.8 704.5l-1.12 0.83M86.3 705.9l-1.12 0.83M89.8 707.2l-1.12 0.83M93.3 708.6l-1.12 0.83M96.8 709.9l-2.25 1.65M100.3 711.3l-1.12 0.83M103.8 712.6l-1.12 0.83M107.2 714.0l-1.12 0.83M110.7 715.3l-1.12 0.83M114.2 716.7l-2.25 1.65M117.7 718.0l-1.12 0.83M121.2 719.4l-1.12 0.83M124.7 720.7l-1.12 0.83M128.2 722.1l-1.12 0.83M131.6 723.5l-2.25 1.65M135.1 724.8l-1.12 0.83M138.6 726.2l-1.12 0.83M142.1 727.5l-1.12 0.83M145.6 728.9l-1.12 0.83M149.1 730.2l-2.25 1.65M152.6 731.6l-1.12 0.83M156.0 732.9l-1.12 0.83M159.5 734.3l-1.12 0.83M163.0 735.6l-1.12 0.83M166.5 737.0l-2.25 1.65M166.5 737.0l2.25 1.65M170.0 735.7l1.12 0.83M173.4 734.3l1.12 0.83M176.9 733.0l1.12 0.83M180.3 731.7l1.12 0.83M183.8 730.4l2.25 1.65M187.2 729.0l1.12 0.83M190.7 727.7l1.12 0.83M194.1 726.4l1.12 0.83M197.6 725.1l1.12 0.83M201.0 723.7l2.25 1.65M204.5 722.4l1.12 0.83M207.9 721.1l1.12 0.83M211.4 719.8l1.12 0.83M214.8 718.4l1.12 0.83M218.3 717.1l2.25 1.65M221.7 715.8l1.12 0.83M225.2 714.5l1.12 0.83M228.6 713.1l1.12 0.83M232.1 711.8l1.12 0.83M235.5 710.5l2.25 1.65M239.0 709.2l1.12 0.83M242.4 707.8l1.12 0.83M245.9 706.5l1.12 0.83M249.3 705.2l1.12 0.83M252.8 703.9l2.25 1.65M256.2 702.5l1.12 0.83M259.7 701.2l1.12 0.83M263.1 699.9l1.12 0.83M266.6 698.6l1.12 0.83M270.0 697.2l2.25 1.65M273.5 695.9l1.12 0.83M276.9 694.6l1.12 0.83M280.4 693.3l1.12 0.83M283.8 691.9l1.12 0.83M287.3 690.6l2.25 1.65" fill="none" stroke="#3a3a3a" stroke-width="0.6"/>
<text x="38" y="690.7" font-size="7.2" text-anchor="end" font-weight="normal" fill="#222">0</text>
<text x="38" y="672.2666666666668" font-size="7.2" text-anchor="end" font-weight="normal" fill="#222">5000</text>
<text x="38" y="653.8333333333334" font-size="7.2" text-anchor="end" font-weight="normal" fill="#222">10000</text>
<text x="38" y="635.4000000000001" font-size="7.2" text-anchor="end" font-weight="normal" fill="#222">15000</text>
<text x="32.7" y="695.8" font-size="7.2" text-anchor="middle" font-weight="normal" fill="#222">600</text>
<text x="49.7" y="701.8" font-size="7.2" text-anchor="middle" font-weight="normal" fill="#222">500</text>
<text x="67.3" y="708.9" font-size="7.2" text-anchor="middle" font-weight="normal" fill="#222">400</text>
<text x="85.4" y="715.9" font-size="7.2" text-anchor="middle" font-weight="normal" fill="#222">300</text>
<text x="102.5" y="722.1999999999999" font-size="7.2" text-anchor="middle" font-weight="normal" fill="#222">200</text>
<text x="120.1" y="729.0" font-size="7.2" text-anchor="middle" font-weight="normal" fill="#222">100</text>
<text x="140.7" y="735.8" font-size="7.2" text-anchor="middle" font-weight="normal" fill="#222">0</text>
<text x="153.3" y="742.3" font-size="7.2" text-anchor="middle" font-weight="normal" fill="#222">−100</text>
<text x="297.5" y="694.1999999999999" font-size="7.2" text-anchor="middle" font-weight="normal" fill="#222">100</text>
<text x="278" y="701.9" font-size="7.2" text-anchor="middle" font-weight="normal" fill="#222">0</text>
<text x="267.1" y="709.6999999999999" font-size="7.2" text-anchor="middle" font-weight="normal" fill="#222">−100</text>
<text x="249.5" y="715.3" font-size="7.2" text-anchor="middle" font-weight="normal" fill="#222">−200</text>
<text x="233.1" y="722.1" font-size="7.2" text-anchor="middle" font-weight="normal" fill="#222">−300</text>
<text x="214.5" y="728.6" font-size="7.2" text-anchor="middle" font-weight="normal" fill="#222">−400</text>
<text x="197.5" y="735.4" font-size="7.2" text-anchor="middle" font-weight="normal" fill="#222">−500</text>
<text x="178.9" y="742.1999999999999" font-size="7.2" text-anchor="middle" font-weight="normal" fill="#222">−600</text>
<text x="81" y="733.1999999999999" font-size="8.65" text-anchor="middle" font-weight="normal" fill="#222">Y-axis (μm)</text>
<text x="260.3" y="731.8" font-size="8.65" text-anchor="middle" font-weight="normal" fill="#222">X-axis (μm)</text>
<text x="13.3" y="661.5" font-size="8.35" text-anchor="middle" font-weight="normal" fill="#222" transform="rotate(-90 13.3 661.5)">Current Density</text>
<text x="6.3" y="594.6" font-size="16" text-anchor="start" font-weight="bold" fill="#000" stroke="#000" stroke-width="0.22">biii</text>
<path d="M364.5 689.6V634.3M485.7 642.8V587.5M381.8 682.9V627.6M503.1 649.6V594.3M399.1 676.2V620.9M520.4 656.5V601.2M416.4 669.5V614.2M537.8 663.3V608.0M433.8 662.9V607.6M555.1 670.1V614.8M451.1 656.2V600.9M572.5 676.9V621.6M468.4 649.5V594.2M589.8 683.8V628.5M485.7 642.8V587.5M607.2 690.6V635.3M364.5 689.6L485.7 642.8L607.2 690.6M364.5 671.2L485.7 624.4L607.2 672.2M364.5 652.7L485.7 605.9L607.2 653.7M364.5 634.3L485.7 587.5L607.2 635.3" fill="none" stroke="#ececec" stroke-width="0.55"/>
<polygon points="364.5,689.6 485.7,642.8 607.2,690.6 486.5,736.5" fill="#19195f"/>
<ellipse cx="480" cy="698" rx="33" ry="13.5" fill="url(#c3bg)"/>
<ellipse cx="463" cy="688.5" rx="16" ry="5" fill="url(#c3sh)"/>
<ellipse cx="494" cy="687" rx="12" ry="4" fill="url(#c3sh)"/>
<path d="M474.0 678.6 C474.2 675.4 475.6 674.4 477.7 674.4 C479.8 674.4 481.2 675.4 481.4 678.6 C482 680.5 482.8 681.2 483.7 682.6 C485 685 486 687.3 488.2 688.8 L467.2 688.8 C469.4 687.3 470.4 685 471.7 682.6 C472.6 681.2 473.4 680.5 474.0 678.6 Z" fill="url(#c3bell)"/>
<path d="M474.0 678.6 C474.2 676 475 675 476.2 674.6 C475.6 679 474.2 685.5 471.2 688.8 L467.2 688.8 C469.4 687.3 470.4 685 471.7 682.6 C472.6 681.2 473.4 680.5 474.0 678.6 Z" fill="#0a0a58" fill-opacity="0.75"/>
<ellipse cx="479.8" cy="698.4" rx="8" ry="3.2" fill="url(#c3ws)"/>
<ellipse cx="457.1" cy="668" rx="4" ry="1.3" fill="url(#c3dot)"/>
<ellipse cx="443.2" cy="685" rx="4" ry="1.3" fill="url(#c3dot)"/>
<ellipse cx="490.6" cy="680.4" rx="4" ry="1.3" fill="url(#c3dot)"/>
<ellipse cx="525.2" cy="693.4" rx="4" ry="1.3" fill="url(#c3dot)"/>
<ellipse cx="512.8" cy="711.3" rx="4" ry="1.3" fill="url(#c3dot)"/>
<ellipse cx="464.9" cy="716.6" rx="4" ry="1.3" fill="url(#c3dot)"/>
<ellipse cx="502" cy="663.3" rx="4" ry="1.3" fill="url(#c3dot)"/>
<ellipse cx="536" cy="675.7" rx="4" ry="1.3" fill="url(#c3dot)"/>
<ellipse cx="571.7" cy="688.7" rx="4" ry="1.3" fill="url(#c3dot)"/>
<path d="M364.5 634.3V689.6L486.5 736.5L607.2 690.6M364.5 689.6h-2.6M364.5 685.9h-1.3M364.5 682.2h-1.3M364.5 678.5h-1.3M364.5 674.9h-1.3M364.5 671.2h-2.6M364.5 667.5h-1.3M364.5 663.8h-1.3M364.5 660.1h-1.3M364.5 656.4h-1.3M364.5 652.7h-2.6M364.5 649.0h-1.3M364.5 645.4h-1.3M364.5 641.7h-1.3M364.5 638.0h-1.3M364.5 634.3h-2.6M364.5 689.6l-2.25 1.65M368.0 690.9l-1.12 0.83M371.5 692.3l-1.12 0.83M375.0 693.6l-1.12 0.83M378.4 695.0l-1.12 0.83M381.9 696.3l-2.25 1.65M385.4 697.6l-1.12 0.83M388.9 699.0l-1.12 0.83M392.4 700.3l-1.12 0.83M395.9 701.7l-1.12 0.83M399.4 703.0l-2.25 1.65M402.8 704.3l-1.12 0.83M406.3 705.7l-1.12 0.83M409.8 707.0l-1.12 0.83M413.3 708.4l-1.12 0.83M416.8 709.7l-2.25 1.65M420.3 711.0l-1.12 0.83M423.8 712.4l-1.12 0.83M427.2 713.7l-1.12 0.83M430.7 715.1l-1.12 0.83M434.2 716.4l-2.25 1.65M437.7 717.7l-1.12 0.83M441.2 719.1l-1.12 0.83M444.7 720.4l-1.12 0.83M448.2 721.8l-1.12 0.83M451.6 723.1l-2.25 1.65M455.1 724.4l-1.12 0.83M458.6 725.8l-1.12 0.83M462.1 727.1l-1.12 0.83M465.6 728.5l-1.12 0.83M469.1 729.8l-2.25 1.65M472.6 731.1l-1.12 0.83M476.0 732.5l-1.12 0.83M479.5 733.8l-1.12 0.83M483.0 735.2l-1.12 0.83M486.5 736.5l-2.25 1.65M486.5 736.5l2.25 1.65M489.9 735.2l1.12 0.83M493.4 733.9l1.12 0.83M496.8 732.6l1.12 0.83M500.3 731.3l1.12 0.83M503.7 729.9l2.25 1.65M507.2 728.6l1.12 0.83M510.6 727.3l1.12 0.83M514.1 726.0l1.12 0.83M517.5 724.7l1.12 0.83M521.0 723.4l2.25 1.65M524.4 722.1l1.12 0.83M527.9 720.8l1.12 0.83M531.3 719.5l1.12 0.83M534.8 718.1l1.12 0.83M538.2 716.8l2.25 1.65M541.7 715.5l1.12 0.83M545.1 714.2l1.12 0.83M548.6 712.9l1.12 0.83M552.0 711.6l1.12 0.83M555.5 710.3l2.25 1.65M558.9 709.0l1.12 0.83M562.4 707.6l1.12 0.83M565.8 706.3l1.12 0.83M569.3 705.0l1.12 0.83M572.7 703.7l2.25 1.65M576.2 702.4l1.12 0.83M579.6 701.1l1.12 0.83M583.1 699.8l1.12 0.83M586.5 698.5l1.12 0.83M590.0 697.2l2.25 1.65M593.4 695.8l1.12 0.83M596.9 694.5l1.12 0.83M600.3 693.2l1.12 0.83M603.8 691.9l1.12 0.83M607.2 690.6l2.25 1.65" fill="none" stroke="#3a3a3a" stroke-width="0.6"/>
<text x="358" y="690.7" font-size="7.2" text-anchor="end" font-weight="normal" fill="#222">0</text>
<text x="358" y="672.2666666666668" font-size="7.2" text-anchor="end" font-weight="normal" fill="#222">5000</text>
<text x="358" y="653.8333333333334" font-size="7.2" text-anchor="end" font-weight="normal" fill="#222">10000</text>
<text x="358" y="635.4000000000001" font-size="7.2" text-anchor="end" font-weight="normal" fill="#222">15000</text>
<text x="352.7" y="695.8" font-size="7.2" text-anchor="middle" font-weight="normal" fill="#222">600</text>
<text x="369.7" y="702.1" font-size="7.2" text-anchor="middle" font-weight="normal" fill="#222">500</text>
<text x="387.3" y="708.9" font-size="7.2" text-anchor="middle" font-weight="normal" fill="#222">400</text>
<text x="405" y="715.6999999999999" font-size="7.2" text-anchor="middle" font-weight="normal" fill="#222">300</text>
<text x="422.5" y="722.1999999999999" font-size="7.2" text-anchor="middle" font-weight="normal" fill="#222">200</text>
<text x="440.1" y="729.0" font-size="7.2" text-anchor="middle" font-weight="normal" fill="#222">100</text>
<text x="460.7" y="735.3" font-size="7.2" text-anchor="middle" font-weight="normal" fill="#222">0</text>
<text x="473.3" y="742.3" font-size="7.2" text-anchor="middle" font-weight="normal" fill="#222">−100</text>
<text x="618.1" y="696.1" font-size="7.2" text-anchor="middle" font-weight="normal" fill="#222">100</text>
<text x="598.9" y="703.5" font-size="7.2" text-anchor="middle" font-weight="normal" fill="#222">0</text>
<text x="585.6" y="709.6999999999999" font-size="7.2" text-anchor="middle" font-weight="normal" fill="#222">−100</text>
<text x="567.9" y="715.3" font-size="7.2" text-anchor="middle" font-weight="normal" fill="#222">−200</text>
<text x="550.9" y="722.1" font-size="7.2" text-anchor="middle" font-weight="normal" fill="#222">−300</text>
<text x="533" y="728.6" font-size="7.2" text-anchor="middle" font-weight="normal" fill="#222">−400</text>
<text x="515.3" y="735.4" font-size="7.2" text-anchor="middle" font-weight="normal" fill="#222">−500</text>
<text x="497.4" y="742.1999999999999" font-size="7.2" text-anchor="middle" font-weight="normal" fill="#222">−600</text>
<text x="392.4" y="730.0999999999999" font-size="8.65" text-anchor="middle" font-weight="normal" fill="#222">Y-axis (μm)</text>
<text x="577.2" y="731.8" font-size="8.65" text-anchor="middle" font-weight="normal" fill="#222">X-axis (μm)</text>
<text x="331.6" y="661.5" font-size="8.35" text-anchor="middle" font-weight="normal" fill="#222" transform="rotate(-90 331.6 661.5)">Current Density</text>
<text x="328" y="594.6" font-size="16" text-anchor="start" font-weight="bold" fill="#000" stroke="#000" stroke-width="0.22">ciii</text>
<path d="M44.3 885.3V822.0M166.4 834.2V770.9M61.7 878.0V814.7M183.9 841.6V778.3M79.2 870.7V807.4M201.5 848.9V785.6M96.6 863.4V800.1M219.0 856.3V793.0M114.1 856.1V792.8M236.6 863.7V800.4M131.5 848.8V785.5M254.1 871.1V807.8M149.0 841.5V778.2M271.7 878.4V815.1M166.4 834.2V770.9M289.2 885.8V822.5M44.3 885.3L166.4 834.2L289.2 885.8M44.3 869.5L166.4 818.4L289.2 870.0M44.3 853.6L166.4 802.6L289.2 854.1M44.3 837.8L166.4 786.7L289.2 838.3M44.3 822.0L166.4 770.9L289.2 822.5" fill="none" stroke="#ececec" stroke-width="0.55"/>
<path d="M44.3 884.8 C48 882 52 878 57 876.3 C60 878 62 879.5 66 878 L121.6 856 L150 842 L166 837 L192 848 L230 862 L288.1 884.5 L262.9 892.8 L243.2 896.1 L238 899 L235.5 902.7 L232.5 899.5 L214.7 909.3 L188.5 919.1 L181.5 921 L178.6 925.7 L176 922 L166.6 929.6 L142.5 916.5 L108.3 903.6 L75 894 Z" fill="url(#b4s)"/>
<g clip-path="url(#clipb4)">
<ellipse cx="166" cy="901" rx="64" ry="30" fill="url(#b4lt)"/>
<ellipse cx="88" cy="887" rx="46" ry="9" fill="url(#b4dk)" transform="rotate(-20 88 887)"/>
<ellipse cx="250" cy="877" rx="28" ry="5" fill="url(#b4dk)" transform="rotate(22 250 877)"/>
<ellipse cx="250" cy="893" rx="30" ry="5" fill="#2838c8" fill-opacity="0.4" transform="rotate(-18 250 893)" filter="url(#blur2)"/>
</g>
<ellipse cx="158.0" cy="871.00" rx="41.50" ry="16.60" fill="#081096" fill-opacity="0.00"/>
<ellipse cx="158.0" cy="870.73" rx="41.20" ry="16.48" fill="#08119d" fill-opacity="0.11"/>
<ellipse cx="158.0" cy="870.45" rx="40.90" ry="16.36" fill="#0713a5" fill-opacity="0.22"/>
<ellipse cx="158.0" cy="870.18" rx="40.59" ry="16.24" fill="#0714ac" fill-opacity="0.33"/>
<ellipse cx="158.0" cy="869.91" rx="40.29" ry="16.12" fill="#0715b4" fill-opacity="0.44"/>
<ellipse cx="158.0" cy="869.63" rx="40.00" ry="16.00" fill="#0616bb" fill-opacity="0.56"/>
<ellipse cx="158.0" cy="869.36" rx="39.70" ry="15.88" fill="#0618c2" fill-opacity="0.67"/>
<ellipse cx="158.0" cy="869.09" rx="39.40" ry="15.76" fill="#0519ca" fill-opacity="0.78"/>
<ellipse cx="158.0" cy="868.81" rx="39.11" ry="15.64" fill="#051ad1" fill-opacity="0.89"/>
<ellipse cx="158.0" cy="868.54" rx="38.81" ry="15.52" fill="#051cd9" fill-opacity="1.00"/>
<ellipse cx="158.0" cy="868.27" rx="38.52" ry="15.41" fill="#041de0" fill-opacity="1.00"/>
<ellipse cx="158.0" cy="867.99" rx="38.23" ry="15.29" fill="#041fe7" fill-opacity="1.00"/>
<ellipse cx="158.0" cy="867.72" rx="37.94" ry="15.17" fill="#0325e9" fill-opacity="1.00"/>
<ellipse cx="158.0" cy="867.45" rx="37.65" ry="15.06" fill="#032aec" fill-opacity="1.00"/>
<ellipse cx="158.0" cy="867.17" rx="37.36" ry="14.94" fill="#0330ef" fill-opacity="1.00"/>
<ellipse cx="158.0" cy="866.90" rx="37.07" ry="14.83" fill="#0235f2" fill-opacity="1.00"/>
<ellipse cx="158.0" cy="866.63" rx="36.78" ry="14.71" fill="#023bf4" fill-opacity="1.00"/>
<ellipse cx="158.0" cy="866.35" rx="36.50" ry="14.60" fill="#0140f7" fill-opacity="1.00"/>
<ellipse cx="158.0" cy="866.08" rx="36.21" ry="14.48" fill="#0146fa" fill-opacity="1.00"/>
<ellipse cx="158.0" cy="865.81" rx="35.93" ry="14.37" fill="#004cfd" fill-opacity="1.00"/>
<ellipse cx="158.0" cy="865.53" rx="35.65" ry="14.26" fill="#0052ff" fill-opacity="1.00"/>
<ellipse cx="158.0" cy="865.26" rx="35.37" ry="14.15" fill="#0059ff" fill-opacity="1.00"/>
<ellipse cx="158.0" cy="864.99" rx="35.09" ry="14.03" fill="#0061ff" fill-opacity="1.00"/>
<ellipse cx="158.0" cy="864.71" rx="34.81" ry="13.92" fill="#0069ff" fill-opacity="1.00"/>
<ellipse cx="158.0" cy="864.44" rx="34.53" ry="13.81" fill="#0070ff" fill-opacity="1.00"/>
<ellipse cx="158.0" cy="864.17" rx="34.26" ry="13.70" fill="#0078ff" fill-opacity="1.00"/>
<ellipse cx="158.0" cy="863.89" rx="33.98" ry="13.59" fill="#0080ff" fill-opacity="1.00"/>
<ellipse cx="158.0" cy="863.62" rx="33.71" ry="13.48" fill="#0087ff" fill-opacity="1.00"/>
<ellipse cx="158.0" cy="863.35" rx="33.44" ry="13.37" fill="#008fff" fill-opacity="1.00"/>
<ellipse cx="158.0" cy="863.07" rx="33.17" ry="13.27" fill="#0097ff" fill-opacity="1.00"/>
<ellipse cx="158.0" cy="862.80" rx="32.90" ry="13.16" fill="#009eff" fill-opacity="1.00"/>
<ellipse cx="158.0" cy="862.53" rx="32.63" ry="13.05" fill="#00a6ff" fill-opacity="1.00"/>
<ellipse cx="158.0" cy="862.25" rx="32.36" ry="12.94" fill="#00adff" fill-opacity="1.00"/>
<ellipse cx="158.0" cy="861.98" rx="32.10" ry="12.84" fill="#00b3fe" fill-opacity="1.00"/>
<ellipse cx="158.0" cy="861.71" rx="31.83" ry="12.73" fill="#00b9fe" fill-opacity="1.00"/>
<ellipse cx="158.0" cy="861.43" rx="31.57" ry="12.63" fill="#00bffe" fill-opacity="1.00"/>
<ellipse cx="158.0" cy="861.16" rx="31.31" ry="12.52" fill="#00c5fd" fill-opacity="1.00"/>
<ellipse cx="158.0" cy="860.89" rx="31.05" ry="12.42" fill="#00cbfd" fill-opacity="1.00"/>
<ellipse cx="158.0" cy="860.61" rx="30.79" ry="12.32" fill="#00d1fc" fill-opacity="1.00"/>
<ellipse cx="158.0" cy="860.34" rx="30.54" ry="12.21" fill="#00d7fc" fill-opacity="1.00"/>
<ellipse cx="158.0" cy="860.07" rx="30.28" ry="12.11" fill="#00ddfb" fill-opacity="1.00"/>
<ellipse cx="158.0" cy="859.79" rx="30.03" ry="12.01" fill="#00e3fb" fill-opacity="1.00"/>
<ellipse cx="158.0" cy="859.52" rx="29.78" ry="11.91" fill="#00e9fb" fill-opacity="1.00"/>
<ellipse cx="158.0" cy="859.25" rx="29.52" ry="11.81" fill="#00effa" fill-opacity="1.00"/>
<ellipse cx="158.0" cy="858.97" rx="29.28" ry="11.71" fill="#05f1f5" fill-opacity="1.00"/>
<ellipse cx="158.0" cy="858.70" rx="29.03" ry="11.61" fill="#0cf3ee" fill-opacity="1.00"/>
<ellipse cx="158.0" cy="858.43" rx="28.78" ry="11.51" fill="#13f5e7" fill-opacity="1.00"/>
<ellipse cx="158.0" cy="858.15" rx="28.54" ry="11.42" fill="#19f6e1" fill-opacity="1.00"/>
<ellipse cx="158.0" cy="857.88" rx="28.30" ry="11.32" fill="#20f8da" fill-opacity="1.00"/>
<ellipse cx="158.0" cy="857.61" rx="28.06" ry="11.22" fill="#27fad3" fill-opacity="1.00"/>
<ellipse cx="158.0" cy="857.33" rx="27.82" ry="11.13" fill="#2dfbcd" fill-opacity="1.00"/>
<ellipse cx="158.0" cy="857.06" rx="27.58" ry="11.03" fill="#34fdc6" fill-opacity="1.00"/>
<ellipse cx="158.0" cy="856.79" rx="27.35" ry="10.94" fill="#3bffbf" fill-opacity="1.00"/>
<ellipse cx="158.0" cy="856.51" rx="27.11" ry="10.85" fill="#44ffb6" fill-opacity="1.00"/>
<ellipse cx="158.0" cy="856.24" rx="26.88" ry="10.75" fill="#4effac" fill-opacity="1.00"/>
<ellipse cx="158.0" cy="855.97" rx="26.65" ry="10.66" fill="#58ffa2" fill-opacity="1.00"/>
<ellipse cx="158.0" cy="855.69" rx="26.42" ry="10.57" fill="#62ff98" fill-opacity="1.00"/>
<ellipse cx="158.0" cy="855.42" rx="26.20" ry="10.48" fill="#6cff8e" fill-opacity="1.00"/>
<ellipse cx="158.0" cy="855.15" rx="25.98" ry="10.39" fill="#76ff84" fill-opacity="1.00"/>
<ellipse cx="158.0" cy="854.87" rx="25.75" ry="10.30" fill="#80ff7a" fill-opacity="1.00"/>
<ellipse cx="158.0" cy="854.60" rx="25.53" ry="10.21" fill="#8aff70" fill-opacity="1.00"/>
<ellipse cx="158.0" cy="854.33" rx="25.32" ry="10.13" fill="#94ff66" fill-opacity="1.00"/>
<ellipse cx="158.0" cy="854.05" rx="25.10" ry="10.04" fill="#9efe5d" fill-opacity="1.00"/>
<ellipse cx="158.0" cy="853.78" rx="24.89" ry="9.96" fill="#a7fd54" fill-opacity="1.00"/>
<ellipse cx="158.0" cy="853.51" rx="24.68" ry="9.87" fill="#b0fc4b" fill-opacity="1.00"/>
<ellipse cx="158.0" cy="853.23" rx="24.47" ry="9.79" fill="#bafb42" fill-opacity="1.00"/>
<ellipse cx="158.0" cy="852.96" rx="24.27" ry="9.71" fill="#c3fa39" fill-opacity="1.00"/>
<ellipse cx="158.0" cy="852.69" rx="24.06" ry="9.63" fill="#cdf930" fill-opacity="1.00"/>
<ellipse cx="158.0" cy="852.41" rx="23.86" ry="9.55" fill="#d6f728" fill-opacity="1.00"/>
<ellipse cx="158.0" cy="852.14" rx="23.67" ry="9.47" fill="#e0f61f" fill-opacity="1.00"/>
<ellipse cx="158.0" cy="851.87" rx="23.47" ry="9.39" fill="#e9f516" fill-opacity="1.00"/>
<ellipse cx="158.0" cy="851.59" rx="23.28" ry="9.31" fill="#edf312" fill-opacity="1.00"/>
<ellipse cx="158.0" cy="851.32" rx="23.09" ry="9.24" fill="#f0f00f" fill-opacity="1.00"/>
<ellipse cx="158.0" cy="851.05" rx="22.91" ry="9.16" fill="#f3ed0c" fill-opacity="1.00"/>
<ellipse cx="158.0" cy="850.77" rx="22.72" ry="9.09" fill="#f6ea09" fill-opacity="1.00"/>
<ellipse cx="158.0" cy="850.50" rx="22.54" ry="9.02" fill="#f8e807" fill-opacity="1.00"/>
<ellipse cx="158.0" cy="850.23" rx="22.37" ry="8.95" fill="#fbe504" fill-opacity="1.00"/>
<ellipse cx="158.0" cy="849.95" rx="22.20" ry="8.88" fill="#fee201" fill-opacity="1.00"/>
<ellipse cx="158.0" cy="849.68" rx="22.03" ry="8.81" fill="#ffdb00" fill-opacity="1.00"/>
<ellipse cx="158.0" cy="849.41" rx="21.87" ry="8.75" fill="#ffd000" fill-opacity="1.00"/>
<ellipse cx="158.0" cy="849.13" rx="21.71" ry="8.68" fill="#ffc600" fill-opacity="1.00"/>
<ellipse cx="158.0" cy="848.86" rx="21.55" ry="8.62" fill="#ffbb00" fill-opacity="1.00"/>
<ellipse cx="158.0" cy="848.59" rx="21.40" ry="8.56" fill="#ffb100" fill-opacity="1.00"/>
<ellipse cx="158.0" cy="848.31" rx="21.26" ry="8.50" fill="#ffa700" fill-opacity="1.00"/>
<ellipse cx="158.0" cy="848.04" rx="21.12" ry="8.45" fill="#ff9c00" fill-opacity="1.00"/>
<ellipse cx="158.0" cy="847.77" rx="20.99" ry="8.40" fill="#ff9100" fill-opacity="1.00"/>
<ellipse cx="158.0" cy="847.49" rx="20.87" ry="8.35" fill="#ff8500" fill-opacity="1.00"/>
<ellipse cx="158.0" cy="847.22" rx="20.75" ry="8.30" fill="#ff7900" fill-opacity="1.00"/>
<ellipse cx="158.0" cy="846.95" rx="20.65" ry="8.26" fill="#ff6d00" fill-opacity="1.00"/>
<ellipse cx="158.0" cy="846.67" rx="20.56" ry="8.22" fill="#ff6100" fill-opacity="1.00"/>
<ellipse cx="158.0" cy="846.40" rx="20.50" ry="8.20" fill="#ff5500" fill-opacity="1.00"/>
<ellipse cx="158.0" cy="846.02" rx="20.48" ry="8.19" fill="#fc3c00"/>
<ellipse cx="158.0" cy="845.64" rx="20.40" ry="8.16" fill="#f93200"/>
<ellipse cx="158.0" cy="845.28" rx="20.28" ry="8.11" fill="#f62800"/>
<ellipse cx="158.0" cy="844.92" rx="20.11" ry="8.05" fill="#f41e00"/>
<ellipse cx="158.0" cy="844.59" rx="19.90" ry="7.96" fill="#f11400"/>
<ellipse cx="158.0" cy="844.28" rx="19.65" ry="7.86" fill="#ee0a00"/>
<ellipse cx="158.0" cy="844.00" rx="19.36" ry="7.74" fill="#eb0000"/>
<ellipse cx="158.0" cy="843.74" rx="19.03" ry="7.61" fill="#dd0000"/>
<ellipse cx="158.0" cy="843.52" rx="18.67" ry="7.47" fill="#ce0000"/>
<ellipse cx="158.0" cy="843.34" rx="18.29" ry="7.32" fill="#c00000"/>
<ellipse cx="158.0" cy="843.19" rx="17.89" ry="7.16" fill="#b20000"/>
<ellipse cx="158.0" cy="843.09" rx="17.47" ry="6.99" fill="#a40000"/>
<ellipse cx="158.0" cy="843.02" rx="17.04" ry="6.81" fill="#950000"/>
<ellipse cx="158.0" cy="843.00" rx="16.60" ry="6.64" fill="#870000"/>
<ellipse cx="158.0" cy="843.0" rx="16.6" ry="6.65" fill="url(#b4top)"/>
<ellipse cx="158.0" cy="843.00" rx="16.00" ry="6.40" fill="#aa0000"/>
<ellipse cx="158.0" cy="843.09" rx="15.49" ry="6.19" fill="#b61000"/>
<ellipse cx="158.0" cy="843.17" rx="14.97" ry="5.99" fill="#c21f00"/>
<ellipse cx="158.0" cy="843.26" rx="14.46" ry="5.78" fill="#ce2f00"/>
<ellipse cx="158.0" cy="843.34" rx="13.94" ry="5.58" fill="#db3f00"/>
<ellipse cx="158.0" cy="843.43" rx="13.43" ry="5.37" fill="#e74f00"/>
<ellipse cx="158.0" cy="843.51" rx="12.91" ry="5.17" fill="#f35e00"/>
<ellipse cx="158.0" cy="843.60" rx="12.40" ry="4.96" fill="#ff6e00"/>
<ellipse cx="158.0" cy="843.7" rx="12.2" ry="4.9" fill="url(#b4cr)"/>
<path d="M120.7 849.5 Q122.10000000000001 854.75 122.9 860 H118.5 Q119.3 854.75 120.7 849.5 Z" fill="#1c58f0"/>
<path d="M120.7 849.5 Q122.10000000000001 854.75 122.9 860 H121.10000000000001 Z" fill="#0828b0"/>
<path d="M127.2 847 Q128.6 852.5 129.4 858 H125.0 Q125.8 852.5 127.2 847 Z" fill="#1c58f0"/>
<path d="M127.2 847 Q128.6 852.5 129.4 858 H127.60000000000001 Z" fill="#0828b0"/>
<path d="M203.4 855.7 Q204.8 861.7 205.6 867.7 H201.20000000000002 Q202.0 861.7 203.4 855.7 Z" fill="#1c58f0"/>
<path d="M203.4 855.7 Q204.8 861.7 205.6 867.7 H203.8 Z" fill="#0828b0"/>
<path d="M207.1 859 Q208.5 864.0 209.29999999999998 869 H204.9 Q205.7 864.0 207.1 859 Z" fill="#1c58f0"/>
<path d="M207.1 859 Q208.5 864.0 209.29999999999998 869 H207.5 Z" fill="#0828b0"/>
<path d="M141.5 880.8 Q142.9 885.75 143.7 890.7 H139.3 Q140.1 885.75 141.5 880.8 Z" fill="#1c58f0"/>
<path d="M141.5 880.8 Q142.9 885.75 143.7 890.7 H141.9 Z" fill="#0828b0"/>
<path d="M149.6 882 Q151.0 889.0 151.79999999999998 896 H147.4 Q148.2 889.0 149.6 882 Z" fill="#1c58f0"/>
<path d="M149.6 882 Q151.0 889.0 151.79999999999998 896 H150.0 Z" fill="#0828b0"/>
<path d="M189 876.5 Q190.4 881.95 191.2 887.4 H186.8 Q187.6 881.95 189 876.5 Z" fill="#1c58f0"/>
<path d="M189 876.5 Q190.4 881.95 191.2 887.4 H189.4 Z" fill="#0828b0"/>
<path d="M195.5 875 Q196.9 882.5 197.7 890 H193.3 Q194.1 882.5 195.5 875 Z" fill="#1c58f0"/>
<path d="M195.5 875 Q196.9 882.5 197.7 890 H195.9 Z" fill="#0828b0"/>
<path d="M150 896 Q151 905 149 909" stroke="#000050" stroke-width="1.4" fill="none" stroke-opacity="0.7"/>
<path d="M196 890 Q197 898 196 902" stroke="#000050" stroke-width="1.4" fill="none" stroke-opacity="0.7"/>
<rect x="172.2" y="941.2" width="2.9" height="4.2" fill="none" stroke="#555" stroke-width="0.4"/>
<path d="M44.3 822.0V885.3L166.8 940.0L289.2 885.8M44.3 885.3h-2.6M44.3 882.1h-1.3M44.3 879.0h-1.3M44.3 875.8h-1.3M44.3 872.6h-1.3M44.3 869.5h-2.6M44.3 866.3h-1.3M44.3 863.1h-1.3M44.3 860.0h-1.3M44.3 856.8h-1.3M44.3 853.6h-2.6M44.3 850.5h-1.3M44.3 847.3h-1.3M44.3 844.2h-1.3M44.3 841.0h-1.3M44.3 837.8h-2.6M44.3 834.7h-1.3M44.3 831.5h-1.3M44.3 828.3h-1.3M44.3 825.2h-1.3M44.3 822.0h-2.6M44.3 885.3l-2.25 1.65M47.8 886.9l-1.12 0.83M51.3 888.4l-1.12 0.83M54.8 890.0l-1.12 0.83M58.3 891.6l-1.12 0.83M61.8 893.1l-2.25 1.65M65.3 894.7l-1.12 0.83M68.8 896.2l-1.12 0.83M72.3 897.8l-1.12 0.83M75.8 899.4l-1.12 0.83M79.3 900.9l-2.25 1.65M82.8 902.5l-1.12 0.83M86.3 904.1l-1.12 0.83M89.8 905.6l-1.12 0.83M93.3 907.2l-1.12 0.83M96.8 908.7l-2.25 1.65M100.3 910.3l-1.12 0.83M103.8 911.9l-1.12 0.83M107.3 913.4l-1.12 0.83M110.8 915.0l-1.12 0.83M114.3 916.6l-2.25 1.65M117.8 918.1l-1.12 0.83M121.3 919.7l-1.12 0.83M124.8 921.2l-1.12 0.83M128.3 922.8l-1.12 0.83M131.8 924.4l-2.25 1.65M135.3 925.9l-1.12 0.83M138.8 927.5l-1.12 0.83M142.3 929.1l-1.12 0.83M145.8 930.6l-1.12 0.83M149.3 932.2l-2.25 1.65M152.8 933.7l-1.12 0.83M156.3 935.3l-1.12 0.83M159.8 936.9l-1.12 0.83M163.3 938.4l-1.12 0.83M166.8 940.0l-2.25 1.65M166.8 940.0l2.25 1.65M170.3 938.5l1.12 0.83M173.8 936.9l1.12 0.83M177.3 935.4l1.12 0.83M180.8 933.8l1.12 0.83M184.3 932.3l2.25 1.65M187.8 930.7l1.12 0.83M191.3 929.2l1.12 0.83M194.8 927.6l1.12 0.83M198.3 926.1l1.12 0.83M201.8 924.5l2.25 1.65M205.3 923.0l1.12 0.83M208.8 921.4l1.12 0.83M212.3 919.9l1.12 0.83M215.8 918.3l1.12 0.83M219.3 916.8l2.25 1.65M222.8 915.2l1.12 0.83M226.3 913.7l1.12 0.83M229.7 912.1l1.12 0.83M233.2 910.6l1.12 0.83M236.7 909.0l2.25 1.65M240.2 907.5l1.12 0.83M243.7 905.9l1.12 0.83M247.2 904.4l1.12 0.83M250.7 902.8l1.12 0.83M254.2 901.3l2.25 1.65M257.7 899.7l1.12 0.83M261.2 898.2l1.12 0.83M264.7 896.6l1.12 0.83M268.2 895.1l1.12 0.83M271.7 893.5l2.25 1.65M275.2 892.0l1.12 0.83M278.7 890.4l1.12 0.83M282.2 888.9l1.12 0.83M285.7 887.3l1.12 0.83M289.2 885.8l2.25 1.65" fill="none" stroke="#3a3a3a" stroke-width="0.6"/>
<text x="38.5" y="886.4" font-size="7.2" text-anchor="end" font-weight="normal" fill="#222">0</text>
<text x="38.5" y="870.5749999999999" font-size="7.2" text-anchor="end" font-weight="normal" fill="#222">200</text>
<text x="38.5" y="854.75" font-size="7.2" text-anchor="end" font-weight="normal" fill="#222">400</text>
<text x="38.5" y="838.925" font-size="7.2" text-anchor="end" font-weight="normal" fill="#222">600</text>
<text x="38.5" y="823.1" font-size="7.2" text-anchor="end" font-weight="normal" fill="#222">800</text>
<text x="32.7" y="892.6" font-size="7.2" text-anchor="middle" font-weight="normal" fill="#222">600</text>
<text x="49.7" y="900.6" font-size="7.2" text-anchor="middle" font-weight="normal" fill="#222">500</text>
<text x="67.3" y="907.6999999999999" font-size="7.2" text-anchor="middle" font-weight="normal" fill="#222">400</text>
<text x="85" y="915.1999999999999" font-size="7.2" text-anchor="middle" font-weight="normal" fill="#222">300</text>
<text x="102.5" y="923.3" font-size="7.2" text-anchor="middle" font-weight="normal" fill="#222">200</text>
<text x="120.1" y="930.8" font-size="7.2" text-anchor="middle" font-weight="normal" fill="#222">100</text>
<text x="140.7" y="938.3" font-size="7.2" text-anchor="middle" font-weight="normal" fill="#222">0</text>
<text x="153.3" y="945.9" font-size="7.2" text-anchor="middle" font-weight="normal" fill="#222">−100</text>
<text x="297.5" y="891.4" font-size="7.2" text-anchor="middle" font-weight="normal" fill="#222">100</text>
<text x="279.1" y="900.1999999999999" font-size="7.2" text-anchor="middle" font-weight="normal" fill="#222">0</text>
<text x="265.8" y="907.8" font-size="7.2" text-anchor="middle" font-weight="normal" fill="#222">−100</text>
<text x="248" y="915.4" font-size="7.2" text-anchor="middle" font-weight="normal" fill="#222">−200</text>
<text x="229.8" y="923.0" font-size="7.2" text-anchor="middle" font-weight="normal" fill="#222">−300</text>
<text x="212.7" y="930.6" font-size="7.2" text-anchor="middle" font-weight="normal" fill="#222">−400</text>
<text x="195.6" y="938.1" font-size="7.2" text-anchor="middle" font-weight="normal" fill="#222">−500</text>
<text x="181.3" y="945.6999999999999" font-size="7.2" text-anchor="middle" font-weight="normal" fill="#222">600</text>
<text x="77.9" y="932.6999999999999" font-size="8.65" text-anchor="middle" font-weight="normal" fill="#222">Y-axis (μm)</text>
<text x="266.6" y="929.8" font-size="8.65" text-anchor="middle" font-weight="normal" fill="#222">X-axis (μm)</text>
<text x="19.1" y="853.5" font-size="8.35" text-anchor="middle" font-weight="normal" fill="#222" transform="rotate(-90 19.1 853.5)">Current Density</text>
<text x="6.3" y="775.6" font-size="16" text-anchor="start" font-weight="bold" fill="#000" stroke="#000" stroke-width="0.22">biv</text>
<path d="M362.0 885.3V822.0M485.5 834.4V771.1M379.6 878.0V814.7M503.4 841.8V778.5M397.3 870.8V807.5M521.2 849.3V786.0M414.9 863.5V800.2M539.1 856.7V793.4M432.6 856.2V792.9M556.9 864.1V800.8M450.2 848.9V785.6M574.8 871.5V808.2M467.9 841.7V778.4M592.6 879.0V815.7M485.5 834.4V771.1M610.5 886.4V823.1M362.0 885.3L485.5 834.4L610.5 886.4M362.0 869.5L485.5 818.6L610.5 870.6M362.0 853.6L485.5 802.8L610.5 854.8M362.0 837.8L485.5 786.9L610.5 838.9M362.0 822.0L485.5 771.1L610.5 823.1" fill="none" stroke="#ececec" stroke-width="0.55"/>
<path d="M363.8 885 C367 882.5 371 878.5 375.5 877 C378 876.5 379 876.5 381 875.5 L416.9 861 L454.9 844 C465 839.5 476 835.5 485.2 834.4 C495 836.5 503 842 511.8 845.9 C521 850 530 854.5 538.4 859 C550 864.5 561 868 572.5 872.4 L608.6 885.7 C601 888.5 594 890 587.7 891.4 C577 893.5 567 895 557.4 899 C545 904 534 909 523.2 914.2 C515 918.5 508 921.5 500.4 924.4 C495 927 490 931 485.2 931.3 C478 928.5 472 924.5 466.3 921.8 L435.9 910.4 L398 893.3 Z" fill="url(#c4s)"/>
<g clip-path="url(#clipc4)">
<path d="M420 862 L470 841 L486 836 L520 851 L560 868" stroke="#1616a8" stroke-width="6" fill="none" stroke-opacity="0.7" filter="url(#blur2)"/>
<ellipse cx="486" cy="880" rx="52" ry="30" fill="url(#c4lt)"/>
<ellipse cx="408" cy="886" rx="42" ry="9" fill="url(#c4dk)" transform="rotate(-18 408 886)"/>
<ellipse cx="566" cy="884" rx="30" ry="6" fill="url(#c4dk)" transform="rotate(20 566 884)"/>
<ellipse cx="545" cy="868" rx="20" ry="4" fill="url(#c4dk)" transform="rotate(24 545 868)"/>
<path d="M469 874 Q486 869 504 875 C507 886 511 900 513 911 Q490 923 464 917 C464 903 466 888 469 874 Z" fill="url(#c4tr)" filter="url(#blur1)"/>
<path d="M501 867 C509 878 515 893 518 906 C519 912 521 916 523 919" stroke="#00004c" stroke-width="4" fill="none" stroke-opacity="0.85" filter="url(#blur1)"/>
<path d="M464 876 C460 888 458 900 459 914" stroke="#00004c" stroke-width="3.5" fill="none" stroke-opacity="0.8" filter="url(#blur1)"/>
<ellipse cx="529" cy="905" rx="9" ry="5" fill="#3030d0" fill-opacity="0.7" filter="url(#blur1)"/>
<ellipse cx="452" cy="912" rx="6" ry="3.5" fill="#3434d0" fill-opacity="0.6" filter="url(#blur1)"/>
<ellipse cx="475.7" cy="865" rx="21" ry="8.2" fill="#0c0c98"/>
<path d="M455.5 868 A21 8.2 0 0 0 496 868 A21 5 0 0 1 455.5 868 Z" fill="#060670" fill-opacity="0.8"/>
<path d="M454.7 865 A21 8.2 0 0 1 496.7 865 A21 5.2 0 0 0 454.7 865 Z" fill="#2838e4" filter="url(#blur05)"/>
<path d="M530 868 l6 3 M548 875 l8 2 M565 885 l9 1 M540 893 l7 -2 M575 878 l6 3" stroke="#2028c0" stroke-width="1.2" fill="none" stroke-opacity="0.7" filter="url(#blur05)"/>
<path d="M523 862 l3 6 M534 870 l2 5" stroke="#00004a" stroke-width="1.3" fill="none" stroke-opacity="0.8"/>
</g>
<path d="M362.0 822.0V885.3L485.8 940.5L610.5 886.4M362.0 885.3h-2.6M362.0 882.1h-1.3M362.0 879.0h-1.3M362.0 875.8h-1.3M362.0 872.6h-1.3M362.0 869.5h-2.6M362.0 866.3h-1.3M362.0 863.1h-1.3M362.0 860.0h-1.3M362.0 856.8h-1.3M362.0 853.6h-2.6M362.0 850.5h-1.3M362.0 847.3h-1.3M362.0 844.2h-1.3M362.0 841.0h-1.3M362.0 837.8h-2.6M362.0 834.7h-1.3M362.0 831.5h-1.3M362.0 828.3h-1.3M362.0 825.2h-1.3M362.0 822.0h-2.6M362.0 885.3l-2.25 1.65M365.5 886.9l-1.12 0.83M369.1 888.5l-1.12 0.83M372.6 890.0l-1.12 0.83M376.1 891.6l-1.12 0.83M379.7 893.2l-2.25 1.65M383.2 894.8l-1.12 0.83M386.8 896.3l-1.12 0.83M390.3 897.9l-1.12 0.83M393.8 899.5l-1.12 0.83M397.4 901.1l-2.25 1.65M400.9 902.6l-1.12 0.83M404.4 904.2l-1.12 0.83M408.0 905.8l-1.12 0.83M411.5 907.4l-1.12 0.83M415.1 909.0l-2.25 1.65M418.6 910.5l-1.12 0.83M422.1 912.1l-1.12 0.83M425.7 913.7l-1.12 0.83M429.2 915.3l-1.12 0.83M432.7 916.8l-2.25 1.65M436.3 918.4l-1.12 0.83M439.8 920.0l-1.12 0.83M443.4 921.6l-1.12 0.83M446.9 923.2l-1.12 0.83M450.4 924.7l-2.25 1.65M454.0 926.3l-1.12 0.83M457.5 927.9l-1.12 0.83M461.0 929.5l-1.12 0.83M464.6 931.0l-1.12 0.83M468.1 932.6l-2.25 1.65M471.7 934.2l-1.12 0.83M475.2 935.8l-1.12 0.83M478.7 937.3l-1.12 0.83M482.3 938.9l-1.12 0.83M485.8 940.5l-2.25 1.65M485.8 940.5l2.25 1.65M489.4 939.0l1.12 0.83M492.9 937.4l1.12 0.83M496.5 935.9l1.12 0.83M500.1 934.3l1.12 0.83M503.6 932.8l2.25 1.65M507.2 931.2l1.12 0.83M510.7 929.7l1.12 0.83M514.3 928.1l1.12 0.83M517.9 926.6l1.12 0.83M521.4 925.0l2.25 1.65M525.0 923.5l1.12 0.83M528.6 922.0l1.12 0.83M532.1 920.4l1.12 0.83M535.7 918.9l1.12 0.83M539.2 917.3l2.25 1.65M542.8 915.8l1.12 0.83M546.4 914.2l1.12 0.83M549.9 912.7l1.12 0.83M553.5 911.1l1.12 0.83M557.1 909.6l2.25 1.65M560.6 908.0l1.12 0.83M564.2 906.5l1.12 0.83M567.7 904.9l1.12 0.83M571.3 903.4l1.12 0.83M574.9 901.9l2.25 1.65M578.4 900.3l1.12 0.83M582.0 898.8l1.12 0.83M585.6 897.2l1.12 0.83M589.1 895.7l1.12 0.83M592.7 894.1l2.25 1.65M596.2 892.6l1.12 0.83M599.8 891.0l1.12 0.83M603.4 889.5l1.12 0.83M606.9 887.9l1.12 0.83M610.5 886.4l2.25 1.65" fill="none" stroke="#3a3a3a" stroke-width="0.6"/>
<text x="356.5" y="886.4" font-size="7.2" text-anchor="end" font-weight="normal" fill="#222">0</text>
<text x="356.5" y="870.5749999999999" font-size="7.2" text-anchor="end" font-weight="normal" fill="#222">200</text>
<text x="356.5" y="854.75" font-size="7.2" text-anchor="end" font-weight="normal" fill="#222">400</text>
<text x="356.5" y="838.925" font-size="7.2" text-anchor="end" font-weight="normal" fill="#222">600</text>
<text x="356.5" y="823.1" font-size="7.2" text-anchor="end" font-weight="normal" fill="#222">800</text>
<text x="350.2" y="892.6" font-size="7.2" text-anchor="middle" font-weight="normal" fill="#222">600</text>
<text x="367.7" y="900.6" font-size="7.2" text-anchor="middle" font-weight="normal" fill="#222">500</text>
<text x="385.3" y="908.9" font-size="7.2" text-anchor="middle" font-weight="normal" fill="#222">400</text>
<text x="402.9" y="916.5" font-size="7.2" text-anchor="middle" font-weight="normal" fill="#222">300</text>
<text x="420.5" y="923.5" font-size="7.2" text-anchor="middle" font-weight="normal" fill="#222">200</text>
<text x="438.1" y="931.5" font-size="7.2" text-anchor="middle" font-weight="normal" fill="#222">100</text>
<text x="459.4" y="939.1" font-size="7.2" text-anchor="middle" font-weight="normal" fill="#222">0</text>
<text x="472" y="947.1" font-size="7.2" text-anchor="middle" font-weight="normal" fill="#222">−100</text>
<text x="616" y="891.4" font-size="7.2" text-anchor="middle" font-weight="normal" fill="#222">100</text>
<text x="597.2" y="900.1999999999999" font-size="7.2" text-anchor="middle" font-weight="normal" fill="#222">0</text>
<text x="584.7" y="907.8" font-size="7.2" text-anchor="middle" font-weight="normal" fill="#222">−100</text>
<text x="568" y="915.4" font-size="7.2" text-anchor="middle" font-weight="normal" fill="#222">−200</text>
<text x="550.9" y="923.0" font-size="7.2" text-anchor="middle" font-weight="normal" fill="#222">−300</text>
<text x="533.8" y="930.6" font-size="7.2" text-anchor="middle" font-weight="normal" fill="#222">−400</text>
<text x="516.4" y="938.1" font-size="7.2" text-anchor="middle" font-weight="normal" fill="#222">−500</text>
<text x="497.4" y="945.6999999999999" font-size="7.2" text-anchor="middle" font-weight="normal" fill="#222">−600</text>
<text x="390.4" y="929.4" font-size="8.65" text-anchor="middle" font-weight="normal" fill="#222">Y-axis (μm)</text>
<text x="571.8" y="935.8" font-size="8.65" text-anchor="middle" font-weight="normal" fill="#222">X-axis (μm)</text>
<text x="337.1" y="853.5" font-size="8.35" text-anchor="middle" font-weight="normal" fill="#222" transform="rotate(-90 337.1 853.5)">Current Density</text>
<text x="328" y="775.6" font-size="16" text-anchor="start" font-weight="bold" fill="#000" stroke="#000" stroke-width="0.22">civ</text>
</g>
</svg>
</body></html>
